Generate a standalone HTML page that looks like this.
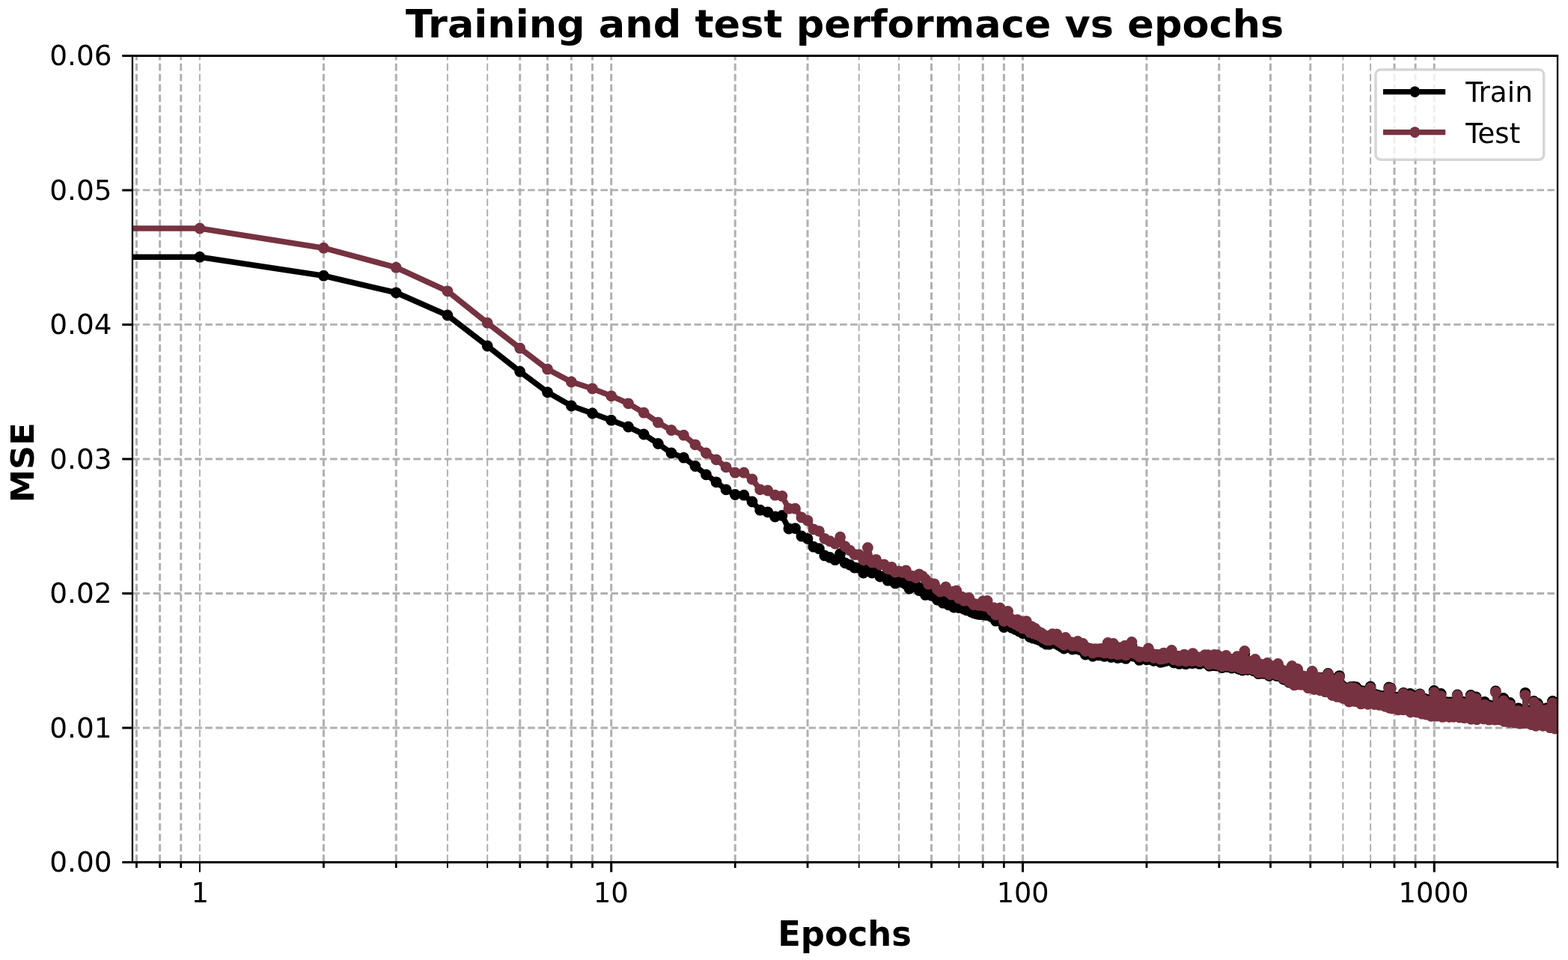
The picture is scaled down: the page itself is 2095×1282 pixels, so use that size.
<!DOCTYPE html>
<html lang="en"><head><meta charset="utf-8"><title>Training and test performace vs epochs</title>
<style>html,body{margin:0;padding:0;background:#fff;}body{width:2095px;height:1282px;overflow:hidden;font-family:'DejaVu Sans','Liberation Sans',sans-serif;}svg text{white-space:pre}</style>
</head><body>
<svg width="2095" height="1282" viewBox="0 0 2095 1282" style="display:block">
<rect width="2095" height="1282" fill="#fff"/>
<defs><clipPath id="ax"><rect x="176.95" y="74.45" width="1904.1000000000001" height="1077.05"/></clipPath></defs>
<path d="M182.43 1150.8V74.45M213.62 1150.8V74.45M241.74 1150.8V74.45M432.41 1150.8V74.45M529.22 1150.8V74.45M694.73 1150.8V74.45M731.53 1150.8V74.45M763.42 1150.8V74.45M791.54 1150.8V74.45M816.70 1150.8V74.45M982.21 1150.8V74.45M1079.02 1150.8V74.45M1244.53 1150.8V74.45M1313.22 1150.8V74.45M1341.34 1150.8V74.45M1366.50 1150.8V74.45M1532.01 1150.8V74.45M1628.82 1150.8V74.45M1697.51 1150.8V74.45M1750.79 1150.8V74.45M1863.02 1150.8V74.45M1891.14 1150.8V74.45M1916.30 1150.8V74.45" stroke="#b0b0b0" stroke-width="3.0" stroke-dasharray="9.6 4.30" fill="none" clip-path="url(#ax)"/>
<path d="M266.90 1150.8V74.45M597.91 1150.8V74.45M651.19 1150.8V74.45M1147.71 1150.8V74.45M1200.99 1150.8V74.45M1281.33 1150.8V74.45M1794.33 1150.8V74.45M1831.13 1150.8V74.45" stroke="#b0b0b0" stroke-width="2.0" stroke-dasharray="9.6 4.30" fill="none" clip-path="url(#ax)"/>
<path d="M176.95 971.99H2081.05M176.95 792.48H2081.05M176.95 612.98H2081.05M176.95 433.47H2081.05M176.95 253.96H2081.05" stroke="#b0b0b0" stroke-width="2.8" stroke-dasharray="9.6 4.30" fill="none" clip-path="url(#ax)"/>
<g clip-path="url(#ax)" fill="none" stroke-linejoin="round">
<path d="M-23.1 343.2 L266.9 343.2 L432.4 368.2 L529.2 390.8 L597.9 421.0 L651.2 462.0 L694.7 496.2 L731.5 523.8 L763.4 542.0 L791.5 552.0 L816.7 561.2 L839.5 570.0 L860.2 580.0 L879.3 592.5 L897.0 605.0 L913.5 611.2 L928.9 622.5 L943.4 633.8 L957.0 643.8 L970.0 653.8 L982.2 660.5 L993.9 661.2 L1005.0 670.0 L1015.6 681.2 L1025.7 683.8 L1035.5 690.0 L1044.9 688.4 L1053.9 706.0 L1062.5 705.6 L1070.9 716.0 L1079.0 719.3 L1086.9 730.2 L1094.4 732.7 L1101.8 741.9 L1108.9 744.4 L1115.8 747.7 L1122.6 739.4 L1129.1 751.8 L1135.5 754.3 L1141.7 758.0 L1147.7 758.6 L1153.6 765.1 L1159.4 761.0 L1165.0 765.1 L1170.5 764.5 L1175.8 770.1 L1181.1 769.5 L1186.2 775.2 L1191.2 773.7 L1196.2 778.9 L1201.0 773.7 L1205.7 777.7 L1210.4 780.3 L1214.9 786.0 L1219.4 782.0 L1223.8 781.9 L1228.1 788.5 L1232.3 785.2 L1236.4 794.4 L1240.5 791.0 L1244.5 795.2 L1248.5 789.4 L1252.4 801.0 L1256.2 800.2 L1259.9 805.2 L1263.6 801.0 L1267.3 807.7 L1270.9 804.0 L1274.4 811.0 L1277.9 807.0 L1281.3 811.5 L1284.7 810.8 L1288.1 813.6 L1291.4 814.8 L1294.6 811.7 L1297.8 817.3 L1301.0 818.5 L1304.1 819.6 L1307.2 820.3 L1310.2 820.6 L1313.2 815.0 L1316.2 821.3 L1319.1 814.1 L1322.0 822.0 L1324.9 823.7 L1327.7 822.7 L1330.5 829.2 L1333.2 824.4 L1336.0 822.4 L1338.7 826.0 L1341.3 837.6 L1344.0 828.2 L1346.6 826.1 L1349.2 834.4 L1351.7 838.3 L1354.3 838.6 L1356.8 840.5 L1359.2 836.2 L1361.7 843.0 L1364.1 838.3 L1366.5 845.7 L1368.9 840.6 L1371.2 837.3 L1373.6 843.1 L1375.9 850.5 L1378.1 843.9 L1380.4 852.2 L1382.7 846.2 L1384.9 853.6 L1387.1 850.3 L1389.3 854.9 L1391.4 851.9 L1393.6 857.7 L1395.7 854.8 L1397.8 860.2 L1399.9 856.5 L1401.9 860.3 L1404.0 857.1 L1406.0 852.3 L1408.0 857.8 L1410.0 859.3 L1412.0 852.2 L1414.0 861.3 L1415.9 859.0 L1417.9 863.6 L1419.8 859.6 L1421.7 866.0 L1423.6 855.9 L1425.4 862.8 L1427.3 860.8 L1429.1 861.3 L1431.0 861.7 L1432.8 867.0 L1434.6 862.9 L1436.4 866.4 L1438.2 864.1 L1439.9 860.5 L1441.7 865.3 L1443.4 868.1 L1445.1 866.4 L1446.8 863.5 L1448.5 867.6 L1450.2 874.1 L1451.9 868.7 L1453.6 873.2 L1455.2 869.8 L1456.9 872.7 L1458.5 870.6 L1460.1 876.3 L1461.7 870.8 L1463.3 871.1 L1464.9 870.9 L1466.5 874.8 L1468.0 870.7 L1469.6 874.9 L1471.1 870.4 L1472.7 871.7 L1474.2 870.2 L1475.7 876.4 L1477.2 869.9 L1478.7 871.7 L1480.2 862.4 L1481.7 870.6 L1483.2 869.4 L1484.6 877.5 L1486.1 869.1 L1487.5 863.4 L1488.9 868.9 L1490.4 873.4 L1491.8 868.6 L1493.2 878.5 L1494.6 868.5 L1496.0 877.9 L1497.4 869.1 L1498.8 876.0 L1500.1 869.6 L1501.5 870.4 L1502.8 866.4 L1504.2 879.4 L1505.5 870.8 L1506.8 872.3 L1508.2 871.4 L1509.5 871.9 L1510.8 871.9 L1512.1 861.3 L1513.4 872.5 L1514.7 876.3 L1516.0 873.0 L1517.2 873.5 L1518.5 873.6 L1519.8 875.2 L1521.0 874.1 L1522.3 881.4 L1523.5 876.7 L1524.7 879.7 L1526.0 875.1 L1527.2 876.0 L1528.4 879.3 L1529.6 879.4 L1530.8 875.8 L1532.0 881.1 L1533.2 880.4 L1534.4 869.8 L1535.6 876.5 L1536.7 878.5 L1537.9 878.7 L1539.1 879.0 L1540.2 877.2 L1541.4 882.6 L1542.5 878.1 L1543.7 880.4 L1544.8 877.8 L1545.9 880.9 L1547.0 878.8 L1548.2 881.7 L1549.3 878.1 L1550.4 884.3 L1551.5 881.0 L1552.6 883.9 L1553.7 878.4 L1554.8 875.7 L1555.8 879.0 L1556.9 882.8 L1558.0 878.6 L1559.1 880.7 L1560.1 881.9 L1561.2 880.5 L1562.2 878.9 L1563.3 879.9 L1564.3 880.9 L1565.4 872.2 L1566.4 879.2 L1567.4 882.3 L1568.5 884.9 L1569.5 884.5 L1570.5 879.4 L1571.5 879.7 L1572.5 880.2 L1573.5 879.9 L1574.5 879.7 L1575.5 886.4 L1576.5 880.2 L1577.5 884.7 L1578.5 879.9 L1579.5 883.2 L1580.5 884.2 L1581.4 885.4 L1582.4 877.6 L1583.4 882.5 L1584.3 886.7 L1585.3 884.0 L1586.2 880.5 L1587.2 884.1 L1588.1 881.5 L1589.1 883.0 L1590.0 880.7 L1591.0 882.0 L1591.9 883.2 L1592.8 885.8 L1593.7 876.1 L1594.7 884.1 L1595.6 881.8 L1596.5 884.9 L1597.4 881.2 L1598.3 883.6 L1599.2 882.0 L1600.1 885.4 L1601.0 881.5 L1601.9 883.5 L1602.8 886.4 L1603.7 885.5 L1604.5 881.1 L1605.4 883.3 L1606.3 883.5 L1607.2 884.2 L1608.0 880.7 L1608.9 881.3 L1609.8 878.1 L1610.6 885.5 L1611.5 880.4 L1612.3 882.6 L1613.2 882.0 L1614.0 878.1 L1614.9 880.0 L1615.7 889.3 L1616.6 888.3 L1617.4 885.7 L1618.2 879.7 L1619.1 881.0 L1619.9 888.7 L1620.7 888.0 L1621.5 880.0 L1622.4 877.9 L1623.2 887.0 L1624.0 887.0 L1624.8 880.3 L1625.6 889.0 L1626.4 878.1 L1627.2 887.0 L1628.0 880.5 L1628.8 888.6 L1629.6 885.0 L1630.4 889.5 L1631.2 880.8 L1632.0 884.2 L1632.8 891.5 L1633.5 886.2 L1634.3 881.3 L1635.1 884.0 L1635.9 889.1 L1636.7 887.3 L1637.4 882.0 L1638.2 878.8 L1639.0 889.4 L1639.7 890.5 L1640.5 882.7 L1641.2 886.9 L1642.0 884.8 L1642.7 885.8 L1643.5 883.3 L1644.2 885.7 L1645.0 886.6 L1645.7 892.0 L1646.5 883.9 L1647.2 884.9 L1647.9 885.8 L1648.7 887.0 L1649.4 884.2 L1650.1 885.9 L1650.9 890.8 L1651.6 890.0 L1652.3 884.4 L1653.0 879.9 L1653.7 891.3 L1654.5 893.1 L1655.2 884.7 L1655.9 890.5 L1656.6 893.8 L1657.3 888.6 L1658.0 885.0 L1658.7 891.3 L1659.4 885.5 L1660.1 895.1 L1660.8 885.3 L1661.5 885.5 L1662.2 887.9 L1662.9 872.7 L1663.6 885.5 L1664.3 889.9 L1664.9 887.9 L1665.6 892.0 L1666.3 885.8 L1667.0 894.6 L1667.7 889.8 L1668.3 890.4 L1669.0 886.1 L1669.7 886.7 L1670.4 893.5 L1671.0 886.7 L1671.7 886.6 L1672.4 892.5 L1673.0 887.4 L1673.7 887.4 L1674.3 887.3 L1675.0 895.8 L1675.6 894.1 L1676.3 889.0 L1677.0 883.6 L1677.6 894.2 L1678.3 891.9 L1678.9 896.6 L1679.5 888.7 L1680.2 892.3 L1680.8 897.8 L1681.5 899.7 L1682.1 889.5 L1682.7 894.4 L1683.4 896.5 L1684.0 895.8 L1684.6 890.2 L1685.3 896.9 L1685.9 892.3 L1686.5 894.7 L1687.1 890.7 L1687.8 899.3 L1688.4 897.8 L1689.0 891.9 L1689.6 898.8 L1690.2 895.2 L1690.9 891.2 L1691.5 899.6 L1692.1 894.4 L1692.7 891.7 L1693.3 888.5 L1693.9 898.4 L1694.5 891.7 L1695.1 892.3 L1695.7 902.6 L1696.3 893.2 L1696.9 894.9 L1697.5 901.3 L1698.1 892.1 L1698.7 893.2 L1699.3 897.2 L1699.9 897.5 L1700.5 898.7 L1701.1 900.0 L1701.7 892.8 L1702.2 898.1 L1702.8 894.2 L1703.4 901.0 L1704.0 894.6 L1704.6 900.7 L1705.1 894.1 L1705.7 902.5 L1706.3 896.6 L1706.9 899.0 L1707.5 889.2 L1708.0 895.6 L1708.6 895.4 L1709.2 901.9 L1709.7 899.1 L1710.3 902.5 L1710.9 901.2 L1711.4 899.9 L1712.0 896.7 L1712.5 904.4 L1713.1 904.0 L1713.7 902.0 L1714.2 901.7 L1714.8 907.0 L1715.3 898.0 L1715.9 899.8 L1716.4 903.9 L1717.0 905.8 L1717.5 905.2 L1718.1 907.9 L1718.6 898.8 L1719.2 902.5 L1719.7 900.7 L1720.3 906.9 L1720.8 902.4 L1721.4 902.1 L1721.9 899.7 L1722.4 911.2 L1723.0 904.5 L1723.5 906.1 L1724.0 905.3 L1724.6 911.5 L1725.1 900.5 L1725.6 906.4 L1726.2 891.6 L1726.7 911.0 L1727.2 908.7 L1727.7 905.4 L1728.3 901.3 L1728.8 908.7 L1729.3 914.5 L1729.8 913.1 L1730.4 903.2 L1730.9 905.8 L1731.4 902.0 L1731.9 906.0 L1732.4 903.0 L1733.0 906.5 L1733.5 895.4 L1734.0 906.0 L1734.5 902.8 L1735.0 904.1 L1735.5 910.3 L1736.0 912.7 L1736.5 910.1 L1737.0 909.3 L1737.5 903.6 L1738.0 908.4 L1738.5 912.8 L1739.0 910.5 L1739.5 908.9 L1740.0 905.5 L1740.5 904.3 L1741.0 909.5 L1741.5 908.1 L1742.0 906.6 L1742.5 906.0 L1743.0 911.2 L1743.5 905.1 L1744.0 910.2 L1744.5 913.1 L1745.0 913.2 L1745.5 910.8 L1746.0 907.4 L1746.5 905.5 L1746.9 913.6 L1747.4 907.6 L1747.9 917.2 L1748.4 914.5 L1748.9 916.3 L1749.4 905.6 L1749.8 908.1 L1750.3 917.2 L1750.8 911.5 L1751.3 916.2 L1751.7 910.6 L1752.2 905.6 L1752.7 916.4 L1753.2 897.7 L1753.6 906.3 L1754.1 917.7 L1754.6 916.8 L1755.1 905.7 L1755.5 908.0 L1756.0 919.1 L1756.5 914.8 L1756.9 912.8 L1757.4 907.5 L1757.9 905.8 L1758.3 912.3 L1758.8 912.2 L1759.2 911.8 L1759.7 912.5 L1760.2 907.7 L1760.6 905.1 L1761.1 911.7 L1761.5 916.8 L1762.0 906.8 L1762.4 913.0 L1762.9 905.1 L1763.4 905.1 L1763.8 920.3 L1764.3 906.2 L1764.7 915.3 L1765.2 910.4 L1765.6 908.6 L1766.1 905.3 L1766.5 917.3 L1766.9 913.8 L1767.4 914.9 L1767.8 915.7 L1768.3 916.4 L1768.7 905.5 L1769.2 905.8 L1769.6 913.9 L1770.1 913.9 L1770.5 922.3 L1770.9 918.4 L1771.4 905.7 L1771.8 907.5 L1772.2 907.6 L1772.7 919.4 L1773.1 915.8 L1773.6 912.9 L1774.0 905.9 L1774.4 899.5 L1774.9 922.2 L1775.3 909.5 L1775.7 921.4 L1776.1 916.8 L1776.6 906.0 L1777.0 911.8 L1777.4 917.0 L1777.9 909.9 L1778.3 906.3 L1778.7 916.0 L1779.1 906.2 L1779.6 915.5 L1780.0 927.1 L1780.4 906.5 L1780.8 910.8 L1781.2 923.3 L1781.7 906.4 L1782.1 918.7 L1782.5 916.5 L1782.9 911.4 L1783.3 919.7 L1783.7 914.7 L1784.2 907.2 L1784.6 918.3 L1785.0 910.1 L1785.4 913.3 L1785.8 920.5 L1786.2 922.3 L1786.6 928.9 L1787.1 919.2 L1787.5 910.3 L1787.9 922.8 L1788.3 912.4 L1788.7 924.2 L1789.1 915.1 L1789.5 902.6 L1789.9 925.5 L1790.3 921.7 L1790.7 913.3 L1791.1 922.7 L1791.5 927.5 L1791.9 917.9 L1792.3 922.3 L1792.7 926.9 L1793.1 928.9 L1793.5 922.6 L1793.9 916.3 L1794.3 931.1 L1794.7 928.2 L1795.1 930.2 L1795.5 919.0 L1795.9 925.6 L1796.3 920.4 L1796.7 924.3 L1797.1 919.3 L1797.5 920.4 L1797.9 931.0 L1798.3 928.9 L1798.7 930.3 L1799.1 921.2 L1799.4 924.4 L1799.8 921.7 L1800.2 920.8 L1800.6 923.5 L1801.0 922.5 L1801.4 921.7 L1801.8 926.1 L1802.2 923.4 L1802.5 935.5 L1802.9 928.3 L1803.3 921.1 L1803.7 925.7 L1804.1 934.1 L1804.5 930.7 L1804.8 917.3 L1805.2 923.9 L1805.6 934.7 L1806.0 930.6 L1806.4 921.4 L1806.7 926.0 L1807.1 923.2 L1807.5 928.6 L1807.9 923.7 L1808.2 929.5 L1808.6 917.1 L1809.0 931.0 L1809.4 921.7 L1809.7 923.2 L1810.1 927.2 L1810.5 931.8 L1810.9 928.1 L1811.2 930.0 L1811.6 935.1 L1812.0 917.7 L1812.3 922.0 L1812.7 927.4 L1813.1 933.8 L1813.4 930.1 L1813.8 933.2 L1814.2 933.7 L1814.5 932.1 L1814.9 923.7 L1815.3 922.2 L1815.6 925.2 L1816.0 923.3 L1816.4 935.1 L1816.7 933.6 L1817.1 936.2 L1817.4 936.9 L1817.8 927.7 L1818.2 922.5 L1818.5 938.4 L1818.9 924.5 L1819.2 933.2 L1819.6 933.9 L1820.0 925.4 L1820.3 937.3 L1820.7 923.9 L1821.0 922.8 L1821.4 937.2 L1821.7 934.5 L1822.1 936.5 L1822.5 925.2 L1822.8 936.9 L1823.2 936.9 L1823.5 928.7 L1823.9 923.2 L1824.2 932.9 L1824.6 926.5 L1824.9 931.7 L1825.3 927.5 L1825.6 933.8 L1826.0 935.9 L1826.3 936.8 L1826.7 924.1 L1827.0 936.1 L1827.4 936.7 L1827.7 938.8 L1828.0 930.9 L1828.4 928.7 L1828.7 931.3 L1829.1 929.7 L1829.4 924.9 L1829.8 928.3 L1830.1 930.2 L1830.5 935.6 L1830.8 933.6 L1831.1 917.0 L1831.5 932.3 L1831.8 929.6 L1832.2 925.7 L1832.5 929.7 L1832.8 929.6 L1833.2 936.0 L1833.5 926.8 L1833.8 933.3 L1834.2 933.9 L1834.5 930.1 L1834.9 926.5 L1835.2 928.5 L1835.5 931.7 L1835.9 937.5 L1836.2 932.7 L1836.5 939.0 L1836.9 929.0 L1837.2 936.0 L1837.5 927.3 L1837.9 931.4 L1838.2 930.9 L1838.5 938.0 L1838.9 929.1 L1839.2 937.4 L1839.5 929.5 L1839.8 929.5 L1840.2 928.1 L1840.5 933.1 L1840.8 935.2 L1841.2 934.8 L1841.5 929.3 L1841.8 932.2 L1842.1 934.2 L1842.5 935.4 L1842.8 928.9 L1843.1 939.9 L1843.4 929.8 L1843.8 929.8 L1844.1 935.7 L1844.4 930.9 L1844.7 932.4 L1845.0 930.1 L1845.4 929.3 L1845.7 931.0 L1846.0 931.4 L1846.3 933.7 L1846.7 932.5 L1847.0 938.9 L1847.3 935.8 L1847.6 931.5 L1847.9 929.5 L1848.2 936.5 L1848.6 933.5 L1848.9 935.3 L1849.2 939.3 L1849.5 938.4 L1849.8 933.3 L1850.1 934.6 L1850.5 929.8 L1850.8 941.8 L1851.1 930.6 L1851.4 937.9 L1851.7 931.2 L1852.0 935.5 L1852.3 934.2 L1852.6 940.7 L1853.0 930.0 L1853.3 930.7 L1853.6 930.9 L1853.9 937.4 L1854.2 939.7 L1854.5 930.7 L1854.8 936.7 L1855.1 931.0 L1855.4 943.0 L1855.7 918.0 L1856.1 930.4 L1856.4 943.7 L1856.7 937.3 L1857.0 931.2 L1857.3 937.7 L1857.6 940.9 L1857.9 934.5 L1858.2 919.0 L1858.5 933.8 L1858.8 940.4 L1859.1 930.7 L1859.4 933.6 L1859.7 937.7 L1860.0 944.5 L1860.3 943.1 L1860.6 940.9 L1860.9 938.6 L1861.2 931.8 L1861.5 934.8 L1861.8 935.1 L1862.1 931.0 L1862.4 934.5 L1862.7 942.6 L1863.0 932.4 L1863.3 934.0 L1863.6 940.9 L1863.9 936.2 L1864.2 938.1 L1864.5 943.5 L1864.8 933.8 L1865.1 931.3 L1865.4 936.1 L1865.7 933.7 L1866.0 932.3 L1866.3 937.7 L1866.6 938.8 L1866.9 944.7 L1867.2 943.4 L1867.5 935.2 L1867.7 942.6 L1868.0 931.2 L1868.3 946.4 L1868.6 934.0 L1868.9 942.5 L1869.2 934.2 L1869.5 939.0 L1869.8 934.4 L1870.1 940.2 L1870.4 931.0 L1870.7 937.9 L1870.9 930.2 L1871.2 939.1 L1871.5 940.8 L1871.8 935.0 L1872.1 942.7 L1872.4 943.0 L1872.7 930.2 L1873.0 942.0 L1873.2 932.4 L1873.5 943.9 L1873.8 929.2 L1874.1 943.5 L1874.4 939.4 L1874.7 939.7 L1875.0 946.3 L1875.2 925.3 L1875.5 940.6 L1875.8 932.6 L1876.1 932.6 L1876.4 932.0 L1876.7 928.3 L1876.9 932.5 L1877.2 938.3 L1877.5 940.5 L1877.8 931.4 L1878.1 939.1 L1878.3 944.2 L1878.6 928.5 L1878.9 944.5 L1879.2 932.0 L1879.5 927.3 L1879.7 930.1 L1880.0 934.9 L1880.3 928.5 L1880.6 935.5 L1880.8 930.7 L1881.1 937.9 L1881.4 929.8 L1881.7 939.8 L1881.9 929.1 L1882.2 927.7 L1882.5 929.4 L1882.8 947.3 L1883.0 940.8 L1883.3 929.9 L1883.6 942.7 L1883.9 937.2 L1884.1 926.3 L1884.4 947.9 L1884.7 949.6 L1885.0 928.3 L1885.2 940.6 L1885.5 930.6 L1885.8 941.6 L1886.0 944.9 L1886.3 945.7 L1886.6 940.0 L1886.9 928.9 L1887.1 930.7 L1887.4 937.7 L1887.7 928.8 L1887.9 936.1 L1888.2 933.8 L1888.5 946.8 L1888.7 930.2 L1889.0 931.4 L1889.3 939.1 L1889.5 941.5 L1889.8 938.0 L1890.1 938.5 L1890.3 929.3 L1890.6 945.5 L1890.9 934.5 L1891.1 931.5 L1891.4 936.0 L1891.7 942.6 L1891.9 940.0 L1892.2 944.6 L1892.5 949.5 L1892.7 943.7 L1893.0 930.1 L1893.3 936.6 L1893.5 935.0 L1893.8 940.3 L1894.0 946.2 L1894.3 941.3 L1894.6 933.9 L1894.8 943.8 L1895.1 941.6 L1895.4 944.1 L1895.6 930.9 L1895.9 943.1 L1896.1 940.6 L1896.4 934.2 L1896.6 934.5 L1896.9 946.5 L1897.2 927.0 L1897.4 943.5 L1897.7 937.4 L1897.9 936.4 L1898.2 931.6 L1898.5 946.2 L1898.7 946.2 L1899.0 932.1 L1899.2 939.5 L1899.5 936.4 L1899.7 946.6 L1900.0 951.7 L1900.3 945.0 L1900.5 941.6 L1900.8 932.4 L1901.0 935.0 L1901.3 943.9 L1901.5 937.2 L1901.8 944.8 L1902.0 939.6 L1902.3 935.4 L1902.5 946.1 L1902.8 943.0 L1903.0 933.5 L1903.3 933.2 L1903.5 935.2 L1903.8 940.1 L1904.1 944.1 L1904.3 948.1 L1904.6 935.9 L1904.8 948.8 L1905.1 934.9 L1905.3 935.0 L1905.6 934.7 L1905.8 933.9 L1906.1 952.7 L1906.3 944.7 L1906.6 937.1 L1906.8 941.6 L1907.0 942.9 L1907.3 949.6 L1907.5 950.0 L1907.8 940.3 L1908.0 949.9 L1908.3 939.9 L1908.5 944.8 L1908.8 934.7 L1909.0 942.7 L1909.3 938.6 L1909.5 935.0 L1909.8 948.6 L1910.0 946.1 L1910.3 944.4 L1910.5 944.4 L1910.7 949.0 L1911.0 947.3 L1911.2 951.8 L1911.5 942.9 L1911.7 935.1 L1912.0 951.1 L1912.2 954.8 L1912.4 943.8 L1912.7 947.4 L1912.9 947.3 L1913.2 935.5 L1913.4 951.4 L1913.7 942.7 L1913.9 943.7 L1914.1 936.4 L1914.4 949.7 L1914.6 935.4 L1914.9 937.5 L1915.1 947.6 L1915.3 946.1 L1915.6 951.2 L1915.8 949.4 L1916.1 922.5 L1916.3 941.3 L1916.5 951.0 L1916.8 950.0 L1917.0 946.3 L1917.3 946.3 L1917.5 935.8 L1917.7 935.9 L1918.0 938.6 L1918.2 939.8 L1918.4 941.1 L1918.7 946.5 L1918.9 941.8 L1919.1 938.8 L1919.4 940.9 L1919.6 954.7 L1919.9 940.0 L1920.1 940.8 L1920.3 936.2 L1920.6 939.7 L1920.8 947.7 L1921.0 944.7 L1921.3 951.7 L1921.5 946.2 L1921.7 942.5 L1922.0 949.7 L1922.2 943.6 L1922.4 947.7 L1922.7 949.4 L1922.9 947.3 L1923.1 936.6 L1923.4 945.6 L1923.6 946.0 L1923.8 940.5 L1924.1 942.7 L1924.3 943.8 L1924.5 951.8 L1924.7 953.5 L1925.0 947.5 L1925.2 926.5 L1925.4 942.8 L1925.7 939.4 L1925.9 936.9 L1926.1 946.6 L1926.4 939.8 L1926.6 942.0 L1926.8 945.4 L1927.0 944.0 L1927.3 955.9 L1927.5 954.3 L1927.7 938.6 L1927.9 937.8 L1928.2 945.9 L1928.4 944.7 L1928.6 937.3 L1928.9 953.3 L1929.1 942.3 L1929.3 941.0 L1929.5 951.0 L1929.8 945.2 L1930.0 941.0 L1930.2 938.4 L1930.4 948.0 L1930.7 952.7 L1930.9 942.4 L1931.1 944.5 L1931.3 937.7 L1931.6 948.4 L1931.8 954.8 L1932.0 939.1 L1932.2 948.6 L1932.5 954.4 L1932.7 953.4 L1932.9 945.0 L1933.1 954.5 L1933.3 942.0 L1933.6 942.4 L1933.8 955.0 L1934.0 938.0 L1934.2 949.8 L1934.5 950.1 L1934.7 940.4 L1934.9 953.7 L1935.1 947.9 L1935.3 938.8 L1935.6 953.4 L1935.8 944.6 L1936.0 950.5 L1936.2 956.1 L1936.4 949.1 L1936.7 938.0 L1936.9 947.7 L1937.1 942.7 L1937.3 939.3 L1937.5 939.4 L1937.8 945.7 L1938.0 950.3 L1938.2 944.1 L1938.4 953.0 L1938.6 948.8 L1938.8 949.5 L1939.1 938.7 L1939.3 937.9 L1939.5 948.0 L1939.7 949.7 L1939.9 945.7 L1940.1 945.6 L1940.4 940.2 L1940.6 946.2 L1940.8 938.3 L1941.0 953.6 L1941.2 944.4 L1941.4 947.4 L1941.6 949.4 L1941.9 937.8 L1942.1 955.8 L1942.3 947.9 L1942.5 938.8 L1942.7 945.7 L1942.9 948.0 L1943.1 953.4 L1943.4 953.2 L1943.6 940.1 L1943.8 952.4 L1944.0 949.8 L1944.2 948.5 L1944.4 937.8 L1944.6 951.3 L1944.8 951.0 L1945.1 947.5 L1945.3 952.5 L1945.5 944.4 L1945.7 946.9 L1945.9 943.0 L1946.1 951.4 L1946.3 950.8 L1946.5 947.1 L1946.7 948.1 L1947.0 937.7 L1947.2 928.0 L1947.4 946.4 L1947.6 948.6 L1947.8 948.5 L1948.0 941.3 L1948.2 954.2 L1948.4 951.8 L1948.6 938.4 L1948.8 949.1 L1949.0 954.1 L1949.3 951.2 L1949.5 937.7 L1949.7 938.1 L1949.9 949.8 L1950.1 956.6 L1950.3 953.5 L1950.5 940.8 L1950.7 945.4 L1950.9 939.4 L1951.1 948.5 L1951.3 947.9 L1951.5 946.1 L1951.7 944.2 L1951.9 946.2 L1952.2 951.0 L1952.4 937.6 L1952.6 938.6 L1952.8 945.5 L1953.0 947.7 L1953.2 954.2 L1953.4 937.9 L1953.6 955.2 L1953.8 955.5 L1954.0 949.6 L1954.2 939.0 L1954.4 949.4 L1954.6 939.2 L1954.8 939.9 L1955.0 949.4 L1955.2 937.5 L1955.4 948.9 L1955.6 939.9 L1955.8 943.2 L1956.0 943.2 L1956.2 944.7 L1956.4 944.4 L1956.6 957.2 L1956.8 940.1 L1957.0 950.6 L1957.2 953.0 L1957.4 950.0 L1957.6 941.9 L1957.8 940.6 L1958.0 938.1 L1958.2 946.2 L1958.4 941.9 L1958.6 942.5 L1958.8 942.4 L1959.0 946.9 L1959.2 944.5 L1959.4 953.9 L1959.6 947.0 L1959.8 956.0 L1960.0 948.3 L1960.2 954.4 L1960.4 941.0 L1960.6 941.8 L1960.8 939.0 L1961.0 940.4 L1961.2 954.3 L1961.4 944.5 L1961.6 949.4 L1961.8 944.4 L1962.0 943.4 L1962.2 940.6 L1962.4 940.4 L1962.6 947.5 L1962.8 941.1 L1963.0 949.6 L1963.2 944.6 L1963.4 947.9 L1963.6 939.9 L1963.8 954.5 L1964.0 944.2 L1964.2 942.7 L1964.4 944.9 L1964.6 954.5 L1964.8 946.4 L1965.0 943.3 L1965.1 928.5 L1965.3 940.9 L1965.5 958.8 L1965.7 954.7 L1965.9 946.9 L1966.1 957.2 L1966.3 940.8 L1966.5 950.5 L1966.7 941.8 L1966.9 952.9 L1967.1 949.7 L1967.3 957.6 L1967.5 950.7 L1967.7 947.3 L1967.9 955.1 L1968.0 952.4 L1968.2 945.8 L1968.4 951.2 L1968.6 954.1 L1968.8 955.8 L1969.0 941.7 L1969.2 945.5 L1969.4 950.8 L1969.6 953.7 L1969.8 957.0 L1970.0 946.7 L1970.2 944.2 L1970.3 953.1 L1970.5 951.5 L1970.7 943.0 L1970.9 953.9 L1971.1 952.2 L1971.3 951.8 L1971.5 948.9 L1971.7 942.6 L1971.9 943.8 L1972.1 946.1 L1972.2 931.0 L1972.4 957.0 L1972.6 944.5 L1972.8 946.7 L1973.0 952.8 L1973.2 959.3 L1973.4 955.5 L1973.6 953.0 L1973.7 947.6 L1973.9 950.0 L1974.1 948.9 L1974.3 943.4 L1974.5 951.9 L1974.7 951.1 L1974.9 948.1 L1975.1 943.9 L1975.2 954.8 L1975.4 944.7 L1975.6 953.5 L1975.8 950.6 L1976.0 953.7 L1976.2 944.5 L1976.4 948.4 L1976.5 953.4 L1976.7 946.6 L1976.9 944.3 L1977.1 950.4 L1977.3 951.8 L1977.5 951.9 L1977.7 947.5 L1977.8 954.9 L1978.0 955.8 L1978.2 948.9 L1978.4 953.3 L1978.6 954.5 L1978.8 954.8 L1978.9 956.4 L1979.1 952.1 L1979.3 948.6 L1979.5 944.2 L1979.7 953.2 L1979.9 956.6 L1980.0 954.4 L1980.2 955.7 L1980.4 951.9 L1980.6 956.9 L1980.8 947.3 L1981.0 949.7 L1981.1 946.9 L1981.3 945.0 L1981.5 945.3 L1981.7 953.4 L1981.9 955.8 L1982.0 943.7 L1982.2 958.6 L1982.4 945.3 L1982.6 948.9 L1982.8 952.6 L1983.0 949.4 L1983.1 954.2 L1983.3 956.1 L1983.5 957.4 L1983.7 937.5 L1983.9 944.5 L1984.0 949.5 L1984.2 952.1 L1984.4 945.9 L1984.6 943.2 L1984.8 955.8 L1984.9 947.5 L1985.1 951.4 L1985.3 948.7 L1985.5 943.5 L1985.6 957.2 L1985.8 943.9 L1986.0 955.3 L1986.2 956.5 L1986.4 953.1 L1986.5 945.8 L1986.7 953.3 L1986.9 957.3 L1987.1 946.6 L1987.2 948.4 L1987.4 942.6 L1987.6 946.4 L1987.8 943.4 L1988.0 953.1 L1988.1 945.0 L1988.3 951.1 L1988.5 950.5 L1988.7 957.7 L1988.8 944.2 L1989.0 948.1 L1989.2 952.1 L1989.4 957.3 L1989.5 959.7 L1989.7 952.7 L1989.9 948.0 L1990.1 945.2 L1990.2 942.0 L1990.4 953.6 L1990.6 957.7 L1990.8 944.3 L1990.9 955.0 L1991.1 945.3 L1991.3 947.1 L1991.5 952.9 L1991.6 954.9 L1991.8 956.5 L1992.0 955.3 L1992.2 946.1 L1992.3 943.0 L1992.5 948.1 L1992.7 954.6 L1992.9 946.1 L1993.0 942.7 L1993.2 945.4 L1993.4 950.2 L1993.6 947.4 L1993.7 955.6 L1993.9 955.6 L1994.1 957.2 L1994.2 945.0 L1994.4 950.6 L1994.6 956.5 L1994.8 944.6 L1994.9 951.0 L1995.1 955.9 L1995.3 957.6 L1995.4 957.3 L1995.6 950.0 L1995.8 943.3 L1996.0 945.8 L1996.1 946.8 L1996.3 950.2 L1996.5 953.1 L1996.6 947.2 L1996.8 946.3 L1997.0 951.4 L1997.2 948.5 L1997.3 946.4 L1997.5 959.7 L1997.7 950.4 L1997.8 955.4 L1998.0 952.0 L1998.2 954.5 L1998.3 923.0 L1998.5 943.9 L1998.7 949.4 L1998.8 949.3 L1999.0 945.5 L1999.2 946.8 L1999.4 952.6 L1999.5 954.5 L1999.7 950.9 L1999.9 946.0 L2000.0 944.9 L2000.2 944.8 L2000.4 952.7 L2000.5 950.5 L2000.7 956.8 L2000.9 952.3 L2001.0 947.6 L2001.2 944.5 L2001.4 956.7 L2001.5 953.8 L2001.7 956.0 L2001.9 956.1 L2002.0 957.3 L2002.2 953.2 L2002.4 956.4 L2002.5 945.9 L2002.7 958.2 L2002.9 958.1 L2003.0 955.0 L2003.2 946.7 L2003.4 947.0 L2003.5 954.9 L2003.7 957.8 L2003.9 945.1 L2004.0 959.5 L2004.2 946.4 L2004.4 953.2 L2004.5 952.2 L2004.7 956.1 L2004.9 947.9 L2005.0 946.5 L2005.2 947.7 L2005.3 948.5 L2005.5 953.6 L2005.7 957.8 L2005.8 958.6 L2006.0 951.8 L2006.2 948.3 L2006.3 956.8 L2006.5 945.7 L2006.7 953.5 L2006.8 950.4 L2007.0 958.4 L2007.2 958.8 L2007.3 957.1 L2007.5 952.3 L2007.6 953.8 L2007.8 946.5 L2008.0 952.6 L2008.1 947.6 L2008.3 957.4 L2008.5 959.7 L2008.6 948.3 L2008.8 932.5 L2008.9 958.9 L2009.1 946.3 L2009.3 952.4 L2009.4 956.7 L2009.6 948.1 L2009.7 948.9 L2009.9 954.2 L2010.1 957.4 L2010.2 961.9 L2010.4 948.0 L2010.6 955.2 L2010.7 952.6 L2010.9 958.8 L2011.0 952.6 L2011.2 947.1 L2011.4 948.4 L2011.5 955.7 L2011.7 946.9 L2011.8 953.1 L2012.0 953.4 L2012.2 950.5 L2012.3 960.5 L2012.5 951.3 L2012.6 947.3 L2012.8 959.2 L2013.0 955.7 L2013.1 954.7 L2013.3 949.1 L2013.4 959.8 L2013.6 961.5 L2013.8 957.0 L2013.9 949.2 L2014.1 958.4 L2014.2 947.5 L2014.4 951.6 L2014.5 961.4 L2014.7 952.0 L2014.9 955.2 L2015.0 955.7 L2015.2 950.3 L2015.3 956.5 L2015.5 955.1 L2015.6 958.2 L2015.8 950.4 L2016.0 950.7 L2016.1 951.4 L2016.3 961.4 L2016.4 955.9 L2016.6 963.1 L2016.7 948.1 L2016.9 948.5 L2017.1 959.8 L2017.2 953.3 L2017.4 938.5 L2017.5 956.7 L2017.7 958.5 L2017.8 961.3 L2018.0 951.9 L2018.2 957.7 L2018.3 956.3 L2018.5 958.1 L2018.6 957.6 L2018.8 949.2 L2018.9 953.2 L2019.1 950.3 L2019.2 956.4 L2019.4 951.5 L2019.6 948.7 L2019.7 960.1 L2019.9 949.4 L2020.0 960.9 L2020.2 954.6 L2020.3 957.1 L2020.5 952.8 L2020.6 958.3 L2020.8 953.9 L2020.9 953.1 L2021.1 961.5 L2021.3 954.5 L2021.4 955.4 L2021.6 957.6 L2021.7 960.6 L2021.9 961.0 L2022.0 952.8 L2022.2 956.5 L2022.3 949.4 L2022.5 958.8 L2022.6 952.0 L2022.8 960.5 L2022.9 959.0 L2023.1 961.6 L2023.2 951.7 L2023.4 951.2 L2023.5 957.0 L2023.7 958.2 L2023.9 951.9 L2024.0 963.7 L2024.2 960.4 L2024.3 955.5 L2024.5 955.6 L2024.6 953.0 L2024.8 953.2 L2024.9 950.0 L2025.1 950.0 L2025.2 950.6 L2025.4 958.9 L2025.5 953.6 L2025.7 956.5 L2025.8 956.8 L2026.0 962.4 L2026.1 959.2 L2026.3 955.4 L2026.4 961.2 L2026.6 957.9 L2026.7 958.9 L2026.9 956.2 L2027.0 960.4 L2027.2 953.8 L2027.3 958.4 L2027.5 962.4 L2027.6 950.2 L2027.8 949.9 L2027.9 953.2 L2028.1 952.1 L2028.2 961.3 L2028.4 961.3 L2028.5 962.7 L2028.7 945.9 L2028.8 953.3 L2029.0 961.4 L2029.1 950.4 L2029.3 956.9 L2029.4 952.0 L2029.6 955.5 L2029.7 956.0 L2029.9 958.1 L2030.0 954.4 L2030.2 957.8 L2030.3 952.1 L2030.5 949.7 L2030.6 962.3 L2030.8 964.6 L2030.9 961.3 L2031.0 961.0 L2031.2 949.7 L2031.3 952.9 L2031.5 959.1 L2031.6 957.8 L2031.8 956.5 L2031.9 959.7 L2032.1 959.6 L2032.2 960.5 L2032.4 960.7 L2032.5 961.3 L2032.7 951.4 L2032.8 953.0 L2033.0 949.7 L2033.1 949.5 L2033.3 961.4 L2033.4 956.7 L2033.5 950.8 L2033.7 955.1 L2033.8 952.1 L2034.0 960.4 L2034.1 962.0 L2034.3 949.9 L2034.4 956.8 L2034.6 951.1 L2034.7 955.8 L2034.9 959.4 L2035.0 953.7 L2035.1 957.3 L2035.3 961.9 L2035.4 952.6 L2035.6 949.4 L2035.7 949.3 L2035.9 954.2 L2036.0 952.5 L2036.2 952.3 L2036.3 964.2 L2036.5 950.6 L2036.6 963.8 L2036.7 963.2 L2036.9 954.6 L2037.0 962.1 L2037.2 952.8 L2037.3 949.4 L2037.5 953.3 L2037.6 962.2 L2037.7 960.1 L2037.9 925.3 L2038.0 955.1 L2038.2 956.9 L2038.3 949.1 L2038.5 961.8 L2038.6 959.3 L2038.7 958.7 L2038.9 959.7 L2039.0 952.4 L2039.2 961.3 L2039.3 960.3 L2039.5 956.5 L2039.6 957.5 L2039.7 957.5 L2039.9 963.7 L2040.0 957.2 L2040.2 951.9 L2040.3 950.5 L2040.5 952.3 L2040.6 959.0 L2040.7 954.5 L2040.9 948.9 L2041.0 957.2 L2041.2 949.7 L2041.3 956.5 L2041.5 954.0 L2041.6 957.2 L2041.7 954.6 L2041.9 955.6 L2042.0 964.0 L2042.2 960.7 L2042.3 953.3 L2042.4 956.3 L2042.6 952.0 L2042.7 961.9 L2042.9 963.7 L2043.0 954.0 L2043.1 955.2 L2043.3 954.8 L2043.4 948.8 L2043.6 960.7 L2043.7 949.8 L2043.8 950.5 L2044.0 950.2 L2044.1 952.2 L2044.3 960.4 L2044.4 951.0 L2044.5 949.5 L2044.7 949.4 L2044.8 950.4 L2045.0 952.3 L2045.1 961.1 L2045.2 962.1 L2045.4 955.9 L2045.5 950.3 L2045.7 956.3 L2045.8 956.3 L2045.9 948.6 L2046.1 962.9 L2046.2 957.5 L2046.3 959.4 L2046.5 966.2 L2046.6 961.3 L2046.8 951.6 L2046.9 949.0 L2047.0 952.5 L2047.2 949.3 L2047.3 956.6 L2047.5 959.5 L2047.6 949.2 L2047.7 960.8 L2047.9 964.0 L2048.0 955.7 L2048.1 950.1 L2048.3 957.6 L2048.4 958.9 L2048.6 954.9 L2048.7 948.4 L2048.8 955.6 L2049.0 960.2 L2049.1 963.6 L2049.2 955.6 L2049.4 936.5 L2049.5 953.1 L2049.6 955.7 L2049.8 964.8 L2049.9 953.6 L2050.1 962.1 L2050.2 965.7 L2050.3 958.1 L2050.5 952.2 L2050.6 959.6 L2050.7 959.0 L2050.9 953.6 L2051.0 957.0 L2051.1 956.9 L2051.3 949.4 L2051.4 948.2 L2051.6 955.1 L2051.7 963.7 L2051.8 952.3 L2052.0 959.8 L2052.1 967.8 L2052.2 955.4 L2052.4 949.8 L2052.5 964.4 L2052.6 964.8 L2052.8 949.1 L2052.9 957.1 L2053.0 951.9 L2053.2 957.7 L2053.3 965.5 L2053.4 952.4 L2053.6 959.9 L2053.7 957.5 L2053.8 954.9 L2054.0 954.7 L2054.1 948.0 L2054.2 955.4 L2054.4 939.5 L2054.5 952.8 L2054.7 964.2 L2054.8 950.4 L2054.9 948.3 L2055.1 951.6 L2055.2 958.2 L2055.3 959.3 L2055.5 949.9 L2055.6 966.0 L2055.7 949.8 L2055.9 961.3 L2056.0 959.5 L2056.1 960.9 L2056.3 959.1 L2056.4 953.0 L2056.5 947.9 L2056.6 958.8 L2056.8 947.8 L2056.9 961.0 L2057.0 955.3 L2057.2 953.4 L2057.3 953.7 L2057.4 955.3 L2057.6 953.3 L2057.7 954.3 L2057.8 950.2 L2058.0 954.2 L2058.1 948.0 L2058.2 954.4 L2058.4 952.2 L2058.5 965.3 L2058.6 951.4 L2058.8 952.0 L2058.9 958.2 L2059.0 963.4 L2059.2 964.1 L2059.3 961.0 L2059.4 947.6 L2059.5 957.1 L2059.7 956.3 L2059.8 949.5 L2059.9 951.5 L2060.1 955.7 L2060.2 966.2 L2060.3 965.2 L2060.5 955.1 L2060.6 962.9 L2060.7 955.4 L2060.9 955.5 L2061.0 953.1 L2061.1 950.7 L2061.2 958.2 L2061.4 960.1 L2061.5 947.7 L2061.6 967.8 L2061.8 959.1 L2061.9 956.3 L2062.0 947.1 L2062.2 964.7 L2062.3 959.1 L2062.4 964.4 L2062.5 952.1 L2062.7 948.8 L2062.8 948.2 L2062.9 954.8 L2063.1 958.5 L2063.2 949.8 L2063.3 960.1 L2063.4 961.8 L2063.6 962.0 L2063.7 965.0 L2063.8 963.5 L2064.0 948.6 L2064.1 957.6 L2064.2 965.6 L2064.3 958.5 L2064.5 960.5 L2064.6 946.3 L2064.7 964.5 L2064.9 950.1 L2065.0 957.5 L2065.1 948.3 L2065.2 963.4 L2065.4 959.2 L2065.5 947.2 L2065.6 954.6 L2065.8 947.9 L2065.9 948.6 L2066.0 954.6 L2066.1 952.2 L2066.3 946.9 L2066.4 961.5 L2066.5 949.5 L2066.7 948.5 L2066.8 965.4 L2066.9 959.7 L2067.0 956.2 L2067.2 945.6 L2067.3 957.8 L2067.4 956.5 L2067.5 966.7 L2067.7 963.6 L2067.8 959.3 L2067.9 956.9 L2068.0 946.0 L2068.2 960.6 L2068.3 951.1 L2068.4 967.0 L2068.6 955.2 L2068.7 949.7 L2068.8 960.0 L2068.9 962.4 L2069.1 962.5 L2069.2 956.5 L2069.3 954.1 L2069.4 946.6 L2069.6 960.7 L2069.7 944.9 L2069.8 964.6 L2069.9 959.3 L2070.1 963.6 L2070.2 950.2 L2070.3 959.1 L2070.4 952.2 L2070.6 955.0 L2070.7 958.4 L2070.8 951.7 L2070.9 963.1 L2071.1 970.2 L2071.2 949.8 L2071.3 960.0 L2071.4 955.9 L2071.6 949.4 L2071.7 949.0 L2071.8 947.9 L2071.9 948.1 L2072.1 948.8 L2072.2 952.0 L2072.3 964.0 L2072.4 944.3 L2072.6 966.3 L2072.7 963.3 L2072.8 960.4 L2072.9 968.8 L2073.1 962.5 L2073.2 945.6 L2073.3 962.0 L2073.4 952.4 L2073.5 947.3 L2073.7 966.5 L2073.8 952.0 L2073.9 950.9 L2074.0 945.9 L2074.2 966.5 L2074.3 952.5 L2074.4 936.5 L2074.5 951.6 L2074.7 954.9 L2074.8 945.2 L2074.9 946.8 L2075.0 959.3 L2075.1 943.6 L2075.3 963.8 L2075.4 946.1 L2075.5 961.7 L2075.6 943.9 L2075.8 969.0 L2075.9 943.6 L2076.0 961.5 L2076.1 963.3 L2076.3 967.6 L2076.4 948.8 L2076.5 958.0 L2076.6 954.1 L2076.7 958.7 L2076.9 946.5 L2077.0 953.0 L2077.1 947.8 L2077.2 960.5 L2077.3 948.6 L2077.5 966.3 L2077.6 944.2 L2077.7 971.5 L2077.8 942.9 L2078.0 962.9 L2078.1 961.6 L2078.2 955.8 L2078.3 968.5 L2078.4 960.3 L2078.6 962.6 L2078.7 948.4 L2078.8 947.4 L2078.9 954.9 L2079.0 951.9 L2079.2 958.1 L2079.3 965.4 L2079.4 946.8 L2079.5 959.1 L2079.6 958.4 L2079.8 943.1 L2079.9 942.8 L2080.0 960.6 L2080.1 946.8 L2080.2 948.0 L2080.4 960.8 L2080.5 942.3 L2080.6 943.9 L2080.7 958.4 L2080.8 957.8 L2081.0 956.6 L2081.1 944.9 L2081.2 966.4 L2081.3 965.6 L2081.4 938.0 L2081.6 942.1 L2081.7 950.5 L2081.8 956.6" stroke="#000" stroke-width="7.6"/>
<path d="M266.9 343.2h0M432.4 368.2h0M529.2 390.8h0M597.9 421.0h0M651.2 462.0h0M694.7 496.2h0M731.5 523.8h0M763.4 542.0h0M791.5 552.0h0M816.7 561.2h0M839.5 570.0h0M860.2 580.0h0M879.3 592.5h0M897.0 605.0h0M913.5 611.2h0M928.9 622.5h0M943.4 633.8h0M957.0 643.8h0M970.0 653.8h0M982.2 660.5h0M993.9 661.2h0M1005.0 670.0h0M1015.6 681.2h0M1025.7 683.8h0M1035.5 690.0h0M1044.9 688.4h0M1053.9 706.0h0M1062.5 705.6h0M1070.9 716.0h0M1079.0 719.3h0M1086.9 730.2h0M1094.4 732.7h0M1101.8 741.9h0M1108.9 744.4h0M1115.8 747.7h0M1122.6 739.4h0M1129.1 751.8h0M1135.5 754.3h0M1141.7 758.0h0M1147.7 758.6h0M1153.6 765.1h0M1159.4 761.0h0M1165.0 765.1h0M1170.5 764.5h0M1175.8 770.1h0M1181.1 769.5h0M1186.2 775.2h0M1191.2 773.7h0M1196.2 778.9h0M1201.0 773.7h0M1205.7 777.7h0M1210.4 780.3h0M1214.9 786.0h0M1219.4 782.0h0M1223.8 781.9h0M1228.1 788.5h0M1232.3 785.2h0M1236.4 794.4h0M1240.5 791.0h0M1244.5 795.2h0M1248.5 789.4h0M1252.4 801.0h0M1256.2 800.2h0M1259.9 805.2h0M1263.6 801.0h0M1267.3 807.7h0M1270.9 804.0h0M1274.4 811.0h0M1277.9 807.0h0M1281.3 811.5h0M1284.7 810.8h0M1288.1 813.6h0M1291.4 814.8h0M1294.6 811.7h0M1297.8 817.3h0M1301.0 818.5h0M1304.1 819.6h0M1307.2 820.3h0M1310.2 820.6h0M1313.2 815.0h0M1316.2 821.3h0M1319.1 814.1h0M1322.0 822.0h0M1324.9 823.7h0M1327.7 822.7h0M1330.5 829.2h0M1333.2 824.4h0M1336.0 822.4h0M1338.7 826.0h0M1341.3 837.6h0M1344.0 828.2h0M1346.6 826.1h0M1349.2 834.4h0M1351.7 838.3h0M1354.3 838.6h0M1356.8 840.5h0M1359.2 836.2h0M1361.7 843.0h0M1364.1 838.3h0M1366.5 845.7h0M1368.9 840.6h0M1371.2 837.3h0M1373.6 843.1h0M1375.9 850.5h0M1378.1 843.9h0M1380.4 852.2h0M1382.7 846.2h0M1384.9 853.6h0M1387.1 850.3h0M1389.3 854.9h0M1391.4 851.9h0M1393.6 857.7h0M1395.7 854.8h0M1397.8 860.2h0M1399.9 856.5h0M1401.9 860.3h0M1404.0 857.1h0M1406.0 852.3h0M1408.0 857.8h0M1410.0 859.3h0M1412.0 852.2h0M1414.0 861.3h0M1415.9 859.0h0M1417.9 863.6h0M1419.8 859.6h0M1421.7 866.0h0M1423.6 855.9h0M1425.4 862.8h0M1427.3 860.8h0M1429.1 861.3h0M1431.0 861.7h0M1432.8 867.0h0M1434.6 862.9h0M1436.4 866.4h0M1438.2 864.1h0M1439.9 860.5h0M1441.7 865.3h0M1443.4 868.1h0M1445.1 866.4h0M1446.8 863.5h0M1448.5 867.6h0M1450.2 874.1h0M1451.9 868.7h0M1453.6 873.2h0M1455.2 869.8h0M1456.9 872.7h0M1458.5 870.6h0M1460.1 876.3h0M1461.7 870.8h0M1463.3 871.1h0M1464.9 870.9h0M1466.5 874.8h0M1468.0 870.7h0M1469.6 874.9h0M1471.1 870.4h0M1472.7 871.7h0M1474.2 870.2h0M1475.7 876.4h0M1477.2 869.9h0M1478.7 871.7h0M1480.2 862.4h0M1481.7 870.6h0M1483.2 869.4h0M1484.6 877.5h0M1486.1 869.1h0M1487.5 863.4h0M1488.9 868.9h0M1490.4 873.4h0M1491.8 868.6h0M1493.2 878.5h0M1494.6 868.5h0M1496.0 877.9h0M1497.4 869.1h0M1498.8 876.0h0M1500.1 869.6h0M1501.5 870.4h0M1502.8 866.4h0M1504.2 879.4h0M1505.5 870.8h0M1506.8 872.3h0M1508.2 871.4h0M1509.5 871.9h0M1510.8 871.9h0M1512.1 861.3h0M1513.4 872.5h0M1514.7 876.3h0M1516.0 873.0h0M1517.2 873.5h0M1518.5 873.6h0M1519.8 875.2h0M1521.0 874.1h0M1522.3 881.4h0M1523.5 876.7h0M1524.7 879.7h0M1526.0 875.1h0M1527.2 876.0h0M1528.4 879.3h0M1529.6 879.4h0M1530.8 875.8h0M1532.0 881.1h0M1533.2 880.4h0M1534.4 869.8h0M1535.6 876.5h0M1536.7 878.5h0M1537.9 878.7h0M1539.1 879.0h0M1540.2 877.2h0M1541.4 882.6h0M1542.5 878.1h0M1543.7 880.4h0M1544.8 877.8h0M1545.9 880.9h0M1547.0 878.8h0M1548.2 881.7h0M1549.3 878.1h0M1550.4 884.3h0M1551.5 881.0h0M1552.6 883.9h0M1553.7 878.4h0M1554.8 875.7h0M1555.8 879.0h0M1556.9 882.8h0M1558.0 878.6h0M1559.1 880.7h0M1560.1 881.9h0M1561.2 880.5h0M1562.2 878.9h0M1563.3 879.9h0M1564.3 880.9h0M1565.4 872.2h0M1566.4 879.2h0M1567.4 882.3h0M1568.5 884.9h0M1569.5 884.5h0M1570.5 879.4h0M1571.5 879.7h0M1572.5 880.2h0M1573.5 879.9h0M1574.5 879.7h0M1575.5 886.4h0M1576.5 880.2h0M1577.5 884.7h0M1578.5 879.9h0M1579.5 883.2h0M1580.5 884.2h0M1581.4 885.4h0M1582.4 877.6h0M1583.4 882.5h0M1584.3 886.7h0M1585.3 884.0h0M1586.2 880.5h0M1587.2 884.1h0M1588.1 881.5h0M1589.1 883.0h0M1590.0 880.7h0M1591.0 882.0h0M1591.9 883.2h0M1592.8 885.8h0M1593.7 876.1h0M1594.7 884.1h0M1595.6 881.8h0M1596.5 884.9h0M1597.4 881.2h0M1598.3 883.6h0M1599.2 882.0h0M1600.1 885.4h0M1601.0 881.5h0M1601.9 883.5h0M1602.8 886.4h0M1603.7 885.5h0M1604.5 881.1h0M1605.4 883.3h0M1606.3 883.5h0M1607.2 884.2h0M1608.0 880.7h0M1608.9 881.3h0M1609.8 878.1h0M1610.6 885.5h0M1611.5 880.4h0M1612.3 882.6h0M1613.2 882.0h0M1614.0 878.1h0M1614.9 880.0h0M1615.7 889.3h0M1616.6 888.3h0M1617.4 885.7h0M1618.2 879.7h0M1619.1 881.0h0M1619.9 888.7h0M1620.7 888.0h0M1621.5 880.0h0M1622.4 877.9h0M1623.2 887.0h0M1624.0 887.0h0M1624.8 880.3h0M1625.6 889.0h0M1626.4 878.1h0M1627.2 887.0h0M1628.0 880.5h0M1628.8 888.6h0M1629.6 885.0h0M1630.4 889.5h0M1631.2 880.8h0M1632.0 884.2h0M1632.8 891.5h0M1633.5 886.2h0M1634.3 881.3h0M1635.1 884.0h0M1635.9 889.1h0M1636.7 887.3h0M1637.4 882.0h0M1638.2 878.8h0M1639.0 889.4h0M1639.7 890.5h0M1640.5 882.7h0M1641.2 886.9h0M1642.0 884.8h0M1642.7 885.8h0M1643.5 883.3h0M1644.2 885.7h0M1645.0 886.6h0M1645.7 892.0h0M1646.5 883.9h0M1647.2 884.9h0M1647.9 885.8h0M1648.7 887.0h0M1649.4 884.2h0M1650.1 885.9h0M1650.9 890.8h0M1651.6 890.0h0M1652.3 884.4h0M1653.0 879.9h0M1653.7 891.3h0M1654.5 893.1h0M1655.2 884.7h0M1655.9 890.5h0M1656.6 893.8h0M1657.3 888.6h0M1658.0 885.0h0M1658.7 891.3h0M1659.4 885.5h0M1660.1 895.1h0M1660.8 885.3h0M1661.5 885.5h0M1662.2 887.9h0M1662.9 872.7h0M1663.6 885.5h0M1664.3 889.9h0M1664.9 887.9h0M1665.6 892.0h0M1666.3 885.8h0M1667.0 894.6h0M1667.7 889.8h0M1668.3 890.4h0M1669.0 886.1h0M1669.7 886.7h0M1670.4 893.5h0M1671.0 886.7h0M1671.7 886.6h0M1672.4 892.5h0M1673.0 887.4h0M1673.7 887.4h0M1674.3 887.3h0M1675.0 895.8h0M1675.6 894.1h0M1676.3 889.0h0M1677.0 883.6h0M1677.6 894.2h0M1678.3 891.9h0M1678.9 896.6h0M1679.5 888.7h0M1680.2 892.3h0M1680.8 897.8h0M1681.5 899.7h0M1682.1 889.5h0M1682.7 894.4h0M1683.4 896.5h0M1684.0 895.8h0M1684.6 890.2h0M1685.3 896.9h0M1685.9 892.3h0M1686.5 894.7h0M1687.1 890.7h0M1687.8 899.3h0M1688.4 897.8h0M1689.0 891.9h0M1689.6 898.8h0M1690.2 895.2h0M1690.9 891.2h0M1691.5 899.6h0M1692.1 894.4h0M1692.7 891.7h0M1693.3 888.5h0M1693.9 898.4h0M1694.5 891.7h0M1695.1 892.3h0M1695.7 902.6h0M1696.3 893.2h0M1696.9 894.9h0M1697.5 901.3h0M1698.1 892.1h0M1698.7 893.2h0M1699.3 897.2h0M1699.9 897.5h0M1700.5 898.7h0M1701.1 900.0h0M1701.7 892.8h0M1702.2 898.1h0M1702.8 894.2h0M1703.4 901.0h0M1704.0 894.6h0M1704.6 900.7h0M1705.1 894.1h0M1705.7 902.5h0M1706.3 896.6h0M1706.9 899.0h0M1707.5 889.2h0M1708.0 895.6h0M1708.6 895.4h0M1709.2 901.9h0M1709.7 899.1h0M1710.3 902.5h0M1710.9 901.2h0M1711.4 899.9h0M1712.0 896.7h0M1712.5 904.4h0M1713.1 904.0h0M1713.7 902.0h0M1714.2 901.7h0M1714.8 907.0h0M1715.3 898.0h0M1715.9 899.8h0M1716.4 903.9h0M1717.0 905.8h0M1717.5 905.2h0M1718.1 907.9h0M1718.6 898.8h0M1719.2 902.5h0M1719.7 900.7h0M1720.3 906.9h0M1720.8 902.4h0M1721.4 902.1h0M1721.9 899.7h0M1722.4 911.2h0M1723.0 904.5h0M1723.5 906.1h0M1724.0 905.3h0M1724.6 911.5h0M1725.1 900.5h0M1725.6 906.4h0M1726.2 891.6h0M1726.7 911.0h0M1727.2 908.7h0M1727.7 905.4h0M1728.3 901.3h0M1728.8 908.7h0M1729.3 914.5h0M1729.8 913.1h0M1730.4 903.2h0M1730.9 905.8h0M1731.4 902.0h0M1731.9 906.0h0M1732.4 903.0h0M1733.0 906.5h0M1733.5 895.4h0M1734.0 906.0h0M1734.5 902.8h0M1735.0 904.1h0M1735.5 910.3h0M1736.0 912.7h0M1736.5 910.1h0M1737.0 909.3h0M1737.5 903.6h0M1738.0 908.4h0M1738.5 912.8h0M1739.0 910.5h0M1739.5 908.9h0M1740.0 905.5h0M1740.5 904.3h0M1741.0 909.5h0M1741.5 908.1h0M1742.0 906.6h0M1742.5 906.0h0M1743.0 911.2h0M1743.5 905.1h0M1744.0 910.2h0M1744.5 913.1h0M1745.0 913.2h0M1745.5 910.8h0M1746.0 907.4h0M1746.5 905.5h0M1746.9 913.6h0M1747.4 907.6h0M1747.9 917.2h0M1748.4 914.5h0M1748.9 916.3h0M1749.4 905.6h0M1749.8 908.1h0M1750.3 917.2h0M1750.8 911.5h0M1751.3 916.2h0M1751.7 910.6h0M1752.2 905.6h0M1752.7 916.4h0M1753.2 897.7h0M1753.6 906.3h0M1754.1 917.7h0M1754.6 916.8h0M1755.1 905.7h0M1755.5 908.0h0M1756.0 919.1h0M1756.5 914.8h0M1756.9 912.8h0M1757.4 907.5h0M1757.9 905.8h0M1758.3 912.3h0M1758.8 912.2h0M1759.2 911.8h0M1759.7 912.5h0M1760.2 907.7h0M1760.6 905.1h0M1761.1 911.7h0M1761.5 916.8h0M1762.0 906.8h0M1762.4 913.0h0M1762.9 905.1h0M1763.4 905.1h0M1763.8 920.3h0M1764.3 906.2h0M1764.7 915.3h0M1765.2 910.4h0M1765.6 908.6h0M1766.1 905.3h0M1766.5 917.3h0M1766.9 913.8h0M1767.4 914.9h0M1767.8 915.7h0M1768.3 916.4h0M1768.7 905.5h0M1769.2 905.8h0M1769.6 913.9h0M1770.1 913.9h0M1770.5 922.3h0M1770.9 918.4h0M1771.4 905.7h0M1771.8 907.5h0M1772.2 907.6h0M1772.7 919.4h0M1773.1 915.8h0M1773.6 912.9h0M1774.0 905.9h0M1774.4 899.5h0M1774.9 922.2h0M1775.3 909.5h0M1775.7 921.4h0M1776.1 916.8h0M1776.6 906.0h0M1777.0 911.8h0M1777.4 917.0h0M1777.9 909.9h0M1778.3 906.3h0M1778.7 916.0h0M1779.1 906.2h0M1779.6 915.5h0M1780.0 927.1h0M1780.4 906.5h0M1780.8 910.8h0M1781.2 923.3h0M1781.7 906.4h0M1782.1 918.7h0M1782.5 916.5h0M1782.9 911.4h0M1783.3 919.7h0M1783.7 914.7h0M1784.2 907.2h0M1784.6 918.3h0M1785.0 910.1h0M1785.4 913.3h0M1785.8 920.5h0M1786.2 922.3h0M1786.6 928.9h0M1787.1 919.2h0M1787.5 910.3h0M1787.9 922.8h0M1788.3 912.4h0M1788.7 924.2h0M1789.1 915.1h0M1789.5 902.6h0M1789.9 925.5h0M1790.3 921.7h0M1790.7 913.3h0M1791.1 922.7h0M1791.5 927.5h0M1791.9 917.9h0M1792.3 922.3h0M1792.7 926.9h0M1793.1 928.9h0M1793.5 922.6h0M1793.9 916.3h0M1794.3 931.1h0M1794.7 928.2h0M1795.1 930.2h0M1795.5 919.0h0M1795.9 925.6h0M1796.3 920.4h0M1796.7 924.3h0M1797.1 919.3h0M1797.5 920.4h0M1797.9 931.0h0M1798.3 928.9h0M1798.7 930.3h0M1799.1 921.2h0M1799.4 924.4h0M1799.8 921.7h0M1800.2 920.8h0M1800.6 923.5h0M1801.0 922.5h0M1801.4 921.7h0M1801.8 926.1h0M1802.2 923.4h0M1802.5 935.5h0M1802.9 928.3h0M1803.3 921.1h0M1803.7 925.7h0M1804.1 934.1h0M1804.5 930.7h0M1804.8 917.3h0M1805.2 923.9h0M1805.6 934.7h0M1806.0 930.6h0M1806.4 921.4h0M1806.7 926.0h0M1807.1 923.2h0M1807.5 928.6h0M1807.9 923.7h0M1808.2 929.5h0M1808.6 917.1h0M1809.0 931.0h0M1809.4 921.7h0M1809.7 923.2h0M1810.1 927.2h0M1810.5 931.8h0M1810.9 928.1h0M1811.2 930.0h0M1811.6 935.1h0M1812.0 917.7h0M1812.3 922.0h0M1812.7 927.4h0M1813.1 933.8h0M1813.4 930.1h0M1813.8 933.2h0M1814.2 933.7h0M1814.5 932.1h0M1814.9 923.7h0M1815.3 922.2h0M1815.6 925.2h0M1816.0 923.3h0M1816.4 935.1h0M1816.7 933.6h0M1817.1 936.2h0M1817.4 936.9h0M1817.8 927.7h0M1818.2 922.5h0M1818.5 938.4h0M1818.9 924.5h0M1819.2 933.2h0M1819.6 933.9h0M1820.0 925.4h0M1820.3 937.3h0M1820.7 923.9h0M1821.0 922.8h0M1821.4 937.2h0M1821.7 934.5h0M1822.1 936.5h0M1822.5 925.2h0M1822.8 936.9h0M1823.2 936.9h0M1823.5 928.7h0M1823.9 923.2h0M1824.2 932.9h0M1824.6 926.5h0M1824.9 931.7h0M1825.3 927.5h0M1825.6 933.8h0M1826.0 935.9h0M1826.3 936.8h0M1826.7 924.1h0M1827.0 936.1h0M1827.4 936.7h0M1827.7 938.8h0M1828.0 930.9h0M1828.4 928.7h0M1828.7 931.3h0M1829.1 929.7h0M1829.4 924.9h0M1829.8 928.3h0M1830.1 930.2h0M1830.5 935.6h0M1830.8 933.6h0M1831.1 917.0h0M1831.5 932.3h0M1831.8 929.6h0M1832.2 925.7h0M1832.5 929.7h0M1832.8 929.6h0M1833.2 936.0h0M1833.5 926.8h0M1833.8 933.3h0M1834.2 933.9h0M1834.5 930.1h0M1834.9 926.5h0M1835.2 928.5h0M1835.5 931.7h0M1835.9 937.5h0M1836.2 932.7h0M1836.5 939.0h0M1836.9 929.0h0M1837.2 936.0h0M1837.5 927.3h0M1837.9 931.4h0M1838.2 930.9h0M1838.5 938.0h0M1838.9 929.1h0M1839.2 937.4h0M1839.5 929.5h0M1839.8 929.5h0M1840.2 928.1h0M1840.5 933.1h0M1840.8 935.2h0M1841.2 934.8h0M1841.5 929.3h0M1841.8 932.2h0M1842.1 934.2h0M1842.5 935.4h0M1842.8 928.9h0M1843.1 939.9h0M1843.4 929.8h0M1843.8 929.8h0M1844.1 935.7h0M1844.4 930.9h0M1844.7 932.4h0M1845.0 930.1h0M1845.4 929.3h0M1845.7 931.0h0M1846.0 931.4h0M1846.3 933.7h0M1846.7 932.5h0M1847.0 938.9h0M1847.3 935.8h0M1847.6 931.5h0M1847.9 929.5h0M1848.2 936.5h0M1848.6 933.5h0M1848.9 935.3h0M1849.2 939.3h0M1849.5 938.4h0M1849.8 933.3h0M1850.1 934.6h0M1850.5 929.8h0M1850.8 941.8h0M1851.1 930.6h0M1851.4 937.9h0M1851.7 931.2h0M1852.0 935.5h0M1852.3 934.2h0M1852.6 940.7h0M1853.0 930.0h0M1853.3 930.7h0M1853.6 930.9h0M1853.9 937.4h0M1854.2 939.7h0M1854.5 930.7h0M1854.8 936.7h0M1855.1 931.0h0M1855.4 943.0h0M1855.7 918.0h0M1856.1 930.4h0M1856.4 943.7h0M1856.7 937.3h0M1857.0 931.2h0M1857.3 937.7h0M1857.6 940.9h0M1857.9 934.5h0M1858.2 919.0h0M1858.5 933.8h0M1858.8 940.4h0M1859.1 930.7h0M1859.4 933.6h0M1859.7 937.7h0M1860.0 944.5h0M1860.3 943.1h0M1860.6 940.9h0M1860.9 938.6h0M1861.2 931.8h0M1861.5 934.8h0M1861.8 935.1h0M1862.1 931.0h0M1862.4 934.5h0M1862.7 942.6h0M1863.0 932.4h0M1863.3 934.0h0M1863.6 940.9h0M1863.9 936.2h0M1864.2 938.1h0M1864.5 943.5h0M1864.8 933.8h0M1865.1 931.3h0M1865.4 936.1h0M1865.7 933.7h0M1866.0 932.3h0M1866.3 937.7h0M1866.6 938.8h0M1866.9 944.7h0M1867.2 943.4h0M1867.5 935.2h0M1867.7 942.6h0M1868.0 931.2h0M1868.3 946.4h0M1868.6 934.0h0M1868.9 942.5h0M1869.2 934.2h0M1869.5 939.0h0M1869.8 934.4h0M1870.1 940.2h0M1870.4 931.0h0M1870.7 937.9h0M1870.9 930.2h0M1871.2 939.1h0M1871.5 940.8h0M1871.8 935.0h0M1872.1 942.7h0M1872.4 943.0h0M1872.7 930.2h0M1873.0 942.0h0M1873.2 932.4h0M1873.5 943.9h0M1873.8 929.2h0M1874.1 943.5h0M1874.4 939.4h0M1874.7 939.7h0M1875.0 946.3h0M1875.2 925.3h0M1875.5 940.6h0M1875.8 932.6h0M1876.1 932.6h0M1876.4 932.0h0M1876.7 928.3h0M1876.9 932.5h0M1877.2 938.3h0M1877.5 940.5h0M1877.8 931.4h0M1878.1 939.1h0M1878.3 944.2h0M1878.6 928.5h0M1878.9 944.5h0M1879.2 932.0h0M1879.5 927.3h0M1879.7 930.1h0M1880.0 934.9h0M1880.3 928.5h0M1880.6 935.5h0M1880.8 930.7h0M1881.1 937.9h0M1881.4 929.8h0M1881.7 939.8h0M1881.9 929.1h0M1882.2 927.7h0M1882.5 929.4h0M1882.8 947.3h0M1883.0 940.8h0M1883.3 929.9h0M1883.6 942.7h0M1883.9 937.2h0M1884.1 926.3h0M1884.4 947.9h0M1884.7 949.6h0M1885.0 928.3h0M1885.2 940.6h0M1885.5 930.6h0M1885.8 941.6h0M1886.0 944.9h0M1886.3 945.7h0M1886.6 940.0h0M1886.9 928.9h0M1887.1 930.7h0M1887.4 937.7h0M1887.7 928.8h0M1887.9 936.1h0M1888.2 933.8h0M1888.5 946.8h0M1888.7 930.2h0M1889.0 931.4h0M1889.3 939.1h0M1889.5 941.5h0M1889.8 938.0h0M1890.1 938.5h0M1890.3 929.3h0M1890.6 945.5h0M1890.9 934.5h0M1891.1 931.5h0M1891.4 936.0h0M1891.7 942.6h0M1891.9 940.0h0M1892.2 944.6h0M1892.5 949.5h0M1892.7 943.7h0M1893.0 930.1h0M1893.3 936.6h0M1893.5 935.0h0M1893.8 940.3h0M1894.0 946.2h0M1894.3 941.3h0M1894.6 933.9h0M1894.8 943.8h0M1895.1 941.6h0M1895.4 944.1h0M1895.6 930.9h0M1895.9 943.1h0M1896.1 940.6h0M1896.4 934.2h0M1896.6 934.5h0M1896.9 946.5h0M1897.2 927.0h0M1897.4 943.5h0M1897.7 937.4h0M1897.9 936.4h0M1898.2 931.6h0M1898.5 946.2h0M1898.7 946.2h0M1899.0 932.1h0M1899.2 939.5h0M1899.5 936.4h0M1899.7 946.6h0M1900.0 951.7h0M1900.3 945.0h0M1900.5 941.6h0M1900.8 932.4h0M1901.0 935.0h0M1901.3 943.9h0M1901.5 937.2h0M1901.8 944.8h0M1902.0 939.6h0M1902.3 935.4h0M1902.5 946.1h0M1902.8 943.0h0M1903.0 933.5h0M1903.3 933.2h0M1903.5 935.2h0M1903.8 940.1h0M1904.1 944.1h0M1904.3 948.1h0M1904.6 935.9h0M1904.8 948.8h0M1905.1 934.9h0M1905.3 935.0h0M1905.6 934.7h0M1905.8 933.9h0M1906.1 952.7h0M1906.3 944.7h0M1906.6 937.1h0M1906.8 941.6h0M1907.0 942.9h0M1907.3 949.6h0M1907.5 950.0h0M1907.8 940.3h0M1908.0 949.9h0M1908.3 939.9h0M1908.5 944.8h0M1908.8 934.7h0M1909.0 942.7h0M1909.3 938.6h0M1909.5 935.0h0M1909.8 948.6h0M1910.0 946.1h0M1910.3 944.4h0M1910.5 944.4h0M1910.7 949.0h0M1911.0 947.3h0M1911.2 951.8h0M1911.5 942.9h0M1911.7 935.1h0M1912.0 951.1h0M1912.2 954.8h0M1912.4 943.8h0M1912.7 947.4h0M1912.9 947.3h0M1913.2 935.5h0M1913.4 951.4h0M1913.7 942.7h0M1913.9 943.7h0M1914.1 936.4h0M1914.4 949.7h0M1914.6 935.4h0M1914.9 937.5h0M1915.1 947.6h0M1915.3 946.1h0M1915.6 951.2h0M1915.8 949.4h0M1916.1 922.5h0M1916.3 941.3h0M1916.5 951.0h0M1916.8 950.0h0M1917.0 946.3h0M1917.3 946.3h0M1917.5 935.8h0M1917.7 935.9h0M1918.0 938.6h0M1918.2 939.8h0M1918.4 941.1h0M1918.7 946.5h0M1918.9 941.8h0M1919.1 938.8h0M1919.4 940.9h0M1919.6 954.7h0M1919.9 940.0h0M1920.1 940.8h0M1920.3 936.2h0M1920.6 939.7h0M1920.8 947.7h0M1921.0 944.7h0M1921.3 951.7h0M1921.5 946.2h0M1921.7 942.5h0M1922.0 949.7h0M1922.2 943.6h0M1922.4 947.7h0M1922.7 949.4h0M1922.9 947.3h0M1923.1 936.6h0M1923.4 945.6h0M1923.6 946.0h0M1923.8 940.5h0M1924.1 942.7h0M1924.3 943.8h0M1924.5 951.8h0M1924.7 953.5h0M1925.0 947.5h0M1925.2 926.5h0M1925.4 942.8h0M1925.7 939.4h0M1925.9 936.9h0M1926.1 946.6h0M1926.4 939.8h0M1926.6 942.0h0M1926.8 945.4h0M1927.0 944.0h0M1927.3 955.9h0M1927.5 954.3h0M1927.7 938.6h0M1927.9 937.8h0M1928.2 945.9h0M1928.4 944.7h0M1928.6 937.3h0M1928.9 953.3h0M1929.1 942.3h0M1929.3 941.0h0M1929.5 951.0h0M1929.8 945.2h0M1930.0 941.0h0M1930.2 938.4h0M1930.4 948.0h0M1930.7 952.7h0M1930.9 942.4h0M1931.1 944.5h0M1931.3 937.7h0M1931.6 948.4h0M1931.8 954.8h0M1932.0 939.1h0M1932.2 948.6h0M1932.5 954.4h0M1932.7 953.4h0M1932.9 945.0h0M1933.1 954.5h0M1933.3 942.0h0M1933.6 942.4h0M1933.8 955.0h0M1934.0 938.0h0M1934.2 949.8h0M1934.5 950.1h0M1934.7 940.4h0M1934.9 953.7h0M1935.1 947.9h0M1935.3 938.8h0M1935.6 953.4h0M1935.8 944.6h0M1936.0 950.5h0M1936.2 956.1h0M1936.4 949.1h0M1936.7 938.0h0M1936.9 947.7h0M1937.1 942.7h0M1937.3 939.3h0M1937.5 939.4h0M1937.8 945.7h0M1938.0 950.3h0M1938.2 944.1h0M1938.4 953.0h0M1938.6 948.8h0M1938.8 949.5h0M1939.1 938.7h0M1939.3 937.9h0M1939.5 948.0h0M1939.7 949.7h0M1939.9 945.7h0M1940.1 945.6h0M1940.4 940.2h0M1940.6 946.2h0M1940.8 938.3h0M1941.0 953.6h0M1941.2 944.4h0M1941.4 947.4h0M1941.6 949.4h0M1941.9 937.8h0M1942.1 955.8h0M1942.3 947.9h0M1942.5 938.8h0M1942.7 945.7h0M1942.9 948.0h0M1943.1 953.4h0M1943.4 953.2h0M1943.6 940.1h0M1943.8 952.4h0M1944.0 949.8h0M1944.2 948.5h0M1944.4 937.8h0M1944.6 951.3h0M1944.8 951.0h0M1945.1 947.5h0M1945.3 952.5h0M1945.5 944.4h0M1945.7 946.9h0M1945.9 943.0h0M1946.1 951.4h0M1946.3 950.8h0M1946.5 947.1h0M1946.7 948.1h0M1947.0 937.7h0M1947.2 928.0h0M1947.4 946.4h0M1947.6 948.6h0M1947.8 948.5h0M1948.0 941.3h0M1948.2 954.2h0M1948.4 951.8h0M1948.6 938.4h0M1948.8 949.1h0M1949.0 954.1h0M1949.3 951.2h0M1949.5 937.7h0M1949.7 938.1h0M1949.9 949.8h0M1950.1 956.6h0M1950.3 953.5h0M1950.5 940.8h0M1950.7 945.4h0M1950.9 939.4h0M1951.1 948.5h0M1951.3 947.9h0M1951.5 946.1h0M1951.7 944.2h0M1951.9 946.2h0M1952.2 951.0h0M1952.4 937.6h0M1952.6 938.6h0M1952.8 945.5h0M1953.0 947.7h0M1953.2 954.2h0M1953.4 937.9h0M1953.6 955.2h0M1953.8 955.5h0M1954.0 949.6h0M1954.2 939.0h0M1954.4 949.4h0M1954.6 939.2h0M1954.8 939.9h0M1955.0 949.4h0M1955.2 937.5h0M1955.4 948.9h0M1955.6 939.9h0M1955.8 943.2h0M1956.0 943.2h0M1956.2 944.7h0M1956.4 944.4h0M1956.6 957.2h0M1956.8 940.1h0M1957.0 950.6h0M1957.2 953.0h0M1957.4 950.0h0M1957.6 941.9h0M1957.8 940.6h0M1958.0 938.1h0M1958.2 946.2h0M1958.4 941.9h0M1958.6 942.5h0M1958.8 942.4h0M1959.0 946.9h0M1959.2 944.5h0M1959.4 953.9h0M1959.6 947.0h0M1959.8 956.0h0M1960.0 948.3h0M1960.2 954.4h0M1960.4 941.0h0M1960.6 941.8h0M1960.8 939.0h0M1961.0 940.4h0M1961.2 954.3h0M1961.4 944.5h0M1961.6 949.4h0M1961.8 944.4h0M1962.0 943.4h0M1962.2 940.6h0M1962.4 940.4h0M1962.6 947.5h0M1962.8 941.1h0M1963.0 949.6h0M1963.2 944.6h0M1963.4 947.9h0M1963.6 939.9h0M1963.8 954.5h0M1964.0 944.2h0M1964.2 942.7h0M1964.4 944.9h0M1964.6 954.5h0M1964.8 946.4h0M1965.0 943.3h0M1965.1 928.5h0M1965.3 940.9h0M1965.5 958.8h0M1965.7 954.7h0M1965.9 946.9h0M1966.1 957.2h0M1966.3 940.8h0M1966.5 950.5h0M1966.7 941.8h0M1966.9 952.9h0M1967.1 949.7h0M1967.3 957.6h0M1967.5 950.7h0M1967.7 947.3h0M1967.9 955.1h0M1968.0 952.4h0M1968.2 945.8h0M1968.4 951.2h0M1968.6 954.1h0M1968.8 955.8h0M1969.0 941.7h0M1969.2 945.5h0M1969.4 950.8h0M1969.6 953.7h0M1969.8 957.0h0M1970.0 946.7h0M1970.2 944.2h0M1970.3 953.1h0M1970.5 951.5h0M1970.7 943.0h0M1970.9 953.9h0M1971.1 952.2h0M1971.3 951.8h0M1971.5 948.9h0M1971.7 942.6h0M1971.9 943.8h0M1972.1 946.1h0M1972.2 931.0h0M1972.4 957.0h0M1972.6 944.5h0M1972.8 946.7h0M1973.0 952.8h0M1973.2 959.3h0M1973.4 955.5h0M1973.6 953.0h0M1973.7 947.6h0M1973.9 950.0h0M1974.1 948.9h0M1974.3 943.4h0M1974.5 951.9h0M1974.7 951.1h0M1974.9 948.1h0M1975.1 943.9h0M1975.2 954.8h0M1975.4 944.7h0M1975.6 953.5h0M1975.8 950.6h0M1976.0 953.7h0M1976.2 944.5h0M1976.4 948.4h0M1976.5 953.4h0M1976.7 946.6h0M1976.9 944.3h0M1977.1 950.4h0M1977.3 951.8h0M1977.5 951.9h0M1977.7 947.5h0M1977.8 954.9h0M1978.0 955.8h0M1978.2 948.9h0M1978.4 953.3h0M1978.6 954.5h0M1978.8 954.8h0M1978.9 956.4h0M1979.1 952.1h0M1979.3 948.6h0M1979.5 944.2h0M1979.7 953.2h0M1979.9 956.6h0M1980.0 954.4h0M1980.2 955.7h0M1980.4 951.9h0M1980.6 956.9h0M1980.8 947.3h0M1981.0 949.7h0M1981.1 946.9h0M1981.3 945.0h0M1981.5 945.3h0M1981.7 953.4h0M1981.9 955.8h0M1982.0 943.7h0M1982.2 958.6h0M1982.4 945.3h0M1982.6 948.9h0M1982.8 952.6h0M1983.0 949.4h0M1983.1 954.2h0M1983.3 956.1h0M1983.5 957.4h0M1983.7 937.5h0M1983.9 944.5h0M1984.0 949.5h0M1984.2 952.1h0M1984.4 945.9h0M1984.6 943.2h0M1984.8 955.8h0M1984.9 947.5h0M1985.1 951.4h0M1985.3 948.7h0M1985.5 943.5h0M1985.6 957.2h0M1985.8 943.9h0M1986.0 955.3h0M1986.2 956.5h0M1986.4 953.1h0M1986.5 945.8h0M1986.7 953.3h0M1986.9 957.3h0M1987.1 946.6h0M1987.2 948.4h0M1987.4 942.6h0M1987.6 946.4h0M1987.8 943.4h0M1988.0 953.1h0M1988.1 945.0h0M1988.3 951.1h0M1988.5 950.5h0M1988.7 957.7h0M1988.8 944.2h0M1989.0 948.1h0M1989.2 952.1h0M1989.4 957.3h0M1989.5 959.7h0M1989.7 952.7h0M1989.9 948.0h0M1990.1 945.2h0M1990.2 942.0h0M1990.4 953.6h0M1990.6 957.7h0M1990.8 944.3h0M1990.9 955.0h0M1991.1 945.3h0M1991.3 947.1h0M1991.5 952.9h0M1991.6 954.9h0M1991.8 956.5h0M1992.0 955.3h0M1992.2 946.1h0M1992.3 943.0h0M1992.5 948.1h0M1992.7 954.6h0M1992.9 946.1h0M1993.0 942.7h0M1993.2 945.4h0M1993.4 950.2h0M1993.6 947.4h0M1993.7 955.6h0M1993.9 955.6h0M1994.1 957.2h0M1994.2 945.0h0M1994.4 950.6h0M1994.6 956.5h0M1994.8 944.6h0M1994.9 951.0h0M1995.1 955.9h0M1995.3 957.6h0M1995.4 957.3h0M1995.6 950.0h0M1995.8 943.3h0M1996.0 945.8h0M1996.1 946.8h0M1996.3 950.2h0M1996.5 953.1h0M1996.6 947.2h0M1996.8 946.3h0M1997.0 951.4h0M1997.2 948.5h0M1997.3 946.4h0M1997.5 959.7h0M1997.7 950.4h0M1997.8 955.4h0M1998.0 952.0h0M1998.2 954.5h0M1998.3 923.0h0M1998.5 943.9h0M1998.7 949.4h0M1998.8 949.3h0M1999.0 945.5h0M1999.2 946.8h0M1999.4 952.6h0M1999.5 954.5h0M1999.7 950.9h0M1999.9 946.0h0M2000.0 944.9h0M2000.2 944.8h0M2000.4 952.7h0M2000.5 950.5h0M2000.7 956.8h0M2000.9 952.3h0M2001.0 947.6h0M2001.2 944.5h0M2001.4 956.7h0M2001.5 953.8h0M2001.7 956.0h0M2001.9 956.1h0M2002.0 957.3h0M2002.2 953.2h0M2002.4 956.4h0M2002.5 945.9h0M2002.7 958.2h0M2002.9 958.1h0M2003.0 955.0h0M2003.2 946.7h0M2003.4 947.0h0M2003.5 954.9h0M2003.7 957.8h0M2003.9 945.1h0M2004.0 959.5h0M2004.2 946.4h0M2004.4 953.2h0M2004.5 952.2h0M2004.7 956.1h0M2004.9 947.9h0M2005.0 946.5h0M2005.2 947.7h0M2005.3 948.5h0M2005.5 953.6h0M2005.7 957.8h0M2005.8 958.6h0M2006.0 951.8h0M2006.2 948.3h0M2006.3 956.8h0M2006.5 945.7h0M2006.7 953.5h0M2006.8 950.4h0M2007.0 958.4h0M2007.2 958.8h0M2007.3 957.1h0M2007.5 952.3h0M2007.6 953.8h0M2007.8 946.5h0M2008.0 952.6h0M2008.1 947.6h0M2008.3 957.4h0M2008.5 959.7h0M2008.6 948.3h0M2008.8 932.5h0M2008.9 958.9h0M2009.1 946.3h0M2009.3 952.4h0M2009.4 956.7h0M2009.6 948.1h0M2009.7 948.9h0M2009.9 954.2h0M2010.1 957.4h0M2010.2 961.9h0M2010.4 948.0h0M2010.6 955.2h0M2010.7 952.6h0M2010.9 958.8h0M2011.0 952.6h0M2011.2 947.1h0M2011.4 948.4h0M2011.5 955.7h0M2011.7 946.9h0M2011.8 953.1h0M2012.0 953.4h0M2012.2 950.5h0M2012.3 960.5h0M2012.5 951.3h0M2012.6 947.3h0M2012.8 959.2h0M2013.0 955.7h0M2013.1 954.7h0M2013.3 949.1h0M2013.4 959.8h0M2013.6 961.5h0M2013.8 957.0h0M2013.9 949.2h0M2014.1 958.4h0M2014.2 947.5h0M2014.4 951.6h0M2014.5 961.4h0M2014.7 952.0h0M2014.9 955.2h0M2015.0 955.7h0M2015.2 950.3h0M2015.3 956.5h0M2015.5 955.1h0M2015.6 958.2h0M2015.8 950.4h0M2016.0 950.7h0M2016.1 951.4h0M2016.3 961.4h0M2016.4 955.9h0M2016.6 963.1h0M2016.7 948.1h0M2016.9 948.5h0M2017.1 959.8h0M2017.2 953.3h0M2017.4 938.5h0M2017.5 956.7h0M2017.7 958.5h0M2017.8 961.3h0M2018.0 951.9h0M2018.2 957.7h0M2018.3 956.3h0M2018.5 958.1h0M2018.6 957.6h0M2018.8 949.2h0M2018.9 953.2h0M2019.1 950.3h0M2019.2 956.4h0M2019.4 951.5h0M2019.6 948.7h0M2019.7 960.1h0M2019.9 949.4h0M2020.0 960.9h0M2020.2 954.6h0M2020.3 957.1h0M2020.5 952.8h0M2020.6 958.3h0M2020.8 953.9h0M2020.9 953.1h0M2021.1 961.5h0M2021.3 954.5h0M2021.4 955.4h0M2021.6 957.6h0M2021.7 960.6h0M2021.9 961.0h0M2022.0 952.8h0M2022.2 956.5h0M2022.3 949.4h0M2022.5 958.8h0M2022.6 952.0h0M2022.8 960.5h0M2022.9 959.0h0M2023.1 961.6h0M2023.2 951.7h0M2023.4 951.2h0M2023.5 957.0h0M2023.7 958.2h0M2023.9 951.9h0M2024.0 963.7h0M2024.2 960.4h0M2024.3 955.5h0M2024.5 955.6h0M2024.6 953.0h0M2024.8 953.2h0M2024.9 950.0h0M2025.1 950.0h0M2025.2 950.6h0M2025.4 958.9h0M2025.5 953.6h0M2025.7 956.5h0M2025.8 956.8h0M2026.0 962.4h0M2026.1 959.2h0M2026.3 955.4h0M2026.4 961.2h0M2026.6 957.9h0M2026.7 958.9h0M2026.9 956.2h0M2027.0 960.4h0M2027.2 953.8h0M2027.3 958.4h0M2027.5 962.4h0M2027.6 950.2h0M2027.8 949.9h0M2027.9 953.2h0M2028.1 952.1h0M2028.2 961.3h0M2028.4 961.3h0M2028.5 962.7h0M2028.7 945.9h0M2028.8 953.3h0M2029.0 961.4h0M2029.1 950.4h0M2029.3 956.9h0M2029.4 952.0h0M2029.6 955.5h0M2029.7 956.0h0M2029.9 958.1h0M2030.0 954.4h0M2030.2 957.8h0M2030.3 952.1h0M2030.5 949.7h0M2030.6 962.3h0M2030.8 964.6h0M2030.9 961.3h0M2031.0 961.0h0M2031.2 949.7h0M2031.3 952.9h0M2031.5 959.1h0M2031.6 957.8h0M2031.8 956.5h0M2031.9 959.7h0M2032.1 959.6h0M2032.2 960.5h0M2032.4 960.7h0M2032.5 961.3h0M2032.7 951.4h0M2032.8 953.0h0M2033.0 949.7h0M2033.1 949.5h0M2033.3 961.4h0M2033.4 956.7h0M2033.5 950.8h0M2033.7 955.1h0M2033.8 952.1h0M2034.0 960.4h0M2034.1 962.0h0M2034.3 949.9h0M2034.4 956.8h0M2034.6 951.1h0M2034.7 955.8h0M2034.9 959.4h0M2035.0 953.7h0M2035.1 957.3h0M2035.3 961.9h0M2035.4 952.6h0M2035.6 949.4h0M2035.7 949.3h0M2035.9 954.2h0M2036.0 952.5h0M2036.2 952.3h0M2036.3 964.2h0M2036.5 950.6h0M2036.6 963.8h0M2036.7 963.2h0M2036.9 954.6h0M2037.0 962.1h0M2037.2 952.8h0M2037.3 949.4h0M2037.5 953.3h0M2037.6 962.2h0M2037.7 960.1h0M2037.9 925.3h0M2038.0 955.1h0M2038.2 956.9h0M2038.3 949.1h0M2038.5 961.8h0M2038.6 959.3h0M2038.7 958.7h0M2038.9 959.7h0M2039.0 952.4h0M2039.2 961.3h0M2039.3 960.3h0M2039.5 956.5h0M2039.6 957.5h0M2039.7 957.5h0M2039.9 963.7h0M2040.0 957.2h0M2040.2 951.9h0M2040.3 950.5h0M2040.5 952.3h0M2040.6 959.0h0M2040.7 954.5h0M2040.9 948.9h0M2041.0 957.2h0M2041.2 949.7h0M2041.3 956.5h0M2041.5 954.0h0M2041.6 957.2h0M2041.7 954.6h0M2041.9 955.6h0M2042.0 964.0h0M2042.2 960.7h0M2042.3 953.3h0M2042.4 956.3h0M2042.6 952.0h0M2042.7 961.9h0M2042.9 963.7h0M2043.0 954.0h0M2043.1 955.2h0M2043.3 954.8h0M2043.4 948.8h0M2043.6 960.7h0M2043.7 949.8h0M2043.8 950.5h0M2044.0 950.2h0M2044.1 952.2h0M2044.3 960.4h0M2044.4 951.0h0M2044.5 949.5h0M2044.7 949.4h0M2044.8 950.4h0M2045.0 952.3h0M2045.1 961.1h0M2045.2 962.1h0M2045.4 955.9h0M2045.5 950.3h0M2045.7 956.3h0M2045.8 956.3h0M2045.9 948.6h0M2046.1 962.9h0M2046.2 957.5h0M2046.3 959.4h0M2046.5 966.2h0M2046.6 961.3h0M2046.8 951.6h0M2046.9 949.0h0M2047.0 952.5h0M2047.2 949.3h0M2047.3 956.6h0M2047.5 959.5h0M2047.6 949.2h0M2047.7 960.8h0M2047.9 964.0h0M2048.0 955.7h0M2048.1 950.1h0M2048.3 957.6h0M2048.4 958.9h0M2048.6 954.9h0M2048.7 948.4h0M2048.8 955.6h0M2049.0 960.2h0M2049.1 963.6h0M2049.2 955.6h0M2049.4 936.5h0M2049.5 953.1h0M2049.6 955.7h0M2049.8 964.8h0M2049.9 953.6h0M2050.1 962.1h0M2050.2 965.7h0M2050.3 958.1h0M2050.5 952.2h0M2050.6 959.6h0M2050.7 959.0h0M2050.9 953.6h0M2051.0 957.0h0M2051.1 956.9h0M2051.3 949.4h0M2051.4 948.2h0M2051.6 955.1h0M2051.7 963.7h0M2051.8 952.3h0M2052.0 959.8h0M2052.1 967.8h0M2052.2 955.4h0M2052.4 949.8h0M2052.5 964.4h0M2052.6 964.8h0M2052.8 949.1h0M2052.9 957.1h0M2053.0 951.9h0M2053.2 957.7h0M2053.3 965.5h0M2053.4 952.4h0M2053.6 959.9h0M2053.7 957.5h0M2053.8 954.9h0M2054.0 954.7h0M2054.1 948.0h0M2054.2 955.4h0M2054.4 939.5h0M2054.5 952.8h0M2054.7 964.2h0M2054.8 950.4h0M2054.9 948.3h0M2055.1 951.6h0M2055.2 958.2h0M2055.3 959.3h0M2055.5 949.9h0M2055.6 966.0h0M2055.7 949.8h0M2055.9 961.3h0M2056.0 959.5h0M2056.1 960.9h0M2056.3 959.1h0M2056.4 953.0h0M2056.5 947.9h0M2056.6 958.8h0M2056.8 947.8h0M2056.9 961.0h0M2057.0 955.3h0M2057.2 953.4h0M2057.3 953.7h0M2057.4 955.3h0M2057.6 953.3h0M2057.7 954.3h0M2057.8 950.2h0M2058.0 954.2h0M2058.1 948.0h0M2058.2 954.4h0M2058.4 952.2h0M2058.5 965.3h0M2058.6 951.4h0M2058.8 952.0h0M2058.9 958.2h0M2059.0 963.4h0M2059.2 964.1h0M2059.3 961.0h0M2059.4 947.6h0M2059.5 957.1h0M2059.7 956.3h0M2059.8 949.5h0M2059.9 951.5h0M2060.1 955.7h0M2060.2 966.2h0M2060.3 965.2h0M2060.5 955.1h0M2060.6 962.9h0M2060.7 955.4h0M2060.9 955.5h0M2061.0 953.1h0M2061.1 950.7h0M2061.2 958.2h0M2061.4 960.1h0M2061.5 947.7h0M2061.6 967.8h0M2061.8 959.1h0M2061.9 956.3h0M2062.0 947.1h0M2062.2 964.7h0M2062.3 959.1h0M2062.4 964.4h0M2062.5 952.1h0M2062.7 948.8h0M2062.8 948.2h0M2062.9 954.8h0M2063.1 958.5h0M2063.2 949.8h0M2063.3 960.1h0M2063.4 961.8h0M2063.6 962.0h0M2063.7 965.0h0M2063.8 963.5h0M2064.0 948.6h0M2064.1 957.6h0M2064.2 965.6h0M2064.3 958.5h0M2064.5 960.5h0M2064.6 946.3h0M2064.7 964.5h0M2064.9 950.1h0M2065.0 957.5h0M2065.1 948.3h0M2065.2 963.4h0M2065.4 959.2h0M2065.5 947.2h0M2065.6 954.6h0M2065.8 947.9h0M2065.9 948.6h0M2066.0 954.6h0M2066.1 952.2h0M2066.3 946.9h0M2066.4 961.5h0M2066.5 949.5h0M2066.7 948.5h0M2066.8 965.4h0M2066.9 959.7h0M2067.0 956.2h0M2067.2 945.6h0M2067.3 957.8h0M2067.4 956.5h0M2067.5 966.7h0M2067.7 963.6h0M2067.8 959.3h0M2067.9 956.9h0M2068.0 946.0h0M2068.2 960.6h0M2068.3 951.1h0M2068.4 967.0h0M2068.6 955.2h0M2068.7 949.7h0M2068.8 960.0h0M2068.9 962.4h0M2069.1 962.5h0M2069.2 956.5h0M2069.3 954.1h0M2069.4 946.6h0M2069.6 960.7h0M2069.7 944.9h0M2069.8 964.6h0M2069.9 959.3h0M2070.1 963.6h0M2070.2 950.2h0M2070.3 959.1h0M2070.4 952.2h0M2070.6 955.0h0M2070.7 958.4h0M2070.8 951.7h0M2070.9 963.1h0M2071.1 970.2h0M2071.2 949.8h0M2071.3 960.0h0M2071.4 955.9h0M2071.6 949.4h0M2071.7 949.0h0M2071.8 947.9h0M2071.9 948.1h0M2072.1 948.8h0M2072.2 952.0h0M2072.3 964.0h0M2072.4 944.3h0M2072.6 966.3h0M2072.7 963.3h0M2072.8 960.4h0M2072.9 968.8h0M2073.1 962.5h0M2073.2 945.6h0M2073.3 962.0h0M2073.4 952.4h0M2073.5 947.3h0M2073.7 966.5h0M2073.8 952.0h0M2073.9 950.9h0M2074.0 945.9h0M2074.2 966.5h0M2074.3 952.5h0M2074.4 936.5h0M2074.5 951.6h0M2074.7 954.9h0M2074.8 945.2h0M2074.9 946.8h0M2075.0 959.3h0M2075.1 943.6h0M2075.3 963.8h0M2075.4 946.1h0M2075.5 961.7h0M2075.6 943.9h0M2075.8 969.0h0M2075.9 943.6h0M2076.0 961.5h0M2076.1 963.3h0M2076.3 967.6h0M2076.4 948.8h0M2076.5 958.0h0M2076.6 954.1h0M2076.7 958.7h0M2076.9 946.5h0M2077.0 953.0h0M2077.1 947.8h0M2077.2 960.5h0M2077.3 948.6h0M2077.5 966.3h0M2077.6 944.2h0M2077.7 971.5h0M2077.8 942.9h0M2078.0 962.9h0M2078.1 961.6h0M2078.2 955.8h0M2078.3 968.5h0M2078.4 960.3h0M2078.6 962.6h0M2078.7 948.4h0M2078.8 947.4h0M2078.9 954.9h0M2079.0 951.9h0M2079.2 958.1h0M2079.3 965.4h0M2079.4 946.8h0M2079.5 959.1h0M2079.6 958.4h0M2079.8 943.1h0M2079.9 942.8h0M2080.0 960.6h0M2080.1 946.8h0M2080.2 948.0h0M2080.4 960.8h0M2080.5 942.3h0M2080.6 943.9h0M2080.7 958.4h0M2080.8 957.8h0M2081.0 956.6h0M2081.1 944.9h0M2081.2 966.4h0M2081.3 965.6h0M2081.4 938.0h0M2081.6 942.1h0M2081.7 950.5h0M2081.8 956.6h0" stroke="#000" stroke-width="14.8" stroke-linecap="round"/>
<path d="M-23.1 305.0 L266.9 305.0 L432.4 331.2 L529.2 357.2 L597.9 388.8 L651.2 431.2 L694.7 465.0 L731.5 493.0 L763.4 510.0 L791.5 519.0 L816.7 528.8 L839.5 538.8 L860.2 551.2 L879.3 564.2 L897.0 574.5 L913.5 581.2 L928.9 593.8 L943.4 605.0 L957.0 613.8 L970.0 623.8 L982.2 631.2 L993.9 631.2 L1005.0 640.0 L1015.6 653.8 L1025.7 655.0 L1035.5 661.2 L1044.9 662.5 L1053.9 679.2 L1062.5 679.2 L1070.9 690.9 L1079.0 695.1 L1086.9 706.8 L1094.4 709.3 L1101.8 719.3 L1108.9 722.7 L1115.8 726.0 L1122.6 717.2 L1129.1 729.7 L1135.5 735.1 L1141.7 740.5 L1147.7 740.7 L1153.6 747.8 L1159.4 731.5 L1165.0 751.0 L1170.5 747.3 L1175.8 754.0 L1181.1 753.8 L1186.2 759.5 L1191.2 757.3 L1196.2 764.0 L1201.0 763.0 L1205.7 764.6 L1210.4 761.8 L1214.9 768.5 L1219.4 769.3 L1223.8 771.5 L1228.1 766.8 L1232.3 769.3 L1236.4 773.5 L1240.5 780.0 L1244.5 779.3 L1248.5 780.0 L1252.4 787.0 L1256.2 790.0 L1259.9 789.0 L1263.6 784.0 L1267.3 791.0 L1270.9 794.0 L1274.4 790.0 L1277.9 789.0 L1281.3 799.0 L1284.7 797.0 L1288.1 802.2 L1291.4 801.4 L1294.6 798.5 L1297.8 804.3 L1301.0 807.5 L1304.1 807.0 L1307.2 808.2 L1310.2 808.4 L1313.2 803.0 L1316.2 809.5 L1319.1 802.5 L1322.0 810.6 L1324.9 815.3 L1327.7 811.7 L1330.5 821.0 L1333.2 813.8 L1336.0 812.0 L1338.7 815.8 L1341.3 829.6 L1344.0 818.4 L1346.6 816.5 L1349.2 825.0 L1351.7 830.9 L1354.3 829.6 L1356.8 833.4 L1359.2 827.6 L1361.7 836.2 L1364.1 830.1 L1366.5 839.2 L1368.9 832.8 L1371.2 829.6 L1373.6 835.5 L1375.9 844.3 L1378.1 836.6 L1380.4 846.1 L1382.7 839.1 L1384.9 847.6 L1387.1 843.5 L1389.3 849.0 L1391.4 845.4 L1393.6 852.0 L1395.7 848.5 L1397.8 854.6 L1399.9 850.5 L1401.9 854.9 L1404.0 851.4 L1406.0 846.7 L1408.0 852.3 L1410.0 854.2 L1412.0 847.0 L1414.0 856.3 L1415.9 854.1 L1417.9 858.7 L1419.8 854.9 L1421.7 861.3 L1423.6 851.5 L1425.4 858.4 L1427.3 856.6 L1429.1 857.3 L1431.0 857.7 L1432.8 862.5 L1434.6 858.9 L1436.4 862.2 L1438.2 860.1 L1439.9 856.5 L1441.7 861.3 L1443.4 863.8 L1445.1 862.5 L1446.8 859.5 L1448.5 863.6 L1450.2 869.6 L1451.9 864.8 L1453.6 868.9 L1455.2 865.9 L1456.9 868.5 L1458.5 866.6 L1460.1 871.9 L1461.7 866.8 L1463.3 867.2 L1464.9 867.0 L1466.5 870.4 L1468.0 866.8 L1469.6 870.6 L1471.1 866.5 L1472.7 867.7 L1474.2 866.3 L1475.7 872.0 L1477.2 866.0 L1478.7 867.7 L1480.2 858.5 L1481.7 866.7 L1483.2 865.5 L1484.6 873.1 L1486.1 865.2 L1487.5 859.5 L1488.9 865.0 L1490.4 869.3 L1491.8 864.7 L1493.2 874.1 L1494.6 864.6 L1496.0 873.6 L1497.4 865.2 L1498.8 871.8 L1500.1 865.8 L1501.5 866.6 L1502.8 862.5 L1504.2 875.1 L1505.5 867.0 L1506.8 868.4 L1508.2 867.6 L1509.5 868.1 L1510.8 868.1 L1512.1 857.5 L1513.4 868.7 L1514.7 872.2 L1516.0 869.2 L1517.2 869.7 L1518.5 869.8 L1519.8 871.4 L1521.0 870.3 L1522.3 877.1 L1523.5 872.8 L1524.7 875.6 L1526.0 871.3 L1527.2 872.1 L1528.4 875.2 L1529.6 875.3 L1530.8 872.0 L1532.0 876.9 L1533.2 876.3 L1534.4 866.0 L1535.6 872.7 L1536.7 874.6 L1537.9 874.8 L1539.1 875.1 L1540.2 873.4 L1541.4 878.5 L1542.5 874.4 L1543.7 876.4 L1544.8 874.1 L1545.9 876.9 L1547.0 875.1 L1548.2 877.7 L1549.3 874.4 L1550.4 880.2 L1551.5 877.2 L1552.6 879.9 L1553.7 874.7 L1554.8 872.1 L1555.8 875.3 L1556.9 878.9 L1558.0 875.0 L1559.1 876.8 L1560.1 877.8 L1561.2 876.5 L1562.2 875.3 L1563.3 876.2 L1564.3 877.0 L1565.4 868.5 L1566.4 875.5 L1567.4 878.4 L1568.5 880.9 L1569.5 880.5 L1570.5 875.8 L1571.5 876.1 L1572.5 876.5 L1573.5 876.3 L1574.5 876.1 L1575.5 882.4 L1576.5 876.6 L1577.5 880.9 L1578.5 876.4 L1579.5 879.5 L1580.5 880.5 L1581.4 881.6 L1582.4 874.1 L1583.4 878.9 L1584.3 883.0 L1585.3 880.4 L1586.2 876.9 L1587.2 880.5 L1588.1 877.9 L1589.1 879.4 L1590.0 877.2 L1591.0 878.5 L1591.9 879.7 L1592.8 882.5 L1593.7 872.6 L1594.7 880.8 L1595.6 878.4 L1596.5 881.6 L1597.4 877.7 L1598.3 880.3 L1599.2 878.5 L1600.1 882.2 L1601.0 878.0 L1601.9 880.3 L1602.8 883.4 L1603.7 882.5 L1604.5 877.6 L1605.4 880.1 L1606.3 880.3 L1607.2 881.1 L1608.0 877.3 L1608.9 877.9 L1609.8 874.7 L1610.6 882.7 L1611.5 876.9 L1612.3 879.5 L1613.2 878.7 L1614.0 874.7 L1614.9 876.6 L1615.7 886.9 L1616.6 885.8 L1617.4 882.9 L1618.2 876.3 L1619.1 877.7 L1619.9 886.4 L1620.7 885.6 L1621.5 876.6 L1622.4 874.5 L1623.2 884.7 L1624.0 884.8 L1624.8 876.9 L1625.6 887.0 L1626.4 874.7 L1627.2 884.6 L1628.0 877.2 L1628.8 886.5 L1629.6 882.3 L1630.4 887.4 L1631.2 877.4 L1632.0 881.3 L1632.8 889.8 L1633.5 883.6 L1634.3 878.0 L1635.1 881.1 L1635.9 887.1 L1636.7 885.0 L1637.4 878.7 L1638.2 875.5 L1639.0 887.5 L1639.7 888.7 L1640.5 879.4 L1641.2 884.4 L1642.0 881.8 L1642.7 883.1 L1643.5 880.0 L1644.2 882.8 L1645.0 883.9 L1645.7 890.3 L1646.5 880.6 L1647.2 881.8 L1647.9 882.9 L1648.7 884.2 L1649.4 880.9 L1650.1 882.9 L1650.9 888.5 L1651.6 887.6 L1652.3 881.2 L1653.0 876.7 L1653.7 889.1 L1654.5 891.0 L1655.2 881.5 L1655.9 888.1 L1656.6 891.9 L1657.3 885.9 L1658.0 881.8 L1658.7 889.0 L1659.4 882.4 L1660.1 893.4 L1660.8 882.1 L1661.5 882.4 L1662.2 885.1 L1662.9 869.5 L1663.6 882.3 L1664.3 887.5 L1664.9 885.1 L1665.6 889.9 L1666.3 882.6 L1667.0 893.0 L1667.7 887.3 L1668.3 888.0 L1669.0 882.9 L1669.7 883.6 L1670.4 891.7 L1671.0 883.6 L1671.7 883.4 L1672.4 890.4 L1673.0 884.4 L1673.7 884.4 L1674.3 884.2 L1675.0 894.2 L1675.6 892.2 L1676.3 886.1 L1677.0 880.5 L1677.6 892.1 L1678.3 889.4 L1678.9 894.8 L1679.5 885.6 L1680.2 889.7 L1680.8 896.0 L1681.5 898.2 L1682.1 886.4 L1682.7 892.1 L1683.4 894.5 L1684.0 893.8 L1684.6 887.1 L1685.3 895.0 L1685.9 889.6 L1686.5 892.4 L1687.1 887.6 L1687.8 897.8 L1688.4 896.0 L1689.0 889.0 L1689.6 897.1 L1690.2 892.8 L1690.9 888.2 L1691.5 897.8 L1692.1 891.8 L1692.7 888.7 L1693.3 885.5 L1693.9 896.3 L1694.5 888.7 L1695.1 889.4 L1695.7 901.1 L1696.3 890.4 L1696.9 892.4 L1697.5 899.7 L1698.1 889.2 L1698.7 890.4 L1699.3 895.0 L1699.9 895.4 L1700.5 896.7 L1701.1 898.3 L1701.7 889.9 L1702.2 896.0 L1702.8 891.5 L1703.4 899.4 L1704.0 892.0 L1704.6 899.1 L1705.1 891.3 L1705.7 901.1 L1706.3 894.1 L1706.9 897.0 L1707.5 886.5 L1708.0 893.0 L1708.6 892.8 L1709.2 900.2 L1709.7 897.0 L1710.3 900.8 L1710.9 899.3 L1711.4 897.7 L1712.0 894.2 L1712.5 902.8 L1713.1 902.3 L1713.7 900.0 L1714.2 899.7 L1714.8 905.7 L1715.3 895.6 L1715.9 897.6 L1716.4 902.2 L1717.0 904.2 L1717.5 903.6 L1718.1 906.5 L1718.6 896.5 L1719.2 900.5 L1719.7 898.5 L1720.3 905.3 L1720.8 900.4 L1721.4 900.1 L1721.9 897.4 L1722.4 910.3 L1723.0 902.8 L1723.5 904.7 L1724.0 903.8 L1724.6 910.8 L1725.1 898.3 L1725.6 905.1 L1726.2 889.5 L1726.7 910.5 L1727.2 907.8 L1727.7 904.1 L1728.3 899.2 L1728.8 907.9 L1729.3 914.8 L1729.8 913.2 L1730.4 901.5 L1730.9 904.6 L1731.4 900.1 L1731.9 904.8 L1732.4 901.3 L1733.0 905.5 L1733.5 893.5 L1734.0 905.0 L1734.5 901.0 L1735.0 902.6 L1735.5 910.7 L1736.0 913.9 L1736.5 910.6 L1737.0 909.5 L1737.5 901.8 L1738.0 908.3 L1738.5 914.3 L1739.0 911.3 L1739.5 909.1 L1740.0 904.3 L1740.5 902.7 L1741.0 909.7 L1741.5 907.8 L1742.0 905.6 L1742.5 904.8 L1743.0 911.8 L1743.5 903.5 L1744.0 910.3 L1744.5 914.1 L1745.0 914.0 L1745.5 910.9 L1746.0 906.4 L1746.5 904.1 L1746.9 914.3 L1747.4 906.8 L1747.9 918.7 L1748.4 915.2 L1748.9 917.5 L1749.4 904.3 L1749.8 907.3 L1750.3 918.4 L1750.8 911.4 L1751.3 917.1 L1751.7 910.3 L1752.2 904.4 L1752.7 917.3 L1753.2 896.5 L1753.6 905.3 L1754.1 918.9 L1754.6 917.9 L1755.1 904.6 L1755.5 907.4 L1756.0 920.6 L1756.5 915.5 L1756.9 913.2 L1757.4 906.8 L1757.9 904.8 L1758.3 912.6 L1758.8 912.6 L1759.2 912.2 L1759.7 913.1 L1760.2 907.8 L1760.6 904.9 L1761.1 912.3 L1761.5 918.1 L1762.0 907.2 L1762.4 914.0 L1762.9 905.6 L1763.4 905.7 L1763.8 921.8 L1764.3 907.2 L1764.7 916.7 L1765.2 911.7 L1765.6 910.0 L1766.1 906.8 L1766.5 918.8 L1766.9 915.5 L1767.4 916.5 L1767.8 917.3 L1768.3 918.0 L1768.7 907.3 L1769.2 907.6 L1769.6 915.5 L1770.1 915.6 L1770.5 923.8 L1770.9 920.0 L1771.4 907.5 L1771.8 909.3 L1772.2 909.4 L1772.7 921.0 L1773.1 917.5 L1773.6 914.6 L1774.0 907.7 L1774.4 900.5 L1774.9 923.7 L1775.3 911.3 L1775.7 922.9 L1776.1 918.4 L1776.6 907.9 L1777.0 913.5 L1777.4 918.6 L1777.9 911.6 L1778.3 908.1 L1778.7 917.7 L1779.1 908.1 L1779.6 917.2 L1780.0 928.6 L1780.4 908.3 L1780.8 912.5 L1781.2 924.8 L1781.7 908.2 L1782.1 920.3 L1782.5 918.1 L1782.9 913.1 L1783.3 921.4 L1783.7 916.4 L1784.2 909.0 L1784.6 920.0 L1785.0 911.9 L1785.4 915.1 L1785.8 922.2 L1786.2 923.9 L1786.6 930.4 L1787.1 920.9 L1787.5 912.1 L1787.9 924.4 L1788.3 914.2 L1788.7 925.8 L1789.1 916.9 L1789.5 904.6 L1789.9 927.1 L1790.3 923.4 L1790.7 915.2 L1791.1 924.3 L1791.5 929.0 L1791.9 919.7 L1792.3 924.0 L1792.7 928.5 L1793.1 930.5 L1793.5 924.3 L1793.9 918.2 L1794.3 932.6 L1794.7 929.7 L1795.1 931.7 L1795.5 920.8 L1795.9 927.2 L1796.3 922.2 L1796.7 926.0 L1797.1 921.1 L1797.5 922.2 L1797.9 932.6 L1798.3 930.6 L1798.7 931.9 L1799.1 923.0 L1799.4 926.1 L1799.8 923.5 L1800.2 922.6 L1800.6 925.2 L1801.0 924.3 L1801.4 923.5 L1801.8 927.8 L1802.2 925.1 L1802.5 937.0 L1802.9 929.9 L1803.3 922.9 L1803.7 927.4 L1804.1 935.7 L1804.5 932.3 L1804.8 918.3 L1805.2 925.7 L1805.6 936.2 L1806.0 932.3 L1806.4 923.2 L1806.7 927.8 L1807.1 925.0 L1807.5 930.3 L1807.9 925.4 L1808.2 931.1 L1808.6 918.6 L1809.0 932.6 L1809.4 923.5 L1809.7 925.0 L1810.1 928.9 L1810.5 933.4 L1810.9 929.8 L1811.2 931.7 L1811.6 936.7 L1812.0 920.5 L1812.3 923.8 L1812.7 929.1 L1813.1 935.3 L1813.4 931.7 L1813.8 934.7 L1814.2 935.3 L1814.5 933.7 L1814.9 925.5 L1815.3 924.1 L1815.6 927.0 L1816.0 925.2 L1816.4 936.7 L1816.7 935.2 L1817.1 937.8 L1817.4 938.4 L1817.8 929.4 L1818.2 924.4 L1818.5 939.9 L1818.9 926.3 L1819.2 934.8 L1819.6 935.5 L1820.0 927.2 L1820.3 938.8 L1820.7 925.7 L1821.0 924.7 L1821.4 938.7 L1821.7 936.1 L1822.1 938.0 L1822.5 927.0 L1822.8 938.4 L1823.2 938.5 L1823.5 930.5 L1823.9 925.1 L1824.2 934.5 L1824.6 928.3 L1824.9 933.4 L1825.3 929.2 L1825.6 935.4 L1826.0 937.5 L1826.3 938.4 L1826.7 925.9 L1827.0 937.7 L1827.4 938.3 L1827.7 940.3 L1828.0 932.6 L1828.4 930.5 L1828.7 933.0 L1829.1 931.5 L1829.4 926.8 L1829.8 930.1 L1830.1 931.9 L1830.5 937.2 L1830.8 935.3 L1831.1 919.0 L1831.5 934.0 L1831.8 931.3 L1832.2 927.6 L1832.5 931.5 L1832.8 931.3 L1833.2 937.6 L1833.5 928.7 L1833.8 935.0 L1834.2 935.6 L1834.5 931.9 L1834.9 928.4 L1835.2 930.3 L1835.5 933.4 L1835.9 939.0 L1836.2 934.4 L1836.5 940.5 L1836.9 930.8 L1837.2 937.6 L1837.5 929.2 L1837.9 933.1 L1838.2 932.7 L1838.5 939.5 L1838.9 930.9 L1839.2 938.9 L1839.5 931.3 L1839.8 931.3 L1840.2 930.0 L1840.5 934.8 L1840.8 936.8 L1841.2 936.5 L1841.5 931.2 L1841.8 933.9 L1842.1 935.9 L1842.5 937.1 L1842.8 930.8 L1843.1 941.4 L1843.4 931.7 L1843.8 931.7 L1844.1 937.3 L1844.4 932.7 L1844.7 934.1 L1845.0 932.0 L1845.4 931.1 L1845.7 932.8 L1846.0 933.2 L1846.3 935.4 L1846.7 934.3 L1847.0 940.5 L1847.3 937.5 L1847.6 933.3 L1847.9 931.4 L1848.2 938.1 L1848.6 935.2 L1848.9 937.0 L1849.2 940.9 L1849.5 940.0 L1849.8 935.1 L1850.1 936.4 L1850.5 931.7 L1850.8 943.3 L1851.1 932.5 L1851.4 939.5 L1851.7 933.1 L1852.0 937.2 L1852.3 935.9 L1852.6 942.3 L1853.0 931.9 L1853.3 932.6 L1853.6 932.7 L1853.9 939.1 L1854.2 941.3 L1854.5 932.6 L1854.8 938.4 L1855.1 932.8 L1855.4 944.5 L1855.7 919.7 L1856.1 932.3 L1856.4 945.3 L1856.7 939.0 L1857.0 933.0 L1857.3 939.3 L1857.6 942.5 L1857.9 936.3 L1858.2 920.0 L1858.5 935.6 L1858.8 942.0 L1859.1 932.6 L1859.4 935.4 L1859.7 939.4 L1860.0 946.0 L1860.3 944.6 L1860.6 942.5 L1860.9 940.3 L1861.2 933.7 L1861.5 936.5 L1861.8 936.9 L1862.1 932.9 L1862.4 936.3 L1862.7 944.2 L1863.0 934.3 L1863.3 935.9 L1863.6 942.5 L1863.9 938.0 L1864.2 939.8 L1864.5 945.1 L1864.8 935.6 L1865.1 933.2 L1865.4 937.9 L1865.7 935.5 L1866.0 934.2 L1866.3 939.4 L1866.6 940.5 L1866.9 946.2 L1867.2 945.0 L1867.5 937.0 L1867.7 944.2 L1868.0 933.1 L1868.3 947.9 L1868.6 935.8 L1868.9 944.1 L1869.2 936.0 L1869.5 940.7 L1869.8 936.2 L1870.1 941.8 L1870.4 932.8 L1870.7 939.6 L1870.9 932.1 L1871.2 940.8 L1871.5 942.4 L1871.8 936.8 L1872.1 944.3 L1872.4 944.5 L1872.7 932.1 L1873.0 943.6 L1873.2 934.3 L1873.5 945.5 L1873.8 931.1 L1874.1 945.1 L1874.4 941.0 L1874.7 941.4 L1875.0 947.8 L1875.2 926.5 L1875.5 942.3 L1875.8 934.4 L1876.1 934.4 L1876.4 933.8 L1876.7 930.2 L1876.9 934.4 L1877.2 940.0 L1877.5 942.1 L1877.8 933.2 L1878.1 940.8 L1878.3 945.8 L1878.6 930.3 L1878.9 946.1 L1879.2 933.8 L1879.5 929.2 L1879.7 931.9 L1880.0 936.7 L1880.3 930.4 L1880.6 937.3 L1880.8 932.5 L1881.1 939.7 L1881.4 931.7 L1881.7 941.5 L1881.9 931.0 L1882.2 929.6 L1882.5 931.3 L1882.8 948.8 L1883.0 942.4 L1883.3 931.8 L1883.6 944.4 L1883.9 938.9 L1884.1 929.1 L1884.4 949.4 L1884.7 951.1 L1885.0 930.2 L1885.2 942.3 L1885.5 932.5 L1885.8 943.3 L1886.0 946.5 L1886.3 947.2 L1886.6 941.7 L1886.9 930.9 L1887.1 932.6 L1887.4 939.4 L1887.7 930.7 L1887.9 937.9 L1888.2 935.6 L1888.5 948.4 L1888.7 932.1 L1889.0 933.3 L1889.3 940.8 L1889.5 943.2 L1889.8 939.7 L1890.1 940.2 L1890.3 931.3 L1890.6 947.0 L1890.9 936.3 L1891.1 933.4 L1891.4 937.7 L1891.7 944.2 L1891.9 941.7 L1892.2 946.2 L1892.5 951.0 L1892.7 945.3 L1893.0 932.0 L1893.3 938.4 L1893.5 936.9 L1893.8 942.1 L1894.0 947.8 L1894.3 943.0 L1894.6 935.8 L1894.8 945.5 L1895.1 943.2 L1895.4 945.8 L1895.6 932.8 L1895.9 944.8 L1896.1 942.3 L1896.4 936.1 L1896.6 936.4 L1896.9 948.1 L1897.2 928.0 L1897.4 945.2 L1897.7 939.2 L1897.9 938.3 L1898.2 933.6 L1898.5 947.8 L1898.7 947.8 L1899.0 934.0 L1899.2 941.3 L1899.5 938.2 L1899.7 948.2 L1900.0 953.2 L1900.3 946.7 L1900.5 943.3 L1900.8 934.4 L1901.0 936.9 L1901.3 945.5 L1901.5 939.1 L1901.8 946.4 L1902.0 941.4 L1902.3 937.2 L1902.5 947.7 L1902.8 944.7 L1903.0 935.4 L1903.3 935.1 L1903.5 937.1 L1903.8 941.9 L1904.1 945.7 L1904.3 949.7 L1904.6 937.7 L1904.8 950.4 L1905.1 936.8 L1905.3 936.9 L1905.6 936.7 L1905.8 935.9 L1906.1 954.2 L1906.3 946.4 L1906.6 939.0 L1906.8 943.4 L1907.0 944.6 L1907.3 951.2 L1907.5 951.6 L1907.8 942.1 L1908.0 951.5 L1908.3 941.8 L1908.5 946.5 L1908.8 936.6 L1909.0 944.4 L1909.3 940.4 L1909.5 936.9 L1909.8 950.3 L1910.0 947.8 L1910.3 946.2 L1910.5 946.1 L1910.7 950.7 L1911.0 949.0 L1911.2 953.3 L1911.5 944.7 L1911.7 937.0 L1912.0 952.7 L1912.2 956.3 L1912.4 945.5 L1912.7 949.1 L1912.9 949.0 L1913.2 937.4 L1913.4 953.0 L1913.7 944.5 L1913.9 945.5 L1914.1 938.3 L1914.4 951.3 L1914.6 937.4 L1914.9 939.4 L1915.1 949.2 L1915.3 947.8 L1915.6 952.8 L1915.8 951.0 L1916.1 924.7 L1916.3 943.1 L1916.5 952.6 L1916.8 951.6 L1917.0 948.0 L1917.3 948.0 L1917.5 937.8 L1917.7 937.8 L1918.0 940.5 L1918.2 941.6 L1918.4 943.0 L1918.7 948.2 L1918.9 943.6 L1919.1 940.7 L1919.4 942.8 L1919.6 956.2 L1919.9 941.8 L1920.1 942.6 L1920.3 938.2 L1920.6 941.6 L1920.8 949.3 L1921.0 946.5 L1921.3 953.3 L1921.5 947.9 L1921.7 944.3 L1922.0 951.3 L1922.2 945.4 L1922.4 949.4 L1922.7 951.1 L1922.9 949.0 L1923.1 938.5 L1923.4 947.3 L1923.6 947.7 L1923.8 942.3 L1924.1 944.6 L1924.3 945.5 L1924.5 953.4 L1924.7 955.0 L1925.0 949.2 L1925.2 929.6 L1925.4 944.6 L1925.7 941.3 L1925.9 938.9 L1926.1 948.3 L1926.4 941.7 L1926.6 943.8 L1926.8 947.1 L1927.0 945.8 L1927.3 957.4 L1927.5 955.8 L1927.7 940.5 L1927.9 939.7 L1928.2 947.6 L1928.4 946.5 L1928.6 939.3 L1928.9 954.9 L1929.1 944.2 L1929.3 942.9 L1929.5 952.7 L1929.8 947.0 L1930.0 942.9 L1930.2 940.4 L1930.4 949.8 L1930.7 954.3 L1930.9 944.3 L1931.1 946.3 L1931.3 939.6 L1931.6 950.1 L1931.8 956.3 L1932.0 941.1 L1932.2 950.3 L1932.5 956.0 L1932.7 955.0 L1932.9 946.8 L1933.1 956.1 L1933.3 943.9 L1933.6 944.2 L1933.8 956.5 L1934.0 940.0 L1934.2 951.5 L1934.5 951.7 L1934.7 942.4 L1934.9 955.3 L1935.1 949.6 L1935.3 940.7 L1935.6 955.0 L1935.8 946.4 L1936.0 952.1 L1936.2 957.6 L1936.4 950.8 L1936.7 940.0 L1936.9 949.4 L1937.1 944.6 L1937.3 941.3 L1937.5 941.4 L1937.8 947.5 L1938.0 952.0 L1938.2 945.9 L1938.4 954.6 L1938.6 950.5 L1938.8 951.2 L1939.1 940.7 L1939.3 939.9 L1939.5 949.7 L1939.7 951.4 L1939.9 947.4 L1940.1 947.4 L1940.4 942.1 L1940.6 947.9 L1940.8 940.3 L1941.0 955.1 L1941.2 946.2 L1941.4 949.2 L1941.6 951.1 L1941.9 939.8 L1942.1 957.3 L1942.3 949.6 L1942.5 940.8 L1942.7 947.4 L1942.9 949.7 L1943.1 955.0 L1943.4 954.7 L1943.6 942.0 L1943.8 954.0 L1944.0 951.5 L1944.2 950.2 L1944.4 939.8 L1944.6 952.9 L1944.8 952.6 L1945.1 949.3 L1945.3 954.1 L1945.5 946.2 L1945.7 948.6 L1945.9 944.9 L1946.1 953.1 L1946.3 952.4 L1946.5 948.8 L1946.7 949.8 L1947.0 939.7 L1947.2 928.9 L1947.4 948.2 L1947.6 950.3 L1947.8 950.2 L1948.0 943.2 L1948.2 955.7 L1948.4 953.4 L1948.6 940.4 L1948.8 950.8 L1949.0 955.6 L1949.3 952.8 L1949.5 939.7 L1949.7 940.1 L1949.9 951.5 L1950.1 958.1 L1950.3 955.1 L1950.5 942.7 L1950.7 947.2 L1950.9 941.4 L1951.1 950.2 L1951.3 949.6 L1951.5 947.9 L1951.7 946.1 L1951.9 948.0 L1952.2 952.6 L1952.4 939.6 L1952.6 940.6 L1952.8 947.3 L1953.0 949.4 L1953.2 955.8 L1953.4 939.9 L1953.6 956.7 L1953.8 957.0 L1954.0 951.3 L1954.2 940.9 L1954.4 951.1 L1954.6 941.1 L1954.8 941.9 L1955.0 951.1 L1955.2 939.6 L1955.4 950.6 L1955.6 941.9 L1955.8 945.1 L1956.0 945.1 L1956.2 946.5 L1956.4 946.3 L1956.6 958.7 L1956.8 942.0 L1957.0 952.3 L1957.2 954.6 L1957.4 951.7 L1957.6 943.8 L1957.8 942.6 L1958.0 940.2 L1958.2 948.0 L1958.4 943.8 L1958.6 944.4 L1958.8 944.3 L1959.0 948.6 L1959.2 946.4 L1959.4 955.5 L1959.6 948.8 L1959.8 957.5 L1960.0 950.1 L1960.2 956.0 L1960.4 942.9 L1960.6 943.7 L1960.8 941.1 L1961.0 942.4 L1961.2 955.9 L1961.4 946.4 L1961.6 951.2 L1961.8 946.3 L1962.0 945.3 L1962.2 942.6 L1962.4 942.4 L1962.6 949.3 L1962.8 943.1 L1963.0 951.4 L1963.2 946.5 L1963.4 949.7 L1963.6 942.0 L1963.8 956.1 L1964.0 946.1 L1964.2 944.7 L1964.4 946.8 L1964.6 956.1 L1964.8 948.2 L1965.0 945.3 L1965.1 930.2 L1965.3 942.9 L1965.5 960.3 L1965.7 956.3 L1965.9 948.7 L1966.1 958.8 L1966.3 942.9 L1966.5 952.3 L1966.7 943.8 L1966.9 954.6 L1967.1 951.5 L1967.3 959.1 L1967.5 952.4 L1967.7 949.2 L1967.9 956.8 L1968.0 954.1 L1968.2 947.7 L1968.4 952.9 L1968.6 955.8 L1968.8 957.4 L1969.0 943.7 L1969.2 947.5 L1969.4 952.6 L1969.6 955.3 L1969.8 958.6 L1970.0 948.6 L1970.2 946.2 L1970.3 954.8 L1970.5 953.2 L1970.7 945.0 L1970.9 955.6 L1971.1 953.9 L1971.3 953.6 L1971.5 950.7 L1971.7 944.6 L1971.9 945.8 L1972.1 948.1 L1972.2 933.1 L1972.4 958.6 L1972.6 946.5 L1972.8 948.7 L1973.0 954.5 L1973.2 960.8 L1973.4 957.1 L1973.6 954.7 L1973.7 949.5 L1973.9 951.8 L1974.1 950.8 L1974.3 945.5 L1974.5 953.6 L1974.7 952.9 L1974.9 950.0 L1975.1 945.9 L1975.2 956.4 L1975.4 946.7 L1975.6 955.2 L1975.8 952.4 L1976.0 955.4 L1976.2 946.6 L1976.4 950.2 L1976.5 955.1 L1976.7 948.6 L1976.9 946.3 L1977.1 952.2 L1977.3 953.6 L1977.5 953.7 L1977.7 949.4 L1977.8 956.5 L1978.0 957.4 L1978.2 950.8 L1978.4 955.0 L1978.6 956.2 L1978.8 956.5 L1978.9 958.0 L1979.1 953.8 L1979.3 950.5 L1979.5 946.2 L1979.7 954.9 L1979.9 958.2 L1980.0 956.1 L1980.2 957.3 L1980.4 953.7 L1980.6 958.5 L1980.8 949.2 L1981.0 951.6 L1981.1 948.8 L1981.3 947.0 L1981.5 947.3 L1981.7 955.1 L1981.9 957.4 L1982.0 945.7 L1982.2 960.1 L1982.4 947.3 L1982.6 950.8 L1982.8 954.3 L1983.0 951.2 L1983.1 955.8 L1983.3 957.7 L1983.5 958.9 L1983.7 941.1 L1983.9 946.6 L1984.0 951.3 L1984.2 953.8 L1984.4 947.9 L1984.6 945.2 L1984.8 957.4 L1984.9 949.5 L1985.1 953.2 L1985.3 950.5 L1985.5 945.6 L1985.6 958.8 L1985.8 945.9 L1986.0 956.9 L1986.2 958.1 L1986.4 954.8 L1986.5 947.8 L1986.7 955.0 L1986.9 958.9 L1987.1 948.5 L1987.2 950.3 L1987.4 944.7 L1987.6 948.3 L1987.8 945.5 L1988.0 954.8 L1988.1 947.0 L1988.3 952.9 L1988.5 952.3 L1988.7 959.3 L1988.8 946.2 L1989.0 950.0 L1989.2 953.9 L1989.4 958.9 L1989.5 961.2 L1989.7 954.4 L1989.9 949.9 L1990.1 947.2 L1990.2 944.1 L1990.4 955.3 L1990.6 959.3 L1990.8 946.4 L1990.9 956.7 L1991.1 947.3 L1991.3 949.1 L1991.5 954.7 L1991.6 956.6 L1991.8 958.1 L1992.0 957.0 L1992.2 948.0 L1992.3 945.1 L1992.5 950.0 L1992.7 956.2 L1992.9 948.0 L1993.0 944.8 L1993.2 947.4 L1993.4 952.0 L1993.6 949.3 L1993.7 957.3 L1993.9 957.2 L1994.1 958.8 L1994.2 947.0 L1994.4 952.4 L1994.6 958.1 L1994.8 946.6 L1994.9 952.8 L1995.1 957.5 L1995.3 959.1 L1995.4 958.9 L1995.6 951.9 L1995.8 945.4 L1996.0 947.8 L1996.1 948.7 L1996.3 952.0 L1996.5 954.8 L1996.6 949.2 L1996.8 948.3 L1997.0 953.2 L1997.2 950.4 L1997.3 948.4 L1997.5 961.2 L1997.7 952.2 L1997.8 957.0 L1998.0 953.8 L1998.2 956.2 L1998.3 924.4 L1998.5 946.0 L1998.7 951.3 L1998.8 951.2 L1999.0 947.5 L1999.2 948.8 L1999.4 954.4 L1999.5 956.2 L1999.7 952.8 L1999.9 948.0 L2000.0 946.9 L2000.2 946.9 L2000.4 954.5 L2000.5 952.3 L2000.7 958.4 L2000.9 954.1 L2001.0 949.6 L2001.2 946.6 L2001.4 958.3 L2001.5 955.6 L2001.7 957.6 L2001.9 957.8 L2002.0 958.9 L2002.2 955.0 L2002.4 958.0 L2002.5 948.0 L2002.7 959.8 L2002.9 959.7 L2003.0 956.7 L2003.2 948.8 L2003.4 949.0 L2003.5 956.6 L2003.7 959.4 L2003.9 947.3 L2004.0 961.0 L2004.2 948.4 L2004.4 954.9 L2004.5 954.0 L2004.7 957.8 L2004.9 949.9 L2005.0 948.6 L2005.2 949.7 L2005.3 950.5 L2005.5 955.3 L2005.7 959.4 L2005.8 960.1 L2006.0 953.6 L2006.2 950.3 L2006.3 958.5 L2006.5 947.9 L2006.7 955.3 L2006.8 952.3 L2007.0 960.0 L2007.2 960.3 L2007.3 958.8 L2007.5 954.1 L2007.6 955.6 L2007.8 948.6 L2008.0 954.5 L2008.1 949.7 L2008.3 959.0 L2008.5 961.3 L2008.6 950.4 L2008.8 935.9 L2008.9 960.5 L2009.1 948.5 L2009.3 954.3 L2009.4 958.4 L2009.6 950.1 L2009.7 950.9 L2009.9 956.0 L2010.1 959.1 L2010.2 963.4 L2010.4 950.1 L2010.6 956.9 L2010.7 954.5 L2010.9 960.4 L2011.0 954.5 L2011.2 949.2 L2011.4 950.4 L2011.5 957.4 L2011.7 949.1 L2011.8 955.0 L2012.0 955.2 L2012.2 952.5 L2012.3 962.1 L2012.5 953.3 L2012.6 949.4 L2012.8 960.9 L2013.0 957.5 L2013.1 956.5 L2013.3 951.2 L2013.4 961.4 L2013.6 963.1 L2013.8 958.8 L2013.9 951.3 L2014.1 960.1 L2014.2 949.6 L2014.4 953.6 L2014.5 962.9 L2014.7 953.9 L2014.9 957.1 L2015.0 957.5 L2015.2 952.4 L2015.3 958.3 L2015.5 956.9 L2015.6 959.9 L2015.8 952.4 L2016.0 952.7 L2016.1 953.3 L2016.3 962.9 L2016.4 957.7 L2016.6 964.6 L2016.7 950.2 L2016.9 950.7 L2017.1 961.4 L2017.2 955.2 L2017.4 941.8 L2017.5 958.5 L2017.7 960.2 L2017.8 962.8 L2018.0 953.9 L2018.2 959.4 L2018.3 958.1 L2018.5 959.8 L2018.6 959.4 L2018.8 951.3 L2018.9 955.1 L2019.1 952.4 L2019.2 958.2 L2019.4 953.5 L2019.6 950.9 L2019.7 961.8 L2019.9 951.5 L2020.0 962.5 L2020.2 956.5 L2020.3 958.9 L2020.5 954.7 L2020.6 960.0 L2020.8 955.8 L2020.9 955.1 L2021.1 963.1 L2021.3 956.4 L2021.4 957.3 L2021.6 959.4 L2021.7 962.2 L2021.9 962.7 L2022.0 954.8 L2022.2 958.3 L2022.3 951.5 L2022.5 960.6 L2022.6 954.0 L2022.8 962.1 L2022.9 960.7 L2023.1 963.2 L2023.2 953.7 L2023.4 953.3 L2023.5 958.8 L2023.7 960.0 L2023.9 954.0 L2024.0 965.2 L2024.2 962.1 L2024.3 957.4 L2024.5 957.5 L2024.6 955.0 L2024.8 955.2 L2024.9 952.1 L2025.1 952.1 L2025.2 952.8 L2025.4 960.6 L2025.5 955.6 L2025.7 958.4 L2025.8 958.6 L2026.0 964.0 L2026.1 960.9 L2026.3 957.3 L2026.4 962.8 L2026.6 959.7 L2026.7 960.6 L2026.9 958.1 L2027.0 962.1 L2027.2 955.8 L2027.3 960.2 L2027.5 964.0 L2027.6 952.4 L2027.8 952.0 L2027.9 955.3 L2028.1 954.1 L2028.2 962.9 L2028.4 963.0 L2028.5 964.2 L2028.7 949.5 L2028.8 955.3 L2029.0 963.0 L2029.1 952.5 L2029.3 958.7 L2029.4 954.0 L2029.6 957.4 L2029.7 957.9 L2029.9 959.9 L2030.0 956.3 L2030.2 959.6 L2030.3 954.2 L2030.5 951.9 L2030.6 963.9 L2030.8 966.1 L2030.9 963.0 L2031.0 962.7 L2031.2 951.8 L2031.3 954.9 L2031.5 960.8 L2031.6 959.6 L2031.8 958.4 L2031.9 961.4 L2032.1 961.3 L2032.2 962.2 L2032.4 962.4 L2032.5 963.0 L2032.7 953.5 L2032.8 955.0 L2033.0 951.9 L2033.1 951.7 L2033.3 963.0 L2033.4 958.6 L2033.5 952.9 L2033.7 957.0 L2033.8 954.2 L2034.0 962.1 L2034.1 963.6 L2034.3 952.1 L2034.4 958.7 L2034.6 953.2 L2034.7 957.7 L2034.9 961.2 L2035.0 955.7 L2035.1 959.1 L2035.3 963.6 L2035.4 954.6 L2035.6 951.5 L2035.7 951.5 L2035.9 956.2 L2036.0 954.6 L2036.2 954.4 L2036.3 965.7 L2036.5 952.8 L2036.6 965.3 L2036.7 964.8 L2036.9 956.6 L2037.0 963.8 L2037.2 954.9 L2037.3 951.6 L2037.5 955.3 L2037.6 963.9 L2037.7 961.8 L2037.9 928.6 L2038.0 957.0 L2038.2 958.7 L2038.3 951.3 L2038.5 963.4 L2038.6 961.1 L2038.7 960.5 L2038.9 961.5 L2039.0 954.4 L2039.2 963.0 L2039.3 962.0 L2039.5 958.4 L2039.6 959.4 L2039.7 959.3 L2039.9 965.3 L2040.0 959.1 L2040.2 954.0 L2040.3 952.6 L2040.5 954.3 L2040.6 960.8 L2040.7 956.5 L2040.9 951.1 L2041.0 959.1 L2041.2 951.8 L2041.3 958.4 L2041.5 956.0 L2041.6 959.1 L2041.7 956.6 L2041.9 957.6 L2042.0 965.6 L2042.2 962.4 L2042.3 955.4 L2042.4 958.2 L2042.6 954.1 L2042.7 963.6 L2042.9 965.2 L2043.0 956.0 L2043.1 957.1 L2043.3 956.7 L2043.4 951.0 L2043.6 962.4 L2043.7 951.9 L2043.8 952.7 L2044.0 952.4 L2044.1 954.2 L2044.3 962.1 L2044.4 953.1 L2044.5 951.7 L2044.7 951.5 L2044.8 952.5 L2045.0 954.3 L2045.1 962.8 L2045.2 963.7 L2045.4 957.8 L2045.5 952.4 L2045.7 958.2 L2045.8 958.2 L2045.9 950.8 L2046.1 964.5 L2046.2 959.4 L2046.3 961.2 L2046.5 967.7 L2046.6 963.0 L2046.8 953.7 L2046.9 951.2 L2047.0 954.5 L2047.2 951.5 L2047.3 958.4 L2047.5 961.3 L2047.6 951.4 L2047.7 962.5 L2047.9 965.6 L2048.0 957.6 L2048.1 952.3 L2048.3 959.5 L2048.4 960.7 L2048.6 956.8 L2048.7 950.6 L2048.8 957.6 L2049.0 962.0 L2049.1 965.2 L2049.2 957.5 L2049.4 938.0 L2049.5 955.1 L2049.6 957.6 L2049.8 966.4 L2049.9 955.6 L2050.1 963.8 L2050.2 967.3 L2050.3 960.0 L2050.5 954.3 L2050.6 961.4 L2050.7 960.8 L2050.9 955.6 L2051.0 958.9 L2051.1 958.8 L2051.3 951.6 L2051.4 950.4 L2051.6 957.0 L2051.7 965.3 L2051.8 954.4 L2052.0 961.6 L2052.1 969.3 L2052.2 957.4 L2052.4 951.9 L2052.5 966.1 L2052.6 966.4 L2052.8 951.3 L2052.9 959.0 L2053.0 953.9 L2053.2 959.6 L2053.3 967.1 L2053.4 954.4 L2053.6 961.7 L2053.7 959.4 L2053.8 956.8 L2054.0 956.6 L2054.1 950.2 L2054.2 957.4 L2054.4 942.7 L2054.5 954.9 L2054.7 965.9 L2054.8 952.5 L2054.9 950.5 L2055.1 953.7 L2055.2 960.1 L2055.3 961.1 L2055.5 952.1 L2055.6 967.6 L2055.7 951.9 L2055.9 963.0 L2056.0 961.3 L2056.1 962.6 L2056.3 960.9 L2056.4 955.0 L2056.5 950.1 L2056.6 960.7 L2056.8 950.0 L2056.9 962.8 L2057.0 957.3 L2057.2 955.4 L2057.3 955.7 L2057.4 957.2 L2057.6 955.3 L2057.7 956.3 L2057.8 952.3 L2058.0 956.2 L2058.1 950.3 L2058.2 956.4 L2058.4 954.3 L2058.5 966.9 L2058.6 953.5 L2058.8 954.1 L2058.9 960.1 L2059.0 965.1 L2059.2 965.7 L2059.3 962.7 L2059.4 949.9 L2059.5 959.0 L2059.7 958.2 L2059.8 951.7 L2059.9 953.6 L2060.1 957.7 L2060.2 967.7 L2060.3 966.8 L2060.5 957.1 L2060.6 964.6 L2060.7 957.3 L2060.9 957.4 L2061.0 955.2 L2061.1 952.8 L2061.2 960.0 L2061.4 961.9 L2061.5 949.9 L2061.6 969.3 L2061.8 960.9 L2061.9 958.2 L2062.0 949.3 L2062.2 966.3 L2062.3 960.9 L2062.4 966.0 L2062.5 954.2 L2062.7 951.0 L2062.8 950.4 L2062.9 956.8 L2063.1 960.3 L2063.2 951.9 L2063.3 961.8 L2063.4 963.5 L2063.6 963.7 L2063.7 966.6 L2063.8 965.2 L2064.0 950.7 L2064.1 959.4 L2064.2 967.1 L2064.3 960.3 L2064.5 962.3 L2064.6 948.5 L2064.7 966.1 L2064.9 952.2 L2065.0 959.4 L2065.1 950.5 L2065.2 965.1 L2065.4 961.0 L2065.5 949.4 L2065.6 956.6 L2065.8 950.1 L2065.9 950.8 L2066.0 956.6 L2066.1 954.2 L2066.3 949.2 L2066.4 963.2 L2066.5 951.6 L2066.7 950.7 L2066.8 967.0 L2066.9 961.5 L2067.0 958.1 L2067.2 947.8 L2067.3 959.6 L2067.4 958.4 L2067.5 968.3 L2067.7 965.3 L2067.8 961.2 L2067.9 958.8 L2068.0 948.2 L2068.2 962.3 L2068.3 953.2 L2068.4 968.6 L2068.6 957.2 L2068.7 951.8 L2068.8 961.8 L2068.9 964.1 L2069.1 964.3 L2069.2 958.4 L2069.3 956.1 L2069.4 948.8 L2069.6 962.5 L2069.7 947.2 L2069.8 966.3 L2069.9 961.1 L2070.1 965.3 L2070.2 952.3 L2070.3 960.9 L2070.4 954.3 L2070.6 957.0 L2070.7 960.3 L2070.8 953.7 L2070.9 964.8 L2071.1 971.7 L2071.2 952.0 L2071.3 961.8 L2071.4 957.8 L2071.6 951.6 L2071.7 951.1 L2071.8 950.0 L2071.9 950.3 L2072.1 950.9 L2072.2 954.1 L2072.3 965.7 L2072.4 946.5 L2072.6 968.0 L2072.7 965.0 L2072.8 962.2 L2072.9 970.4 L2073.1 964.2 L2073.2 947.9 L2073.3 963.7 L2073.4 954.4 L2073.5 949.5 L2073.7 968.2 L2073.8 954.0 L2073.9 952.9 L2074.0 948.1 L2074.2 968.1 L2074.3 954.5 L2074.4 939.0 L2074.5 953.6 L2074.7 956.8 L2074.8 947.4 L2074.9 949.0 L2075.0 961.2 L2075.1 945.9 L2075.3 965.5 L2075.4 948.3 L2075.5 963.5 L2075.6 946.2 L2075.8 970.6 L2075.9 945.9 L2076.0 963.3 L2076.1 965.1 L2076.3 969.2 L2076.4 950.9 L2076.5 959.8 L2076.6 956.1 L2076.7 960.6 L2076.9 948.7 L2077.0 955.0 L2077.1 950.0 L2077.2 962.3 L2077.3 950.8 L2077.5 968.0 L2077.6 946.4 L2077.7 973.0 L2077.8 945.2 L2078.0 964.6 L2078.1 963.3 L2078.2 957.8 L2078.3 970.0 L2078.4 962.1 L2078.6 964.4 L2078.7 950.5 L2078.8 949.5 L2078.9 956.8 L2079.0 954.0 L2079.2 959.9 L2079.3 967.1 L2079.4 949.0 L2079.5 960.9 L2079.6 960.2 L2079.8 945.4 L2079.9 945.1 L2080.0 962.4 L2080.1 949.0 L2080.2 950.1 L2080.4 962.6 L2080.5 944.6 L2080.6 946.1 L2080.7 960.2 L2080.8 959.6 L2081.0 958.5 L2081.1 947.1 L2081.2 968.1 L2081.3 967.3 L2081.4 940.1 L2081.6 944.4 L2081.7 952.5 L2081.8 958.5" stroke="#763240" stroke-width="7.6"/>
<path d="M266.9 305.0h0M432.4 331.2h0M529.2 357.2h0M597.9 388.8h0M651.2 431.2h0M694.7 465.0h0M731.5 493.0h0M763.4 510.0h0M791.5 519.0h0M816.7 528.8h0M839.5 538.8h0M860.2 551.2h0M879.3 564.2h0M897.0 574.5h0M913.5 581.2h0M928.9 593.8h0M943.4 605.0h0M957.0 613.8h0M970.0 623.8h0M982.2 631.2h0M993.9 631.2h0M1005.0 640.0h0M1015.6 653.8h0M1025.7 655.0h0M1035.5 661.2h0M1044.9 662.5h0M1053.9 679.2h0M1062.5 679.2h0M1070.9 690.9h0M1079.0 695.1h0M1086.9 706.8h0M1094.4 709.3h0M1101.8 719.3h0M1108.9 722.7h0M1115.8 726.0h0M1122.6 717.2h0M1129.1 729.7h0M1135.5 735.1h0M1141.7 740.5h0M1147.7 740.7h0M1153.6 747.8h0M1159.4 731.5h0M1165.0 751.0h0M1170.5 747.3h0M1175.8 754.0h0M1181.1 753.8h0M1186.2 759.5h0M1191.2 757.3h0M1196.2 764.0h0M1201.0 763.0h0M1205.7 764.6h0M1210.4 761.8h0M1214.9 768.5h0M1219.4 769.3h0M1223.8 771.5h0M1228.1 766.8h0M1232.3 769.3h0M1236.4 773.5h0M1240.5 780.0h0M1244.5 779.3h0M1248.5 780.0h0M1252.4 787.0h0M1256.2 790.0h0M1259.9 789.0h0M1263.6 784.0h0M1267.3 791.0h0M1270.9 794.0h0M1274.4 790.0h0M1277.9 789.0h0M1281.3 799.0h0M1284.7 797.0h0M1288.1 802.2h0M1291.4 801.4h0M1294.6 798.5h0M1297.8 804.3h0M1301.0 807.5h0M1304.1 807.0h0M1307.2 808.2h0M1310.2 808.4h0M1313.2 803.0h0M1316.2 809.5h0M1319.1 802.5h0M1322.0 810.6h0M1324.9 815.3h0M1327.7 811.7h0M1330.5 821.0h0M1333.2 813.8h0M1336.0 812.0h0M1338.7 815.8h0M1341.3 829.6h0M1344.0 818.4h0M1346.6 816.5h0M1349.2 825.0h0M1351.7 830.9h0M1354.3 829.6h0M1356.8 833.4h0M1359.2 827.6h0M1361.7 836.2h0M1364.1 830.1h0M1366.5 839.2h0M1368.9 832.8h0M1371.2 829.6h0M1373.6 835.5h0M1375.9 844.3h0M1378.1 836.6h0M1380.4 846.1h0M1382.7 839.1h0M1384.9 847.6h0M1387.1 843.5h0M1389.3 849.0h0M1391.4 845.4h0M1393.6 852.0h0M1395.7 848.5h0M1397.8 854.6h0M1399.9 850.5h0M1401.9 854.9h0M1404.0 851.4h0M1406.0 846.7h0M1408.0 852.3h0M1410.0 854.2h0M1412.0 847.0h0M1414.0 856.3h0M1415.9 854.1h0M1417.9 858.7h0M1419.8 854.9h0M1421.7 861.3h0M1423.6 851.5h0M1425.4 858.4h0M1427.3 856.6h0M1429.1 857.3h0M1431.0 857.7h0M1432.8 862.5h0M1434.6 858.9h0M1436.4 862.2h0M1438.2 860.1h0M1439.9 856.5h0M1441.7 861.3h0M1443.4 863.8h0M1445.1 862.5h0M1446.8 859.5h0M1448.5 863.6h0M1450.2 869.6h0M1451.9 864.8h0M1453.6 868.9h0M1455.2 865.9h0M1456.9 868.5h0M1458.5 866.6h0M1460.1 871.9h0M1461.7 866.8h0M1463.3 867.2h0M1464.9 867.0h0M1466.5 870.4h0M1468.0 866.8h0M1469.6 870.6h0M1471.1 866.5h0M1472.7 867.7h0M1474.2 866.3h0M1475.7 872.0h0M1477.2 866.0h0M1478.7 867.7h0M1480.2 858.5h0M1481.7 866.7h0M1483.2 865.5h0M1484.6 873.1h0M1486.1 865.2h0M1487.5 859.5h0M1488.9 865.0h0M1490.4 869.3h0M1491.8 864.7h0M1493.2 874.1h0M1494.6 864.6h0M1496.0 873.6h0M1497.4 865.2h0M1498.8 871.8h0M1500.1 865.8h0M1501.5 866.6h0M1502.8 862.5h0M1504.2 875.1h0M1505.5 867.0h0M1506.8 868.4h0M1508.2 867.6h0M1509.5 868.1h0M1510.8 868.1h0M1512.1 857.5h0M1513.4 868.7h0M1514.7 872.2h0M1516.0 869.2h0M1517.2 869.7h0M1518.5 869.8h0M1519.8 871.4h0M1521.0 870.3h0M1522.3 877.1h0M1523.5 872.8h0M1524.7 875.6h0M1526.0 871.3h0M1527.2 872.1h0M1528.4 875.2h0M1529.6 875.3h0M1530.8 872.0h0M1532.0 876.9h0M1533.2 876.3h0M1534.4 866.0h0M1535.6 872.7h0M1536.7 874.6h0M1537.9 874.8h0M1539.1 875.1h0M1540.2 873.4h0M1541.4 878.5h0M1542.5 874.4h0M1543.7 876.4h0M1544.8 874.1h0M1545.9 876.9h0M1547.0 875.1h0M1548.2 877.7h0M1549.3 874.4h0M1550.4 880.2h0M1551.5 877.2h0M1552.6 879.9h0M1553.7 874.7h0M1554.8 872.1h0M1555.8 875.3h0M1556.9 878.9h0M1558.0 875.0h0M1559.1 876.8h0M1560.1 877.8h0M1561.2 876.5h0M1562.2 875.3h0M1563.3 876.2h0M1564.3 877.0h0M1565.4 868.5h0M1566.4 875.5h0M1567.4 878.4h0M1568.5 880.9h0M1569.5 880.5h0M1570.5 875.8h0M1571.5 876.1h0M1572.5 876.5h0M1573.5 876.3h0M1574.5 876.1h0M1575.5 882.4h0M1576.5 876.6h0M1577.5 880.9h0M1578.5 876.4h0M1579.5 879.5h0M1580.5 880.5h0M1581.4 881.6h0M1582.4 874.1h0M1583.4 878.9h0M1584.3 883.0h0M1585.3 880.4h0M1586.2 876.9h0M1587.2 880.5h0M1588.1 877.9h0M1589.1 879.4h0M1590.0 877.2h0M1591.0 878.5h0M1591.9 879.7h0M1592.8 882.5h0M1593.7 872.6h0M1594.7 880.8h0M1595.6 878.4h0M1596.5 881.6h0M1597.4 877.7h0M1598.3 880.3h0M1599.2 878.5h0M1600.1 882.2h0M1601.0 878.0h0M1601.9 880.3h0M1602.8 883.4h0M1603.7 882.5h0M1604.5 877.6h0M1605.4 880.1h0M1606.3 880.3h0M1607.2 881.1h0M1608.0 877.3h0M1608.9 877.9h0M1609.8 874.7h0M1610.6 882.7h0M1611.5 876.9h0M1612.3 879.5h0M1613.2 878.7h0M1614.0 874.7h0M1614.9 876.6h0M1615.7 886.9h0M1616.6 885.8h0M1617.4 882.9h0M1618.2 876.3h0M1619.1 877.7h0M1619.9 886.4h0M1620.7 885.6h0M1621.5 876.6h0M1622.4 874.5h0M1623.2 884.7h0M1624.0 884.8h0M1624.8 876.9h0M1625.6 887.0h0M1626.4 874.7h0M1627.2 884.6h0M1628.0 877.2h0M1628.8 886.5h0M1629.6 882.3h0M1630.4 887.4h0M1631.2 877.4h0M1632.0 881.3h0M1632.8 889.8h0M1633.5 883.6h0M1634.3 878.0h0M1635.1 881.1h0M1635.9 887.1h0M1636.7 885.0h0M1637.4 878.7h0M1638.2 875.5h0M1639.0 887.5h0M1639.7 888.7h0M1640.5 879.4h0M1641.2 884.4h0M1642.0 881.8h0M1642.7 883.1h0M1643.5 880.0h0M1644.2 882.8h0M1645.0 883.9h0M1645.7 890.3h0M1646.5 880.6h0M1647.2 881.8h0M1647.9 882.9h0M1648.7 884.2h0M1649.4 880.9h0M1650.1 882.9h0M1650.9 888.5h0M1651.6 887.6h0M1652.3 881.2h0M1653.0 876.7h0M1653.7 889.1h0M1654.5 891.0h0M1655.2 881.5h0M1655.9 888.1h0M1656.6 891.9h0M1657.3 885.9h0M1658.0 881.8h0M1658.7 889.0h0M1659.4 882.4h0M1660.1 893.4h0M1660.8 882.1h0M1661.5 882.4h0M1662.2 885.1h0M1662.9 869.5h0M1663.6 882.3h0M1664.3 887.5h0M1664.9 885.1h0M1665.6 889.9h0M1666.3 882.6h0M1667.0 893.0h0M1667.7 887.3h0M1668.3 888.0h0M1669.0 882.9h0M1669.7 883.6h0M1670.4 891.7h0M1671.0 883.6h0M1671.7 883.4h0M1672.4 890.4h0M1673.0 884.4h0M1673.7 884.4h0M1674.3 884.2h0M1675.0 894.2h0M1675.6 892.2h0M1676.3 886.1h0M1677.0 880.5h0M1677.6 892.1h0M1678.3 889.4h0M1678.9 894.8h0M1679.5 885.6h0M1680.2 889.7h0M1680.8 896.0h0M1681.5 898.2h0M1682.1 886.4h0M1682.7 892.1h0M1683.4 894.5h0M1684.0 893.8h0M1684.6 887.1h0M1685.3 895.0h0M1685.9 889.6h0M1686.5 892.4h0M1687.1 887.6h0M1687.8 897.8h0M1688.4 896.0h0M1689.0 889.0h0M1689.6 897.1h0M1690.2 892.8h0M1690.9 888.2h0M1691.5 897.8h0M1692.1 891.8h0M1692.7 888.7h0M1693.3 885.5h0M1693.9 896.3h0M1694.5 888.7h0M1695.1 889.4h0M1695.7 901.1h0M1696.3 890.4h0M1696.9 892.4h0M1697.5 899.7h0M1698.1 889.2h0M1698.7 890.4h0M1699.3 895.0h0M1699.9 895.4h0M1700.5 896.7h0M1701.1 898.3h0M1701.7 889.9h0M1702.2 896.0h0M1702.8 891.5h0M1703.4 899.4h0M1704.0 892.0h0M1704.6 899.1h0M1705.1 891.3h0M1705.7 901.1h0M1706.3 894.1h0M1706.9 897.0h0M1707.5 886.5h0M1708.0 893.0h0M1708.6 892.8h0M1709.2 900.2h0M1709.7 897.0h0M1710.3 900.8h0M1710.9 899.3h0M1711.4 897.7h0M1712.0 894.2h0M1712.5 902.8h0M1713.1 902.3h0M1713.7 900.0h0M1714.2 899.7h0M1714.8 905.7h0M1715.3 895.6h0M1715.9 897.6h0M1716.4 902.2h0M1717.0 904.2h0M1717.5 903.6h0M1718.1 906.5h0M1718.6 896.5h0M1719.2 900.5h0M1719.7 898.5h0M1720.3 905.3h0M1720.8 900.4h0M1721.4 900.1h0M1721.9 897.4h0M1722.4 910.3h0M1723.0 902.8h0M1723.5 904.7h0M1724.0 903.8h0M1724.6 910.8h0M1725.1 898.3h0M1725.6 905.1h0M1726.2 889.5h0M1726.7 910.5h0M1727.2 907.8h0M1727.7 904.1h0M1728.3 899.2h0M1728.8 907.9h0M1729.3 914.8h0M1729.8 913.2h0M1730.4 901.5h0M1730.9 904.6h0M1731.4 900.1h0M1731.9 904.8h0M1732.4 901.3h0M1733.0 905.5h0M1733.5 893.5h0M1734.0 905.0h0M1734.5 901.0h0M1735.0 902.6h0M1735.5 910.7h0M1736.0 913.9h0M1736.5 910.6h0M1737.0 909.5h0M1737.5 901.8h0M1738.0 908.3h0M1738.5 914.3h0M1739.0 911.3h0M1739.5 909.1h0M1740.0 904.3h0M1740.5 902.7h0M1741.0 909.7h0M1741.5 907.8h0M1742.0 905.6h0M1742.5 904.8h0M1743.0 911.8h0M1743.5 903.5h0M1744.0 910.3h0M1744.5 914.1h0M1745.0 914.0h0M1745.5 910.9h0M1746.0 906.4h0M1746.5 904.1h0M1746.9 914.3h0M1747.4 906.8h0M1747.9 918.7h0M1748.4 915.2h0M1748.9 917.5h0M1749.4 904.3h0M1749.8 907.3h0M1750.3 918.4h0M1750.8 911.4h0M1751.3 917.1h0M1751.7 910.3h0M1752.2 904.4h0M1752.7 917.3h0M1753.2 896.5h0M1753.6 905.3h0M1754.1 918.9h0M1754.6 917.9h0M1755.1 904.6h0M1755.5 907.4h0M1756.0 920.6h0M1756.5 915.5h0M1756.9 913.2h0M1757.4 906.8h0M1757.9 904.8h0M1758.3 912.6h0M1758.8 912.6h0M1759.2 912.2h0M1759.7 913.1h0M1760.2 907.8h0M1760.6 904.9h0M1761.1 912.3h0M1761.5 918.1h0M1762.0 907.2h0M1762.4 914.0h0M1762.9 905.6h0M1763.4 905.7h0M1763.8 921.8h0M1764.3 907.2h0M1764.7 916.7h0M1765.2 911.7h0M1765.6 910.0h0M1766.1 906.8h0M1766.5 918.8h0M1766.9 915.5h0M1767.4 916.5h0M1767.8 917.3h0M1768.3 918.0h0M1768.7 907.3h0M1769.2 907.6h0M1769.6 915.5h0M1770.1 915.6h0M1770.5 923.8h0M1770.9 920.0h0M1771.4 907.5h0M1771.8 909.3h0M1772.2 909.4h0M1772.7 921.0h0M1773.1 917.5h0M1773.6 914.6h0M1774.0 907.7h0M1774.4 900.5h0M1774.9 923.7h0M1775.3 911.3h0M1775.7 922.9h0M1776.1 918.4h0M1776.6 907.9h0M1777.0 913.5h0M1777.4 918.6h0M1777.9 911.6h0M1778.3 908.1h0M1778.7 917.7h0M1779.1 908.1h0M1779.6 917.2h0M1780.0 928.6h0M1780.4 908.3h0M1780.8 912.5h0M1781.2 924.8h0M1781.7 908.2h0M1782.1 920.3h0M1782.5 918.1h0M1782.9 913.1h0M1783.3 921.4h0M1783.7 916.4h0M1784.2 909.0h0M1784.6 920.0h0M1785.0 911.9h0M1785.4 915.1h0M1785.8 922.2h0M1786.2 923.9h0M1786.6 930.4h0M1787.1 920.9h0M1787.5 912.1h0M1787.9 924.4h0M1788.3 914.2h0M1788.7 925.8h0M1789.1 916.9h0M1789.5 904.6h0M1789.9 927.1h0M1790.3 923.4h0M1790.7 915.2h0M1791.1 924.3h0M1791.5 929.0h0M1791.9 919.7h0M1792.3 924.0h0M1792.7 928.5h0M1793.1 930.5h0M1793.5 924.3h0M1793.9 918.2h0M1794.3 932.6h0M1794.7 929.7h0M1795.1 931.7h0M1795.5 920.8h0M1795.9 927.2h0M1796.3 922.2h0M1796.7 926.0h0M1797.1 921.1h0M1797.5 922.2h0M1797.9 932.6h0M1798.3 930.6h0M1798.7 931.9h0M1799.1 923.0h0M1799.4 926.1h0M1799.8 923.5h0M1800.2 922.6h0M1800.6 925.2h0M1801.0 924.3h0M1801.4 923.5h0M1801.8 927.8h0M1802.2 925.1h0M1802.5 937.0h0M1802.9 929.9h0M1803.3 922.9h0M1803.7 927.4h0M1804.1 935.7h0M1804.5 932.3h0M1804.8 918.3h0M1805.2 925.7h0M1805.6 936.2h0M1806.0 932.3h0M1806.4 923.2h0M1806.7 927.8h0M1807.1 925.0h0M1807.5 930.3h0M1807.9 925.4h0M1808.2 931.1h0M1808.6 918.6h0M1809.0 932.6h0M1809.4 923.5h0M1809.7 925.0h0M1810.1 928.9h0M1810.5 933.4h0M1810.9 929.8h0M1811.2 931.7h0M1811.6 936.7h0M1812.0 920.5h0M1812.3 923.8h0M1812.7 929.1h0M1813.1 935.3h0M1813.4 931.7h0M1813.8 934.7h0M1814.2 935.3h0M1814.5 933.7h0M1814.9 925.5h0M1815.3 924.1h0M1815.6 927.0h0M1816.0 925.2h0M1816.4 936.7h0M1816.7 935.2h0M1817.1 937.8h0M1817.4 938.4h0M1817.8 929.4h0M1818.2 924.4h0M1818.5 939.9h0M1818.9 926.3h0M1819.2 934.8h0M1819.6 935.5h0M1820.0 927.2h0M1820.3 938.8h0M1820.7 925.7h0M1821.0 924.7h0M1821.4 938.7h0M1821.7 936.1h0M1822.1 938.0h0M1822.5 927.0h0M1822.8 938.4h0M1823.2 938.5h0M1823.5 930.5h0M1823.9 925.1h0M1824.2 934.5h0M1824.6 928.3h0M1824.9 933.4h0M1825.3 929.2h0M1825.6 935.4h0M1826.0 937.5h0M1826.3 938.4h0M1826.7 925.9h0M1827.0 937.7h0M1827.4 938.3h0M1827.7 940.3h0M1828.0 932.6h0M1828.4 930.5h0M1828.7 933.0h0M1829.1 931.5h0M1829.4 926.8h0M1829.8 930.1h0M1830.1 931.9h0M1830.5 937.2h0M1830.8 935.3h0M1831.1 919.0h0M1831.5 934.0h0M1831.8 931.3h0M1832.2 927.6h0M1832.5 931.5h0M1832.8 931.3h0M1833.2 937.6h0M1833.5 928.7h0M1833.8 935.0h0M1834.2 935.6h0M1834.5 931.9h0M1834.9 928.4h0M1835.2 930.3h0M1835.5 933.4h0M1835.9 939.0h0M1836.2 934.4h0M1836.5 940.5h0M1836.9 930.8h0M1837.2 937.6h0M1837.5 929.2h0M1837.9 933.1h0M1838.2 932.7h0M1838.5 939.5h0M1838.9 930.9h0M1839.2 938.9h0M1839.5 931.3h0M1839.8 931.3h0M1840.2 930.0h0M1840.5 934.8h0M1840.8 936.8h0M1841.2 936.5h0M1841.5 931.2h0M1841.8 933.9h0M1842.1 935.9h0M1842.5 937.1h0M1842.8 930.8h0M1843.1 941.4h0M1843.4 931.7h0M1843.8 931.7h0M1844.1 937.3h0M1844.4 932.7h0M1844.7 934.1h0M1845.0 932.0h0M1845.4 931.1h0M1845.7 932.8h0M1846.0 933.2h0M1846.3 935.4h0M1846.7 934.3h0M1847.0 940.5h0M1847.3 937.5h0M1847.6 933.3h0M1847.9 931.4h0M1848.2 938.1h0M1848.6 935.2h0M1848.9 937.0h0M1849.2 940.9h0M1849.5 940.0h0M1849.8 935.1h0M1850.1 936.4h0M1850.5 931.7h0M1850.8 943.3h0M1851.1 932.5h0M1851.4 939.5h0M1851.7 933.1h0M1852.0 937.2h0M1852.3 935.9h0M1852.6 942.3h0M1853.0 931.9h0M1853.3 932.6h0M1853.6 932.7h0M1853.9 939.1h0M1854.2 941.3h0M1854.5 932.6h0M1854.8 938.4h0M1855.1 932.8h0M1855.4 944.5h0M1855.7 919.7h0M1856.1 932.3h0M1856.4 945.3h0M1856.7 939.0h0M1857.0 933.0h0M1857.3 939.3h0M1857.6 942.5h0M1857.9 936.3h0M1858.2 920.0h0M1858.5 935.6h0M1858.8 942.0h0M1859.1 932.6h0M1859.4 935.4h0M1859.7 939.4h0M1860.0 946.0h0M1860.3 944.6h0M1860.6 942.5h0M1860.9 940.3h0M1861.2 933.7h0M1861.5 936.5h0M1861.8 936.9h0M1862.1 932.9h0M1862.4 936.3h0M1862.7 944.2h0M1863.0 934.3h0M1863.3 935.9h0M1863.6 942.5h0M1863.9 938.0h0M1864.2 939.8h0M1864.5 945.1h0M1864.8 935.6h0M1865.1 933.2h0M1865.4 937.9h0M1865.7 935.5h0M1866.0 934.2h0M1866.3 939.4h0M1866.6 940.5h0M1866.9 946.2h0M1867.2 945.0h0M1867.5 937.0h0M1867.7 944.2h0M1868.0 933.1h0M1868.3 947.9h0M1868.6 935.8h0M1868.9 944.1h0M1869.2 936.0h0M1869.5 940.7h0M1869.8 936.2h0M1870.1 941.8h0M1870.4 932.8h0M1870.7 939.6h0M1870.9 932.1h0M1871.2 940.8h0M1871.5 942.4h0M1871.8 936.8h0M1872.1 944.3h0M1872.4 944.5h0M1872.7 932.1h0M1873.0 943.6h0M1873.2 934.3h0M1873.5 945.5h0M1873.8 931.1h0M1874.1 945.1h0M1874.4 941.0h0M1874.7 941.4h0M1875.0 947.8h0M1875.2 926.5h0M1875.5 942.3h0M1875.8 934.4h0M1876.1 934.4h0M1876.4 933.8h0M1876.7 930.2h0M1876.9 934.4h0M1877.2 940.0h0M1877.5 942.1h0M1877.8 933.2h0M1878.1 940.8h0M1878.3 945.8h0M1878.6 930.3h0M1878.9 946.1h0M1879.2 933.8h0M1879.5 929.2h0M1879.7 931.9h0M1880.0 936.7h0M1880.3 930.4h0M1880.6 937.3h0M1880.8 932.5h0M1881.1 939.7h0M1881.4 931.7h0M1881.7 941.5h0M1881.9 931.0h0M1882.2 929.6h0M1882.5 931.3h0M1882.8 948.8h0M1883.0 942.4h0M1883.3 931.8h0M1883.6 944.4h0M1883.9 938.9h0M1884.1 929.1h0M1884.4 949.4h0M1884.7 951.1h0M1885.0 930.2h0M1885.2 942.3h0M1885.5 932.5h0M1885.8 943.3h0M1886.0 946.5h0M1886.3 947.2h0M1886.6 941.7h0M1886.9 930.9h0M1887.1 932.6h0M1887.4 939.4h0M1887.7 930.7h0M1887.9 937.9h0M1888.2 935.6h0M1888.5 948.4h0M1888.7 932.1h0M1889.0 933.3h0M1889.3 940.8h0M1889.5 943.2h0M1889.8 939.7h0M1890.1 940.2h0M1890.3 931.3h0M1890.6 947.0h0M1890.9 936.3h0M1891.1 933.4h0M1891.4 937.7h0M1891.7 944.2h0M1891.9 941.7h0M1892.2 946.2h0M1892.5 951.0h0M1892.7 945.3h0M1893.0 932.0h0M1893.3 938.4h0M1893.5 936.9h0M1893.8 942.1h0M1894.0 947.8h0M1894.3 943.0h0M1894.6 935.8h0M1894.8 945.5h0M1895.1 943.2h0M1895.4 945.8h0M1895.6 932.8h0M1895.9 944.8h0M1896.1 942.3h0M1896.4 936.1h0M1896.6 936.4h0M1896.9 948.1h0M1897.2 928.0h0M1897.4 945.2h0M1897.7 939.2h0M1897.9 938.3h0M1898.2 933.6h0M1898.5 947.8h0M1898.7 947.8h0M1899.0 934.0h0M1899.2 941.3h0M1899.5 938.2h0M1899.7 948.2h0M1900.0 953.2h0M1900.3 946.7h0M1900.5 943.3h0M1900.8 934.4h0M1901.0 936.9h0M1901.3 945.5h0M1901.5 939.1h0M1901.8 946.4h0M1902.0 941.4h0M1902.3 937.2h0M1902.5 947.7h0M1902.8 944.7h0M1903.0 935.4h0M1903.3 935.1h0M1903.5 937.1h0M1903.8 941.9h0M1904.1 945.7h0M1904.3 949.7h0M1904.6 937.7h0M1904.8 950.4h0M1905.1 936.8h0M1905.3 936.9h0M1905.6 936.7h0M1905.8 935.9h0M1906.1 954.2h0M1906.3 946.4h0M1906.6 939.0h0M1906.8 943.4h0M1907.0 944.6h0M1907.3 951.2h0M1907.5 951.6h0M1907.8 942.1h0M1908.0 951.5h0M1908.3 941.8h0M1908.5 946.5h0M1908.8 936.6h0M1909.0 944.4h0M1909.3 940.4h0M1909.5 936.9h0M1909.8 950.3h0M1910.0 947.8h0M1910.3 946.2h0M1910.5 946.1h0M1910.7 950.7h0M1911.0 949.0h0M1911.2 953.3h0M1911.5 944.7h0M1911.7 937.0h0M1912.0 952.7h0M1912.2 956.3h0M1912.4 945.5h0M1912.7 949.1h0M1912.9 949.0h0M1913.2 937.4h0M1913.4 953.0h0M1913.7 944.5h0M1913.9 945.5h0M1914.1 938.3h0M1914.4 951.3h0M1914.6 937.4h0M1914.9 939.4h0M1915.1 949.2h0M1915.3 947.8h0M1915.6 952.8h0M1915.8 951.0h0M1916.1 924.7h0M1916.3 943.1h0M1916.5 952.6h0M1916.8 951.6h0M1917.0 948.0h0M1917.3 948.0h0M1917.5 937.8h0M1917.7 937.8h0M1918.0 940.5h0M1918.2 941.6h0M1918.4 943.0h0M1918.7 948.2h0M1918.9 943.6h0M1919.1 940.7h0M1919.4 942.8h0M1919.6 956.2h0M1919.9 941.8h0M1920.1 942.6h0M1920.3 938.2h0M1920.6 941.6h0M1920.8 949.3h0M1921.0 946.5h0M1921.3 953.3h0M1921.5 947.9h0M1921.7 944.3h0M1922.0 951.3h0M1922.2 945.4h0M1922.4 949.4h0M1922.7 951.1h0M1922.9 949.0h0M1923.1 938.5h0M1923.4 947.3h0M1923.6 947.7h0M1923.8 942.3h0M1924.1 944.6h0M1924.3 945.5h0M1924.5 953.4h0M1924.7 955.0h0M1925.0 949.2h0M1925.2 929.6h0M1925.4 944.6h0M1925.7 941.3h0M1925.9 938.9h0M1926.1 948.3h0M1926.4 941.7h0M1926.6 943.8h0M1926.8 947.1h0M1927.0 945.8h0M1927.3 957.4h0M1927.5 955.8h0M1927.7 940.5h0M1927.9 939.7h0M1928.2 947.6h0M1928.4 946.5h0M1928.6 939.3h0M1928.9 954.9h0M1929.1 944.2h0M1929.3 942.9h0M1929.5 952.7h0M1929.8 947.0h0M1930.0 942.9h0M1930.2 940.4h0M1930.4 949.8h0M1930.7 954.3h0M1930.9 944.3h0M1931.1 946.3h0M1931.3 939.6h0M1931.6 950.1h0M1931.8 956.3h0M1932.0 941.1h0M1932.2 950.3h0M1932.5 956.0h0M1932.7 955.0h0M1932.9 946.8h0M1933.1 956.1h0M1933.3 943.9h0M1933.6 944.2h0M1933.8 956.5h0M1934.0 940.0h0M1934.2 951.5h0M1934.5 951.7h0M1934.7 942.4h0M1934.9 955.3h0M1935.1 949.6h0M1935.3 940.7h0M1935.6 955.0h0M1935.8 946.4h0M1936.0 952.1h0M1936.2 957.6h0M1936.4 950.8h0M1936.7 940.0h0M1936.9 949.4h0M1937.1 944.6h0M1937.3 941.3h0M1937.5 941.4h0M1937.8 947.5h0M1938.0 952.0h0M1938.2 945.9h0M1938.4 954.6h0M1938.6 950.5h0M1938.8 951.2h0M1939.1 940.7h0M1939.3 939.9h0M1939.5 949.7h0M1939.7 951.4h0M1939.9 947.4h0M1940.1 947.4h0M1940.4 942.1h0M1940.6 947.9h0M1940.8 940.3h0M1941.0 955.1h0M1941.2 946.2h0M1941.4 949.2h0M1941.6 951.1h0M1941.9 939.8h0M1942.1 957.3h0M1942.3 949.6h0M1942.5 940.8h0M1942.7 947.4h0M1942.9 949.7h0M1943.1 955.0h0M1943.4 954.7h0M1943.6 942.0h0M1943.8 954.0h0M1944.0 951.5h0M1944.2 950.2h0M1944.4 939.8h0M1944.6 952.9h0M1944.8 952.6h0M1945.1 949.3h0M1945.3 954.1h0M1945.5 946.2h0M1945.7 948.6h0M1945.9 944.9h0M1946.1 953.1h0M1946.3 952.4h0M1946.5 948.8h0M1946.7 949.8h0M1947.0 939.7h0M1947.2 928.9h0M1947.4 948.2h0M1947.6 950.3h0M1947.8 950.2h0M1948.0 943.2h0M1948.2 955.7h0M1948.4 953.4h0M1948.6 940.4h0M1948.8 950.8h0M1949.0 955.6h0M1949.3 952.8h0M1949.5 939.7h0M1949.7 940.1h0M1949.9 951.5h0M1950.1 958.1h0M1950.3 955.1h0M1950.5 942.7h0M1950.7 947.2h0M1950.9 941.4h0M1951.1 950.2h0M1951.3 949.6h0M1951.5 947.9h0M1951.7 946.1h0M1951.9 948.0h0M1952.2 952.6h0M1952.4 939.6h0M1952.6 940.6h0M1952.8 947.3h0M1953.0 949.4h0M1953.2 955.8h0M1953.4 939.9h0M1953.6 956.7h0M1953.8 957.0h0M1954.0 951.3h0M1954.2 940.9h0M1954.4 951.1h0M1954.6 941.1h0M1954.8 941.9h0M1955.0 951.1h0M1955.2 939.6h0M1955.4 950.6h0M1955.6 941.9h0M1955.8 945.1h0M1956.0 945.1h0M1956.2 946.5h0M1956.4 946.3h0M1956.6 958.7h0M1956.8 942.0h0M1957.0 952.3h0M1957.2 954.6h0M1957.4 951.7h0M1957.6 943.8h0M1957.8 942.6h0M1958.0 940.2h0M1958.2 948.0h0M1958.4 943.8h0M1958.6 944.4h0M1958.8 944.3h0M1959.0 948.6h0M1959.2 946.4h0M1959.4 955.5h0M1959.6 948.8h0M1959.8 957.5h0M1960.0 950.1h0M1960.2 956.0h0M1960.4 942.9h0M1960.6 943.7h0M1960.8 941.1h0M1961.0 942.4h0M1961.2 955.9h0M1961.4 946.4h0M1961.6 951.2h0M1961.8 946.3h0M1962.0 945.3h0M1962.2 942.6h0M1962.4 942.4h0M1962.6 949.3h0M1962.8 943.1h0M1963.0 951.4h0M1963.2 946.5h0M1963.4 949.7h0M1963.6 942.0h0M1963.8 956.1h0M1964.0 946.1h0M1964.2 944.7h0M1964.4 946.8h0M1964.6 956.1h0M1964.8 948.2h0M1965.0 945.3h0M1965.1 930.2h0M1965.3 942.9h0M1965.5 960.3h0M1965.7 956.3h0M1965.9 948.7h0M1966.1 958.8h0M1966.3 942.9h0M1966.5 952.3h0M1966.7 943.8h0M1966.9 954.6h0M1967.1 951.5h0M1967.3 959.1h0M1967.5 952.4h0M1967.7 949.2h0M1967.9 956.8h0M1968.0 954.1h0M1968.2 947.7h0M1968.4 952.9h0M1968.6 955.8h0M1968.8 957.4h0M1969.0 943.7h0M1969.2 947.5h0M1969.4 952.6h0M1969.6 955.3h0M1969.8 958.6h0M1970.0 948.6h0M1970.2 946.2h0M1970.3 954.8h0M1970.5 953.2h0M1970.7 945.0h0M1970.9 955.6h0M1971.1 953.9h0M1971.3 953.6h0M1971.5 950.7h0M1971.7 944.6h0M1971.9 945.8h0M1972.1 948.1h0M1972.2 933.1h0M1972.4 958.6h0M1972.6 946.5h0M1972.8 948.7h0M1973.0 954.5h0M1973.2 960.8h0M1973.4 957.1h0M1973.6 954.7h0M1973.7 949.5h0M1973.9 951.8h0M1974.1 950.8h0M1974.3 945.5h0M1974.5 953.6h0M1974.7 952.9h0M1974.9 950.0h0M1975.1 945.9h0M1975.2 956.4h0M1975.4 946.7h0M1975.6 955.2h0M1975.8 952.4h0M1976.0 955.4h0M1976.2 946.6h0M1976.4 950.2h0M1976.5 955.1h0M1976.7 948.6h0M1976.9 946.3h0M1977.1 952.2h0M1977.3 953.6h0M1977.5 953.7h0M1977.7 949.4h0M1977.8 956.5h0M1978.0 957.4h0M1978.2 950.8h0M1978.4 955.0h0M1978.6 956.2h0M1978.8 956.5h0M1978.9 958.0h0M1979.1 953.8h0M1979.3 950.5h0M1979.5 946.2h0M1979.7 954.9h0M1979.9 958.2h0M1980.0 956.1h0M1980.2 957.3h0M1980.4 953.7h0M1980.6 958.5h0M1980.8 949.2h0M1981.0 951.6h0M1981.1 948.8h0M1981.3 947.0h0M1981.5 947.3h0M1981.7 955.1h0M1981.9 957.4h0M1982.0 945.7h0M1982.2 960.1h0M1982.4 947.3h0M1982.6 950.8h0M1982.8 954.3h0M1983.0 951.2h0M1983.1 955.8h0M1983.3 957.7h0M1983.5 958.9h0M1983.7 941.1h0M1983.9 946.6h0M1984.0 951.3h0M1984.2 953.8h0M1984.4 947.9h0M1984.6 945.2h0M1984.8 957.4h0M1984.9 949.5h0M1985.1 953.2h0M1985.3 950.5h0M1985.5 945.6h0M1985.6 958.8h0M1985.8 945.9h0M1986.0 956.9h0M1986.2 958.1h0M1986.4 954.8h0M1986.5 947.8h0M1986.7 955.0h0M1986.9 958.9h0M1987.1 948.5h0M1987.2 950.3h0M1987.4 944.7h0M1987.6 948.3h0M1987.8 945.5h0M1988.0 954.8h0M1988.1 947.0h0M1988.3 952.9h0M1988.5 952.3h0M1988.7 959.3h0M1988.8 946.2h0M1989.0 950.0h0M1989.2 953.9h0M1989.4 958.9h0M1989.5 961.2h0M1989.7 954.4h0M1989.9 949.9h0M1990.1 947.2h0M1990.2 944.1h0M1990.4 955.3h0M1990.6 959.3h0M1990.8 946.4h0M1990.9 956.7h0M1991.1 947.3h0M1991.3 949.1h0M1991.5 954.7h0M1991.6 956.6h0M1991.8 958.1h0M1992.0 957.0h0M1992.2 948.0h0M1992.3 945.1h0M1992.5 950.0h0M1992.7 956.2h0M1992.9 948.0h0M1993.0 944.8h0M1993.2 947.4h0M1993.4 952.0h0M1993.6 949.3h0M1993.7 957.3h0M1993.9 957.2h0M1994.1 958.8h0M1994.2 947.0h0M1994.4 952.4h0M1994.6 958.1h0M1994.8 946.6h0M1994.9 952.8h0M1995.1 957.5h0M1995.3 959.1h0M1995.4 958.9h0M1995.6 951.9h0M1995.8 945.4h0M1996.0 947.8h0M1996.1 948.7h0M1996.3 952.0h0M1996.5 954.8h0M1996.6 949.2h0M1996.8 948.3h0M1997.0 953.2h0M1997.2 950.4h0M1997.3 948.4h0M1997.5 961.2h0M1997.7 952.2h0M1997.8 957.0h0M1998.0 953.8h0M1998.2 956.2h0M1998.3 924.4h0M1998.5 946.0h0M1998.7 951.3h0M1998.8 951.2h0M1999.0 947.5h0M1999.2 948.8h0M1999.4 954.4h0M1999.5 956.2h0M1999.7 952.8h0M1999.9 948.0h0M2000.0 946.9h0M2000.2 946.9h0M2000.4 954.5h0M2000.5 952.3h0M2000.7 958.4h0M2000.9 954.1h0M2001.0 949.6h0M2001.2 946.6h0M2001.4 958.3h0M2001.5 955.6h0M2001.7 957.6h0M2001.9 957.8h0M2002.0 958.9h0M2002.2 955.0h0M2002.4 958.0h0M2002.5 948.0h0M2002.7 959.8h0M2002.9 959.7h0M2003.0 956.7h0M2003.2 948.8h0M2003.4 949.0h0M2003.5 956.6h0M2003.7 959.4h0M2003.9 947.3h0M2004.0 961.0h0M2004.2 948.4h0M2004.4 954.9h0M2004.5 954.0h0M2004.7 957.8h0M2004.9 949.9h0M2005.0 948.6h0M2005.2 949.7h0M2005.3 950.5h0M2005.5 955.3h0M2005.7 959.4h0M2005.8 960.1h0M2006.0 953.6h0M2006.2 950.3h0M2006.3 958.5h0M2006.5 947.9h0M2006.7 955.3h0M2006.8 952.3h0M2007.0 960.0h0M2007.2 960.3h0M2007.3 958.8h0M2007.5 954.1h0M2007.6 955.6h0M2007.8 948.6h0M2008.0 954.5h0M2008.1 949.7h0M2008.3 959.0h0M2008.5 961.3h0M2008.6 950.4h0M2008.8 935.9h0M2008.9 960.5h0M2009.1 948.5h0M2009.3 954.3h0M2009.4 958.4h0M2009.6 950.1h0M2009.7 950.9h0M2009.9 956.0h0M2010.1 959.1h0M2010.2 963.4h0M2010.4 950.1h0M2010.6 956.9h0M2010.7 954.5h0M2010.9 960.4h0M2011.0 954.5h0M2011.2 949.2h0M2011.4 950.4h0M2011.5 957.4h0M2011.7 949.1h0M2011.8 955.0h0M2012.0 955.2h0M2012.2 952.5h0M2012.3 962.1h0M2012.5 953.3h0M2012.6 949.4h0M2012.8 960.9h0M2013.0 957.5h0M2013.1 956.5h0M2013.3 951.2h0M2013.4 961.4h0M2013.6 963.1h0M2013.8 958.8h0M2013.9 951.3h0M2014.1 960.1h0M2014.2 949.6h0M2014.4 953.6h0M2014.5 962.9h0M2014.7 953.9h0M2014.9 957.1h0M2015.0 957.5h0M2015.2 952.4h0M2015.3 958.3h0M2015.5 956.9h0M2015.6 959.9h0M2015.8 952.4h0M2016.0 952.7h0M2016.1 953.3h0M2016.3 962.9h0M2016.4 957.7h0M2016.6 964.6h0M2016.7 950.2h0M2016.9 950.7h0M2017.1 961.4h0M2017.2 955.2h0M2017.4 941.8h0M2017.5 958.5h0M2017.7 960.2h0M2017.8 962.8h0M2018.0 953.9h0M2018.2 959.4h0M2018.3 958.1h0M2018.5 959.8h0M2018.6 959.4h0M2018.8 951.3h0M2018.9 955.1h0M2019.1 952.4h0M2019.2 958.2h0M2019.4 953.5h0M2019.6 950.9h0M2019.7 961.8h0M2019.9 951.5h0M2020.0 962.5h0M2020.2 956.5h0M2020.3 958.9h0M2020.5 954.7h0M2020.6 960.0h0M2020.8 955.8h0M2020.9 955.1h0M2021.1 963.1h0M2021.3 956.4h0M2021.4 957.3h0M2021.6 959.4h0M2021.7 962.2h0M2021.9 962.7h0M2022.0 954.8h0M2022.2 958.3h0M2022.3 951.5h0M2022.5 960.6h0M2022.6 954.0h0M2022.8 962.1h0M2022.9 960.7h0M2023.1 963.2h0M2023.2 953.7h0M2023.4 953.3h0M2023.5 958.8h0M2023.7 960.0h0M2023.9 954.0h0M2024.0 965.2h0M2024.2 962.1h0M2024.3 957.4h0M2024.5 957.5h0M2024.6 955.0h0M2024.8 955.2h0M2024.9 952.1h0M2025.1 952.1h0M2025.2 952.8h0M2025.4 960.6h0M2025.5 955.6h0M2025.7 958.4h0M2025.8 958.6h0M2026.0 964.0h0M2026.1 960.9h0M2026.3 957.3h0M2026.4 962.8h0M2026.6 959.7h0M2026.7 960.6h0M2026.9 958.1h0M2027.0 962.1h0M2027.2 955.8h0M2027.3 960.2h0M2027.5 964.0h0M2027.6 952.4h0M2027.8 952.0h0M2027.9 955.3h0M2028.1 954.1h0M2028.2 962.9h0M2028.4 963.0h0M2028.5 964.2h0M2028.7 949.5h0M2028.8 955.3h0M2029.0 963.0h0M2029.1 952.5h0M2029.3 958.7h0M2029.4 954.0h0M2029.6 957.4h0M2029.7 957.9h0M2029.9 959.9h0M2030.0 956.3h0M2030.2 959.6h0M2030.3 954.2h0M2030.5 951.9h0M2030.6 963.9h0M2030.8 966.1h0M2030.9 963.0h0M2031.0 962.7h0M2031.2 951.8h0M2031.3 954.9h0M2031.5 960.8h0M2031.6 959.6h0M2031.8 958.4h0M2031.9 961.4h0M2032.1 961.3h0M2032.2 962.2h0M2032.4 962.4h0M2032.5 963.0h0M2032.7 953.5h0M2032.8 955.0h0M2033.0 951.9h0M2033.1 951.7h0M2033.3 963.0h0M2033.4 958.6h0M2033.5 952.9h0M2033.7 957.0h0M2033.8 954.2h0M2034.0 962.1h0M2034.1 963.6h0M2034.3 952.1h0M2034.4 958.7h0M2034.6 953.2h0M2034.7 957.7h0M2034.9 961.2h0M2035.0 955.7h0M2035.1 959.1h0M2035.3 963.6h0M2035.4 954.6h0M2035.6 951.5h0M2035.7 951.5h0M2035.9 956.2h0M2036.0 954.6h0M2036.2 954.4h0M2036.3 965.7h0M2036.5 952.8h0M2036.6 965.3h0M2036.7 964.8h0M2036.9 956.6h0M2037.0 963.8h0M2037.2 954.9h0M2037.3 951.6h0M2037.5 955.3h0M2037.6 963.9h0M2037.7 961.8h0M2037.9 928.6h0M2038.0 957.0h0M2038.2 958.7h0M2038.3 951.3h0M2038.5 963.4h0M2038.6 961.1h0M2038.7 960.5h0M2038.9 961.5h0M2039.0 954.4h0M2039.2 963.0h0M2039.3 962.0h0M2039.5 958.4h0M2039.6 959.4h0M2039.7 959.3h0M2039.9 965.3h0M2040.0 959.1h0M2040.2 954.0h0M2040.3 952.6h0M2040.5 954.3h0M2040.6 960.8h0M2040.7 956.5h0M2040.9 951.1h0M2041.0 959.1h0M2041.2 951.8h0M2041.3 958.4h0M2041.5 956.0h0M2041.6 959.1h0M2041.7 956.6h0M2041.9 957.6h0M2042.0 965.6h0M2042.2 962.4h0M2042.3 955.4h0M2042.4 958.2h0M2042.6 954.1h0M2042.7 963.6h0M2042.9 965.2h0M2043.0 956.0h0M2043.1 957.1h0M2043.3 956.7h0M2043.4 951.0h0M2043.6 962.4h0M2043.7 951.9h0M2043.8 952.7h0M2044.0 952.4h0M2044.1 954.2h0M2044.3 962.1h0M2044.4 953.1h0M2044.5 951.7h0M2044.7 951.5h0M2044.8 952.5h0M2045.0 954.3h0M2045.1 962.8h0M2045.2 963.7h0M2045.4 957.8h0M2045.5 952.4h0M2045.7 958.2h0M2045.8 958.2h0M2045.9 950.8h0M2046.1 964.5h0M2046.2 959.4h0M2046.3 961.2h0M2046.5 967.7h0M2046.6 963.0h0M2046.8 953.7h0M2046.9 951.2h0M2047.0 954.5h0M2047.2 951.5h0M2047.3 958.4h0M2047.5 961.3h0M2047.6 951.4h0M2047.7 962.5h0M2047.9 965.6h0M2048.0 957.6h0M2048.1 952.3h0M2048.3 959.5h0M2048.4 960.7h0M2048.6 956.8h0M2048.7 950.6h0M2048.8 957.6h0M2049.0 962.0h0M2049.1 965.2h0M2049.2 957.5h0M2049.4 938.0h0M2049.5 955.1h0M2049.6 957.6h0M2049.8 966.4h0M2049.9 955.6h0M2050.1 963.8h0M2050.2 967.3h0M2050.3 960.0h0M2050.5 954.3h0M2050.6 961.4h0M2050.7 960.8h0M2050.9 955.6h0M2051.0 958.9h0M2051.1 958.8h0M2051.3 951.6h0M2051.4 950.4h0M2051.6 957.0h0M2051.7 965.3h0M2051.8 954.4h0M2052.0 961.6h0M2052.1 969.3h0M2052.2 957.4h0M2052.4 951.9h0M2052.5 966.1h0M2052.6 966.4h0M2052.8 951.3h0M2052.9 959.0h0M2053.0 953.9h0M2053.2 959.6h0M2053.3 967.1h0M2053.4 954.4h0M2053.6 961.7h0M2053.7 959.4h0M2053.8 956.8h0M2054.0 956.6h0M2054.1 950.2h0M2054.2 957.4h0M2054.4 942.7h0M2054.5 954.9h0M2054.7 965.9h0M2054.8 952.5h0M2054.9 950.5h0M2055.1 953.7h0M2055.2 960.1h0M2055.3 961.1h0M2055.5 952.1h0M2055.6 967.6h0M2055.7 951.9h0M2055.9 963.0h0M2056.0 961.3h0M2056.1 962.6h0M2056.3 960.9h0M2056.4 955.0h0M2056.5 950.1h0M2056.6 960.7h0M2056.8 950.0h0M2056.9 962.8h0M2057.0 957.3h0M2057.2 955.4h0M2057.3 955.7h0M2057.4 957.2h0M2057.6 955.3h0M2057.7 956.3h0M2057.8 952.3h0M2058.0 956.2h0M2058.1 950.3h0M2058.2 956.4h0M2058.4 954.3h0M2058.5 966.9h0M2058.6 953.5h0M2058.8 954.1h0M2058.9 960.1h0M2059.0 965.1h0M2059.2 965.7h0M2059.3 962.7h0M2059.4 949.9h0M2059.5 959.0h0M2059.7 958.2h0M2059.8 951.7h0M2059.9 953.6h0M2060.1 957.7h0M2060.2 967.7h0M2060.3 966.8h0M2060.5 957.1h0M2060.6 964.6h0M2060.7 957.3h0M2060.9 957.4h0M2061.0 955.2h0M2061.1 952.8h0M2061.2 960.0h0M2061.4 961.9h0M2061.5 949.9h0M2061.6 969.3h0M2061.8 960.9h0M2061.9 958.2h0M2062.0 949.3h0M2062.2 966.3h0M2062.3 960.9h0M2062.4 966.0h0M2062.5 954.2h0M2062.7 951.0h0M2062.8 950.4h0M2062.9 956.8h0M2063.1 960.3h0M2063.2 951.9h0M2063.3 961.8h0M2063.4 963.5h0M2063.6 963.7h0M2063.7 966.6h0M2063.8 965.2h0M2064.0 950.7h0M2064.1 959.4h0M2064.2 967.1h0M2064.3 960.3h0M2064.5 962.3h0M2064.6 948.5h0M2064.7 966.1h0M2064.9 952.2h0M2065.0 959.4h0M2065.1 950.5h0M2065.2 965.1h0M2065.4 961.0h0M2065.5 949.4h0M2065.6 956.6h0M2065.8 950.1h0M2065.9 950.8h0M2066.0 956.6h0M2066.1 954.2h0M2066.3 949.2h0M2066.4 963.2h0M2066.5 951.6h0M2066.7 950.7h0M2066.8 967.0h0M2066.9 961.5h0M2067.0 958.1h0M2067.2 947.8h0M2067.3 959.6h0M2067.4 958.4h0M2067.5 968.3h0M2067.7 965.3h0M2067.8 961.2h0M2067.9 958.8h0M2068.0 948.2h0M2068.2 962.3h0M2068.3 953.2h0M2068.4 968.6h0M2068.6 957.2h0M2068.7 951.8h0M2068.8 961.8h0M2068.9 964.1h0M2069.1 964.3h0M2069.2 958.4h0M2069.3 956.1h0M2069.4 948.8h0M2069.6 962.5h0M2069.7 947.2h0M2069.8 966.3h0M2069.9 961.1h0M2070.1 965.3h0M2070.2 952.3h0M2070.3 960.9h0M2070.4 954.3h0M2070.6 957.0h0M2070.7 960.3h0M2070.8 953.7h0M2070.9 964.8h0M2071.1 971.7h0M2071.2 952.0h0M2071.3 961.8h0M2071.4 957.8h0M2071.6 951.6h0M2071.7 951.1h0M2071.8 950.0h0M2071.9 950.3h0M2072.1 950.9h0M2072.2 954.1h0M2072.3 965.7h0M2072.4 946.5h0M2072.6 968.0h0M2072.7 965.0h0M2072.8 962.2h0M2072.9 970.4h0M2073.1 964.2h0M2073.2 947.9h0M2073.3 963.7h0M2073.4 954.4h0M2073.5 949.5h0M2073.7 968.2h0M2073.8 954.0h0M2073.9 952.9h0M2074.0 948.1h0M2074.2 968.1h0M2074.3 954.5h0M2074.4 939.0h0M2074.5 953.6h0M2074.7 956.8h0M2074.8 947.4h0M2074.9 949.0h0M2075.0 961.2h0M2075.1 945.9h0M2075.3 965.5h0M2075.4 948.3h0M2075.5 963.5h0M2075.6 946.2h0M2075.8 970.6h0M2075.9 945.9h0M2076.0 963.3h0M2076.1 965.1h0M2076.3 969.2h0M2076.4 950.9h0M2076.5 959.8h0M2076.6 956.1h0M2076.7 960.6h0M2076.9 948.7h0M2077.0 955.0h0M2077.1 950.0h0M2077.2 962.3h0M2077.3 950.8h0M2077.5 968.0h0M2077.6 946.4h0M2077.7 973.0h0M2077.8 945.2h0M2078.0 964.6h0M2078.1 963.3h0M2078.2 957.8h0M2078.3 970.0h0M2078.4 962.1h0M2078.6 964.4h0M2078.7 950.5h0M2078.8 949.5h0M2078.9 956.8h0M2079.0 954.0h0M2079.2 959.9h0M2079.3 967.1h0M2079.4 949.0h0M2079.5 960.9h0M2079.6 960.2h0M2079.8 945.4h0M2079.9 945.1h0M2080.0 962.4h0M2080.1 949.0h0M2080.2 950.1h0M2080.4 962.6h0M2080.5 944.6h0M2080.6 946.1h0M2080.7 960.2h0M2080.8 959.6h0M2081.0 958.5h0M2081.1 947.1h0M2081.2 968.1h0M2081.3 967.3h0M2081.4 940.1h0M2081.6 944.4h0M2081.7 952.5h0M2081.8 958.5h0" stroke="#763240" stroke-width="14.8" stroke-linecap="round"/>
</g>
<path d="M175.79999999999998 74.45H2082.2000000000003M175.79999999999998 1151.5H2082.2000000000003" stroke="#000" stroke-width="3.05" fill="none"/>
<path d="M176.95 74.45V1151.5M2081.05 74.45V1151.5" stroke="#000" stroke-width="2.3" fill="none"/>
<path d="M266.90 1151.5v13.1" stroke="#000" stroke-width="2.0" fill="none"/>
<path d="M816.70 1151.5v13.1" stroke="#000" stroke-width="3.1" fill="none"/>
<path d="M1366.50 1151.5v13.1" stroke="#000" stroke-width="3.1" fill="none"/>
<path d="M1916.30 1151.5v13.1" stroke="#000" stroke-width="3.1" fill="none"/>
<path d="M182.43 1151.5v7.4M213.62 1151.5v7.4M241.74 1151.5v7.4M432.41 1151.5v7.4M529.22 1151.5v7.4M694.73 1151.5v7.4M731.53 1151.5v7.4M763.42 1151.5v7.4M791.54 1151.5v7.4M982.21 1151.5v7.4M1079.02 1151.5v7.4M1244.53 1151.5v7.4M1313.22 1151.5v7.4M1341.34 1151.5v7.4M1532.01 1151.5v7.4M1628.82 1151.5v7.4M1697.51 1151.5v7.4M1750.79 1151.5v7.4M1863.02 1151.5v7.4M1891.14 1151.5v7.4M2081.05 1151.5v7.4M2081.05 1151.5v7.4" stroke="#000" stroke-width="2.8" fill="none"/>
<path d="M597.91 1151.5v7.4M651.19 1151.5v7.4M1147.71 1151.5v7.4M1200.99 1151.5v7.4M1281.33 1151.5v7.4M1794.33 1151.5v7.4M1831.13 1151.5v7.4" stroke="#000" stroke-width="1.9" fill="none"/>
<path d="M176.95 1151.50h-13.7M176.95 971.99h-13.7M176.95 792.48h-13.7M176.95 612.98h-13.7M176.95 433.47h-13.7M176.95 253.96h-13.7M176.95 74.45h-13.7" stroke="#000" stroke-width="3.05" fill="none"/>
<g font-family="'DejaVu Sans','Liberation Sans',sans-serif" font-size="37.5" fill="#000">
<text transform="translate(149.45 1164.15) scale(0.997 1)" text-anchor="end">0.00</text>
<text transform="translate(149.45 984.64) scale(0.997 1)" text-anchor="end">0.01</text>
<text transform="translate(149.45 805.13) scale(0.997 1)" text-anchor="end">0.02</text>
<text transform="translate(149.45 625.62) scale(0.997 1)" text-anchor="end">0.03</text>
<text transform="translate(149.45 446.12) scale(0.997 1)" text-anchor="end">0.04</text>
<text transform="translate(149.45 266.61) scale(0.997 1)" text-anchor="end">0.05</text>
<text transform="translate(149.45 87.10) scale(0.997 1)" text-anchor="end">0.06</text>
</g>
<text transform="translate(255.49 1204.9) scale(0.9896 1)" font-family="'DejaVu Sans','Liberation Sans',sans-serif" font-size="37.5" fill="#000">1</text>
<text transform="translate(792.70 1204.9) scale(0.9860 1)" font-family="'DejaVu Sans','Liberation Sans',sans-serif" font-size="37.5" fill="#000">10</text>
<text transform="translate(1331.74 1204.9) scale(0.9764 1)" font-family="'DejaVu Sans','Liberation Sans',sans-serif" font-size="37.5" fill="#000">100</text>
<text transform="translate(1868.60 1204.9) scale(0.9854 1)" font-family="'DejaVu Sans','Liberation Sans',sans-serif" font-size="37.5" fill="#000">1000</text>
<text transform="translate(1039.27 1263.2) scale(0.9781 1)" font-family="'DejaVu Sans','Liberation Sans',sans-serif" font-size="45.8" font-weight="bold" fill="#000">Epochs</text>
<text transform="translate(45.05 617.8) rotate(-90) scale(1.012 0.973)" text-anchor="middle" font-family="'DejaVu Sans','Liberation Sans',sans-serif" font-weight="bold" font-size="44" fill="#000">MSE</text>
<text transform="translate(542.00 50.4) scale(1.0016 1)" font-family="'DejaVu Sans','Liberation Sans',sans-serif" font-size="52.4" font-weight="bold" fill="#000">Training and test performace vs epochs</text>
<rect x="1838.0" y="92.95" width="224.69999999999982" height="120.24999999999999" rx="6.5" fill="#fff" fill-opacity="0.8" stroke="#ccc" stroke-opacity="0.8" stroke-width="3.4"/>
<path d="M1848 122.6H1931.2" stroke="#000" stroke-width="7.3" fill="none"/>
<ellipse cx="1890.4" cy="122.6" rx="6.9" ry="7.4" fill="#000"/>
<text transform="translate(1958.17 135.9) scale(0.9964 1)" font-family="'DejaVu Sans','Liberation Sans',sans-serif" font-size="37.5" fill="#000">Train</text>
<path d="M1848 176.6H1931.2" stroke="#763240" stroke-width="7.3" fill="none"/>
<ellipse cx="1890.4" cy="176.6" rx="6.9" ry="7.4" fill="#763240"/>
<text transform="translate(1958.17 190.6) scale(0.9892 1)" font-family="'DejaVu Sans','Liberation Sans',sans-serif" font-size="37.5" fill="#000">Test</text>
</svg>
</body></html>
